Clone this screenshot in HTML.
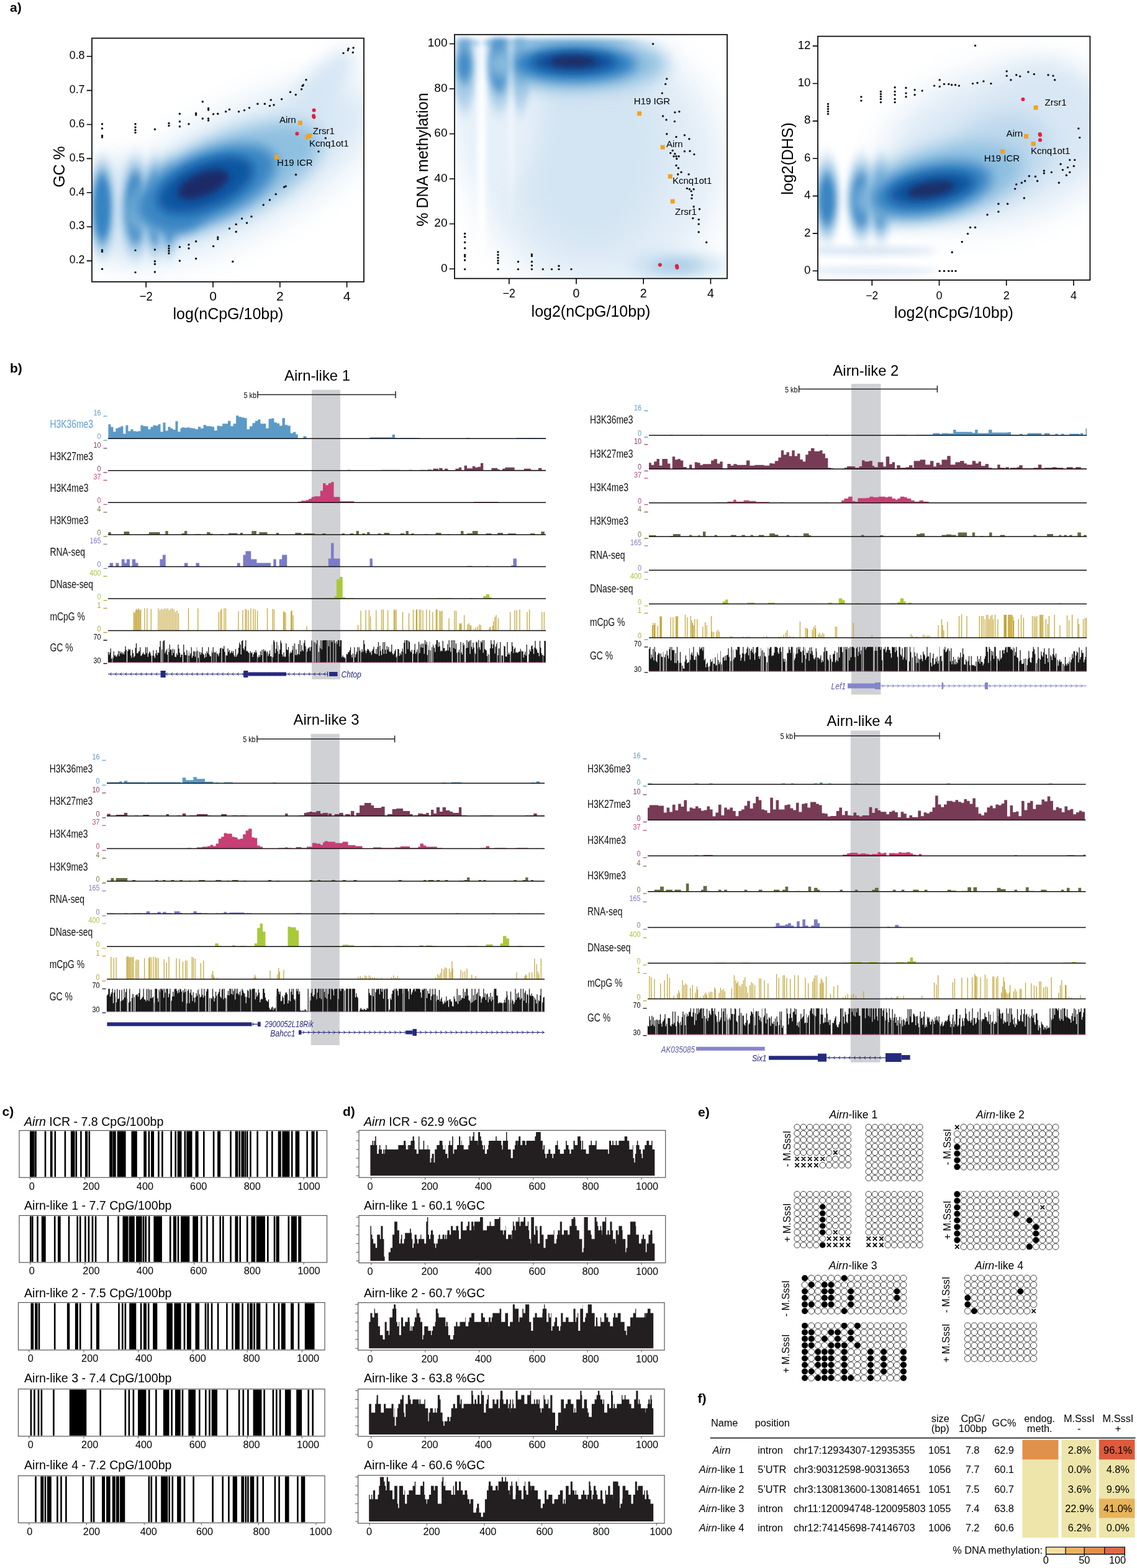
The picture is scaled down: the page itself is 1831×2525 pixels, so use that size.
<!DOCTYPE html>
<html><head><meta charset="utf-8"><title>Figure</title>
<style>html,body{margin:0;padding:0;background:#fff;} svg{display:block;} text{font-family:'Liberation Sans', Arial, Helvetica, sans-serif;}</style>
</head><body>
<svg width="1831" height="2525" viewBox="0 0 1831 2525" font-family="Liberation Sans, Arial, sans-serif">
<defs><filter id="b4" filterUnits="userSpaceOnUse" x="0" y="0" width="1831" height="560"><feGaussianBlur stdDeviation="4"/></filter><filter id="b6" filterUnits="userSpaceOnUse" x="0" y="0" width="1831" height="560"><feGaussianBlur stdDeviation="6"/></filter><filter id="b8" filterUnits="userSpaceOnUse" x="0" y="0" width="1831" height="560"><feGaussianBlur stdDeviation="8"/></filter><filter id="b10" filterUnits="userSpaceOnUse" x="0" y="0" width="1831" height="560"><feGaussianBlur stdDeviation="10"/></filter><filter id="b14" filterUnits="userSpaceOnUse" x="0" y="0" width="1831" height="560"><feGaussianBlur stdDeviation="14"/></filter><filter id="b20" filterUnits="userSpaceOnUse" x="0" y="0" width="1831" height="560"><feGaussianBlur stdDeviation="20"/></filter><filter id="b28" filterUnits="userSpaceOnUse" x="0" y="0" width="1831" height="560"><feGaussianBlur stdDeviation="28"/></filter><filter id="bv" filterUnits="userSpaceOnUse" x="0" y="0" width="1831" height="560"><feGaussianBlur stdDeviation="5 14"/></filter><filter id="bv2" filterUnits="userSpaceOnUse" x="0" y="0" width="1831" height="560"><feGaussianBlur stdDeviation="4 10"/></filter><filter id="bh" filterUnits="userSpaceOnUse" x="0" y="0" width="1831" height="560"><feGaussianBlur stdDeviation="14 5"/></filter><clipPath id="cp0"><rect x="148" y="61.5" width="438" height="392.3"/></clipPath><clipPath id="cp1"><rect x="732" y="55.7" width="439" height="392.8"/></clipPath><clipPath id="cp2"><rect x="1317" y="58.5" width="438.4000000000001" height="392.5"/></clipPath></defs>
<rect width="1831" height="2525" fill="#fff"/>
<text x="16.0" y="18.8" font-size="21" font-weight="bold">a)</text><g clip-path="url(#cp0)"><ellipse cx="385" cy="278" rx="250" ry="92" fill="#d9e8f5" transform="rotate(-28 385 278)" filter="url(#b28)"/><ellipse cx="505" cy="160" rx="100" ry="30" fill="#d6e6f4" transform="rotate(-52 505 160)" filter="url(#b14)"/><ellipse cx="200" cy="333" rx="60" ry="80" fill="#d9e8f5" filter="url(#b20)"/><ellipse cx="164.5" cy="334" rx="22" ry="75" fill="#a3c9e5" filter="url(#bv)"/><ellipse cx="164.5" cy="334" rx="14" ry="55" fill="#3984c3" filter="url(#bv2)"/><ellipse cx="218" cy="334" rx="24" ry="76" fill="#a3c9e5" filter="url(#bv)"/><ellipse cx="218" cy="334" rx="16" ry="56" fill="#3480c0" filter="url(#bv2)"/><ellipse cx="250" cy="334" rx="20" ry="76" fill="#a3c9e5" filter="url(#bv)"/><ellipse cx="250" cy="334" rx="12" ry="56" fill="#2a76ba" filter="url(#bv2)"/><ellipse cx="272" cy="334" rx="20" ry="74" fill="#a3c9e5" filter="url(#bv)"/><ellipse cx="272" cy="334" rx="12" ry="54" fill="#2671b6" filter="url(#bv2)"/><ellipse cx="360" cy="288" rx="170" ry="66" fill="#8fc0e0" transform="rotate(-24 360 288)" filter="url(#b14)"/><ellipse cx="285" cy="335" rx="45" ry="40" fill="#3a85c3" filter="url(#b10)"/><ellipse cx="332" cy="300" rx="120" ry="54" fill="#3a86c4" transform="rotate(-22 332 300)" filter="url(#b10)"/><ellipse cx="331" cy="298" rx="82" ry="38" fill="#0e56a2" transform="rotate(-22 331 298)" filter="url(#b8)"/><ellipse cx="327" cy="297" rx="44" ry="19" fill="#1c2c68" transform="rotate(-22 327 297)" filter="url(#b6)"/></g><g fill="#111"><circle cx="164.5" cy="199.8" r="1.7"/><circle cx="164.5" cy="207.0" r="1.7"/><circle cx="164.5" cy="218.5" r="1.7"/><circle cx="164.5" cy="221.0" r="1.7"/><circle cx="218.0" cy="199.8" r="1.7"/><circle cx="218.0" cy="205.0" r="1.7"/><circle cx="218.0" cy="209.5" r="1.7"/><circle cx="218.0" cy="213.6" r="1.7"/><circle cx="249.4" cy="208.3" r="1.7"/><circle cx="272.0" cy="198.4" r="1.7"/><circle cx="272.0" cy="202.4" r="1.7"/><circle cx="289.4" cy="183.2" r="1.7"/><circle cx="289.4" cy="195.8" r="1.7"/><circle cx="289.4" cy="203.8" r="1.7"/><circle cx="304.0" cy="199.8" r="1.7"/><circle cx="315.6" cy="182.4" r="1.7"/><circle cx="315.6" cy="185.0" r="1.7"/><circle cx="326.3" cy="163.7" r="1.7"/><circle cx="326.3" cy="191.0" r="1.7"/><circle cx="335.6" cy="174.4" r="1.7"/><circle cx="335.6" cy="177.0" r="1.7"/><circle cx="335.6" cy="191.0" r="1.7"/><circle cx="335.6" cy="194.0" r="1.7"/><circle cx="343.6" cy="183.8" r="1.7"/><circle cx="350.8" cy="183.2" r="1.7"/><circle cx="363.6" cy="179.8" r="1.7"/><circle cx="369.5" cy="176.3" r="1.7"/><circle cx="384.5" cy="179.8" r="1.7"/><circle cx="393.5" cy="177.6" r="1.7"/><circle cx="401.5" cy="173.6" r="1.7"/><circle cx="414.9" cy="167.2" r="1.7"/><circle cx="426.4" cy="167.2" r="1.7"/><circle cx="434.4" cy="170.4" r="1.7"/><circle cx="436.2" cy="161.0" r="1.7"/><circle cx="441.0" cy="169.0" r="1.7"/><circle cx="453.6" cy="159.7" r="1.7"/><circle cx="467.5" cy="148.3" r="1.7"/><circle cx="476.3" cy="152.5" r="1.7"/><circle cx="485.6" cy="143.7" r="1.7"/><circle cx="487.0" cy="138.4" r="1.7"/><circle cx="488.3" cy="137.0" r="1.7"/><circle cx="493.0" cy="128.5" r="1.7"/><circle cx="553.0" cy="85.6" r="1.7"/><circle cx="560.3" cy="81.0" r="1.7"/><circle cx="561.1" cy="78.3" r="1.7"/><circle cx="568.3" cy="84.5" r="1.7"/><circle cx="569.1" cy="77.0" r="1.7"/><circle cx="164.5" cy="402.6" r="1.7"/><circle cx="164.5" cy="405.3" r="1.7"/><circle cx="164.5" cy="433.3" r="1.7"/><circle cx="218.0" cy="403.1" r="1.7"/><circle cx="218.0" cy="438.6" r="1.7"/><circle cx="249.4" cy="402.0" r="1.7"/><circle cx="249.4" cy="420.8" r="1.7"/><circle cx="249.4" cy="425.3" r="1.7"/><circle cx="249.4" cy="438.0" r="1.7"/><circle cx="272.0" cy="396.0" r="1.7"/><circle cx="272.0" cy="400.0" r="1.7"/><circle cx="272.0" cy="404.0" r="1.7"/><circle cx="272.0" cy="408.0" r="1.7"/><circle cx="289.4" cy="397.8" r="1.7"/><circle cx="289.4" cy="420.0" r="1.7"/><circle cx="304.0" cy="394.0" r="1.7"/><circle cx="304.0" cy="400.0" r="1.7"/><circle cx="315.6" cy="388.7" r="1.7"/><circle cx="315.6" cy="416.5" r="1.7"/><circle cx="343.6" cy="396.5" r="1.7"/><circle cx="350.8" cy="382.0" r="1.7"/><circle cx="350.8" cy="385.0" r="1.7"/><circle cx="369.5" cy="368.0" r="1.7"/><circle cx="380.2" cy="361.2" r="1.7"/><circle cx="380.2" cy="373.2" r="1.7"/><circle cx="374.8" cy="421.3" r="1.7"/><circle cx="389.5" cy="352.0" r="1.7"/><circle cx="397.5" cy="359.0" r="1.7"/><circle cx="405.0" cy="348.7" r="1.7"/><circle cx="424.2" cy="330.0" r="1.7"/><circle cx="434.4" cy="322.0" r="1.7"/><circle cx="444.2" cy="312.7" r="1.7"/><circle cx="457.6" cy="301.2" r="1.7"/><circle cx="460.2" cy="299.9" r="1.7"/><circle cx="476.5" cy="281.2" r="1.7"/><circle cx="513.0" cy="244.0" r="1.7"/><circle cx="524.3" cy="222.5" r="1.7"/></g><circle cx="505.6" cy="177.4" r="3" fill="#e3213c"/><circle cx="505.0" cy="186.4" r="3" fill="#e3213c"/><circle cx="505.6" cy="188.6" r="3" fill="#e3213c"/><circle cx="478.4" cy="215.3" r="3" fill="#e3213c"/><rect x="480.0" y="194.4" width="7" height="7" fill="#f4a11e"/><rect x="491.5" y="217.1" width="7" height="7" fill="#f4a11e"/><rect x="495.5" y="215.0" width="7" height="7" fill="#f4a11e"/><rect x="442.1" y="249.1" width="7" height="7" fill="#f4a11e"/><text x="450.0" y="197.6" font-size="15">Airn</text><text x="503.8" y="215.8" font-size="15">Zrsr1</text><text x="498.1" y="235.8" font-size="15">Kcnq1ot1</text><text x="446.1" y="267.0" font-size="15">H19 ICR</text><rect x="148" y="61.5" width="438" height="392.3" fill="none" stroke="#000" stroke-width="1.7"/><path d="M235.2,453.8v9M343.0,453.8v9M450.8,453.8v9M558.6,453.8v9M148,420.1h-8.3M148,365.2h-8.3M148,310.3h-8.3M148,255.4h-8.3M148,200.5h-8.3M148,145.6h-8.3M148,90.7h-8.3" stroke="#000" stroke-width="1.6" fill="none"/><text x="224.7" y="484.3" font-size="21" textLength="21.0" lengthAdjust="spacingAndGlyphs">−2</text><text x="343.0" y="484.3" font-size="21" text-anchor="middle">0</text><text x="450.8" y="484.3" font-size="21" text-anchor="middle">2</text><text x="558.6" y="484.3" font-size="21" text-anchor="middle">4</text><text x="136.5" y="424.3" font-size="17.8" text-anchor="end">0.2</text><text x="136.5" y="369.4" font-size="17.8" text-anchor="end">0.3</text><text x="136.5" y="314.5" font-size="17.8" text-anchor="end">0.4</text><text x="136.5" y="259.6" font-size="17.8" text-anchor="end">0.5</text><text x="136.5" y="204.7" font-size="17.8" text-anchor="end">0.6</text><text x="136.5" y="149.8" font-size="17.8" text-anchor="end">0.7</text><text x="136.5" y="94.9" font-size="17.8" text-anchor="end">0.8</text><text x="367.5" y="514.0" font-size="25" text-anchor="middle">log(nCpG/10bp)</text><text x="104.0" y="268.5" font-size="25" text-anchor="middle" transform="rotate(-90 104.0 268.5)">GC %</text><g clip-path="url(#cp1)"><ellipse cx="965" cy="265" rx="200" ry="205" fill="#e2edf7" filter="url(#b28)"/><ellipse cx="950" cy="235" rx="120" ry="170" fill="#d3e4f2" filter="url(#b28)"/><ellipse cx="800" cy="175" rx="70" ry="130" fill="#e6f0f9" filter="url(#b20)"/><ellipse cx="880" cy="69" rx="140" ry="7" fill="#8ebfe0" filter="url(#bh)"/><ellipse cx="748" cy="115" rx="18" ry="62" fill="#a9cce6" filter="url(#bv)"/><ellipse cx="748" cy="69" rx="12" ry="7" fill="#448dc6" opacity="0.9" filter="url(#bv2)"/><ellipse cx="748" cy="105" rx="12" ry="28" fill="#448dc6" filter="url(#bv2)"/><ellipse cx="804" cy="115" rx="21" ry="62" fill="#a9cce6" filter="url(#bv)"/><ellipse cx="804" cy="69" rx="15" ry="7" fill="#2a7abe" opacity="0.9" filter="url(#bv2)"/><ellipse cx="804" cy="105" rx="15" ry="40" fill="#2a7abe" filter="url(#bv2)"/><ellipse cx="838" cy="115" rx="16" ry="62" fill="#a9cce6" filter="url(#bv)"/><ellipse cx="838" cy="69" rx="10" ry="7" fill="#3a86c4" opacity="0.9" filter="url(#bv2)"/><ellipse cx="838" cy="105" rx="10" ry="24" fill="#3a86c4" filter="url(#bv2)"/><ellipse cx="925" cy="103" rx="150" ry="42" fill="#8fc0e0" filter="url(#b14)"/><ellipse cx="925" cy="103" rx="100" ry="29" fill="#2b7bbf" filter="url(#b10)"/><ellipse cx="924" cy="100" rx="68" ry="17" fill="#0b4d97" filter="url(#b8)"/><ellipse cx="923" cy="99" rx="38" ry="10" fill="#1e2d68" filter="url(#b6)"/><ellipse cx="1093" cy="428" rx="80" ry="15" fill="#bcd8ec" filter="url(#b14)"/><ellipse cx="1090" cy="428" rx="40" ry="9" fill="#a3c9e5" filter="url(#b10)"/><ellipse cx="775.5" cy="230" rx="6.5" ry="200" fill="#ffffff" filter="url(#bv2)"/><ellipse cx="823" cy="200" rx="3" ry="150" fill="#ffffff" opacity="0.6" filter="url(#bv2)"/><rect x="732" y="50" width="440" height="10" fill="#fff" filter="url(#b4)"/></g><g fill="#111"><circle cx="1051.6" cy="70.7" r="1.7"/><circle cx="1073.8" cy="126.9" r="1.7"/><circle cx="1071.7" cy="135.4" r="1.7"/><circle cx="1066.3" cy="150.1" r="1.7"/><circle cx="1086.9" cy="180.9" r="1.7"/><circle cx="1093.9" cy="179.8" r="1.7"/><circle cx="1067.6" cy="187.0" r="1.7"/><circle cx="1073.0" cy="192.9" r="1.7"/><circle cx="1086.4" cy="195.6" r="1.7"/><circle cx="1073.8" cy="215.7" r="1.7"/><circle cx="1089.0" cy="220.5" r="1.7"/><circle cx="1102.4" cy="217.8" r="1.7"/><circle cx="1109.9" cy="223.7" r="1.7"/><circle cx="1083.2" cy="242.4" r="1.7"/><circle cx="1079.7" cy="246.4" r="1.7"/><circle cx="1086.9" cy="247.8" r="1.7"/><circle cx="1085.0" cy="251.8" r="1.7"/><circle cx="1089.0" cy="251.8" r="1.7"/><circle cx="1093.1" cy="251.8" r="1.7"/><circle cx="1089.8" cy="255.8" r="1.7"/><circle cx="1102.4" cy="243.8" r="1.7"/><circle cx="1111.0" cy="243.2" r="1.7"/><circle cx="1117.9" cy="248.6" r="1.7"/><circle cx="1089.0" cy="266.5" r="1.7"/><circle cx="1092.5" cy="270.8" r="1.7"/><circle cx="1097.1" cy="277.2" r="1.7"/><circle cx="1091.7" cy="280.7" r="1.7"/><circle cx="1109.1" cy="280.7" r="1.7"/><circle cx="1106.4" cy="303.4" r="1.7"/><circle cx="1110.4" cy="304.7" r="1.7"/><circle cx="1113.1" cy="307.9" r="1.7"/><circle cx="1117.1" cy="304.7" r="1.7"/><circle cx="1114.5" cy="314.1" r="1.7"/><circle cx="1113.9" cy="319.4" r="1.7"/><circle cx="1117.1" cy="332.8" r="1.7"/><circle cx="1126.5" cy="336.8" r="1.7"/><circle cx="1115.8" cy="351.5" r="1.7"/><circle cx="1125.2" cy="353.4" r="1.7"/><circle cx="1125.2" cy="360.9" r="1.7"/><circle cx="1125.2" cy="373.7" r="1.7"/><circle cx="1137.7" cy="390.3" r="1.7"/><circle cx="748.6" cy="376.2" r="1.7"/><circle cx="748.6" cy="381.5" r="1.7"/><circle cx="748.6" cy="390.3" r="1.7"/><circle cx="748.6" cy="399.7" r="1.7"/><circle cx="748.6" cy="410.4" r="1.7"/><circle cx="748.6" cy="413.0" r="1.7"/><circle cx="748.6" cy="419.0" r="1.7"/><circle cx="748.6" cy="433.6" r="1.7"/><circle cx="802.0" cy="405.8" r="1.7"/><circle cx="802.0" cy="410.4" r="1.7"/><circle cx="802.0" cy="415.2" r="1.7"/><circle cx="802.0" cy="419.7" r="1.7"/><circle cx="802.0" cy="423.8" r="1.7"/><circle cx="802.0" cy="433.6" r="1.7"/><circle cx="834.4" cy="421.5" r="1.7"/><circle cx="834.4" cy="433.6" r="1.7"/><circle cx="856.4" cy="409.6" r="1.7"/><circle cx="856.4" cy="412.3" r="1.7"/><circle cx="856.4" cy="421.5" r="1.7"/><circle cx="856.4" cy="427.6" r="1.7"/><circle cx="856.4" cy="433.6" r="1.7"/><circle cx="874.3" cy="433.6" r="1.7"/><circle cx="888.5" cy="433.6" r="1.7"/><circle cx="900.0" cy="428.3" r="1.7"/><circle cx="900.0" cy="433.6" r="1.7"/><circle cx="920.0" cy="433.6" r="1.7"/></g><circle cx="1062.8" cy="426.4" r="3" fill="#e3213c"/><circle cx="1089.9" cy="428.3" r="3" fill="#e3213c"/><circle cx="1090.4" cy="431.0" r="3" fill="#e3213c"/><rect x="1026.2" y="179.3" width="7" height="7" fill="#f4a11e"/><rect x="1063.6" y="233.6" width="7" height="7" fill="#f4a11e"/><rect x="1075.7" y="280.6" width="7" height="7" fill="#f4a11e"/><rect x="1079.7" y="320.7" width="7" height="7" fill="#f4a11e"/><text x="1020.8" y="168.3" font-size="15">H19 IGR</text><text x="1073.0" y="237.3" font-size="15">Airn</text><text x="1082.9" y="296.2" font-size="15">Kcnq1ot1</text><text x="1087.0" y="346.2" font-size="15">Zrsr1</text><rect x="732" y="55.7" width="439" height="392.8" fill="none" stroke="#000" stroke-width="1.7"/><path d="M819.8,448.5v9M928.0,448.5v9M1036.2,448.5v9M1144.4,448.5v9M732,433.0h-8.3M732,360.5h-8.3M732,288.0h-8.3M732,215.5h-8.3M732,143.0h-8.3M732,70.5h-8.3" stroke="#000" stroke-width="1.6" fill="none"/><text x="809.8" y="478.7" font-size="19.5" textLength="20.0" lengthAdjust="spacingAndGlyphs">−2</text><text x="928.0" y="478.7" font-size="19.5" text-anchor="middle">0</text><text x="1036.2" y="478.7" font-size="19.5" text-anchor="middle">2</text><text x="1144.4" y="478.7" font-size="19.5" text-anchor="middle">4</text><text x="720.5" y="437.6" font-size="19" text-anchor="end">0</text><text x="720.5" y="365.1" font-size="19" text-anchor="end">20</text><text x="720.5" y="292.6" font-size="19" text-anchor="end">40</text><text x="720.5" y="220.1" font-size="19" text-anchor="end">60</text><text x="720.5" y="147.6" font-size="19" text-anchor="end">80</text><text x="720.5" y="75.1" font-size="19" text-anchor="end">100</text><text x="951.5" y="510.0" font-size="25" text-anchor="middle">log2(nCpG/10bp)</text><text x="689.0" y="257.0" font-size="25" text-anchor="middle" transform="rotate(-90 689.0 257.0)">% DNA methylation</text><g clip-path="url(#cp2)"><ellipse cx="1610" cy="235" rx="190" ry="120" fill="#dce9f5" transform="rotate(-14 1610 235)" filter="url(#b28)"/><ellipse cx="1680" cy="190" rx="90" ry="90" fill="#d9e7f4" filter="url(#b20)"/><ellipse cx="1585" cy="265" rx="110" ry="60" fill="#c4dbef" transform="rotate(-20 1585 265)" filter="url(#b20)"/><ellipse cx="1400" cy="404" rx="110" ry="7" fill="#d8e5f3" filter="url(#b6)"/><ellipse cx="1400" cy="436" rx="110" ry="6" fill="#dde8f5" filter="url(#b6)"/><ellipse cx="1610" cy="245" rx="75" ry="55" fill="#bcd7ec" transform="rotate(-25 1610 245)" filter="url(#b20)"/><ellipse cx="1331.7" cy="320" rx="21" ry="64" fill="#a3c9e5" filter="url(#bv)"/><ellipse cx="1331.7" cy="322" rx="13" ry="42" fill="#3a85c3" filter="url(#bv2)"/><ellipse cx="1387" cy="320" rx="23" ry="64" fill="#a3c9e5" filter="url(#bv)"/><ellipse cx="1387" cy="322" rx="15" ry="42" fill="#2c79bd" filter="url(#bv2)"/><ellipse cx="1418" cy="320" rx="19" ry="64" fill="#a3c9e5" filter="url(#bv)"/><ellipse cx="1418" cy="322" rx="11" ry="42" fill="#2a76ba" filter="url(#bv2)"/><ellipse cx="1510" cy="296" rx="140" ry="56" fill="#8dbfe0" transform="rotate(-14 1510 296)" filter="url(#b14)"/><ellipse cx="1500" cy="304" rx="98" ry="40" fill="#3783c2" transform="rotate(-12 1500 304)" filter="url(#b10)"/><ellipse cx="1500" cy="304" rx="70" ry="25" fill="#0d56a0" transform="rotate(-10 1500 304)" filter="url(#b8)"/><ellipse cx="1499" cy="305" rx="40" ry="12" fill="#1e2d68" transform="rotate(-10 1499 305)" filter="url(#b6)"/></g><g fill="#111"><circle cx="1570.5" cy="73.5" r="1.7"/><circle cx="1333.5" cy="167.4" r="1.7"/><circle cx="1333.5" cy="171.4" r="1.7"/><circle cx="1333.5" cy="175.4" r="1.7"/><circle cx="1333.5" cy="179.4" r="1.7"/><circle cx="1333.5" cy="183.4" r="1.7"/><circle cx="1386.9" cy="155.9" r="1.7"/><circle cx="1386.9" cy="162.1" r="1.7"/><circle cx="1418.4" cy="147.4" r="1.7"/><circle cx="1418.4" cy="151.4" r="1.7"/><circle cx="1418.4" cy="155.4" r="1.7"/><circle cx="1418.4" cy="159.4" r="1.7"/><circle cx="1418.4" cy="164.8" r="1.7"/><circle cx="1441.1" cy="140.7" r="1.7"/><circle cx="1441.1" cy="147.4" r="1.7"/><circle cx="1441.1" cy="152.7" r="1.7"/><circle cx="1441.1" cy="159.4" r="1.7"/><circle cx="1441.1" cy="164.8" r="1.7"/><circle cx="1459.0" cy="141.5" r="1.7"/><circle cx="1459.0" cy="150.1" r="1.7"/><circle cx="1459.0" cy="155.9" r="1.7"/><circle cx="1473.1" cy="144.7" r="1.7"/><circle cx="1473.1" cy="152.7" r="1.7"/><circle cx="1485.1" cy="146.1" r="1.7"/><circle cx="1504.6" cy="138.1" r="1.7"/><circle cx="1513.2" cy="128.7" r="1.7"/><circle cx="1513.2" cy="139.4" r="1.7"/><circle cx="1520.4" cy="135.4" r="1.7"/><circle cx="1527.8" cy="135.4" r="1.7"/><circle cx="1532.6" cy="136.7" r="1.7"/><circle cx="1538.5" cy="136.7" r="1.7"/><circle cx="1544.4" cy="138.1" r="1.7"/><circle cx="1566.5" cy="134.6" r="1.7"/><circle cx="1574.0" cy="133.5" r="1.7"/><circle cx="1583.9" cy="130.9" r="1.7"/><circle cx="1595.9" cy="134.6" r="1.7"/><circle cx="1621.2" cy="114.8" r="1.7"/><circle cx="1621.2" cy="122.1" r="1.7"/><circle cx="1627.9" cy="128.7" r="1.7"/><circle cx="1636.7" cy="120.7" r="1.7"/><circle cx="1642.6" cy="122.9" r="1.7"/><circle cx="1655.9" cy="115.9" r="1.7"/><circle cx="1665.3" cy="119.4" r="1.7"/><circle cx="1688.0" cy="120.7" r="1.7"/><circle cx="1696.0" cy="122.1" r="1.7"/><circle cx="1698.6" cy="128.7" r="1.7"/><circle cx="1736.8" cy="206.9" r="1.7"/><circle cx="1738.7" cy="221.6" r="1.7"/><circle cx="1722.7" cy="257.6" r="1.7"/><circle cx="1730.7" cy="257.6" r="1.7"/><circle cx="1708.0" cy="264.3" r="1.7"/><circle cx="1719.5" cy="269.6" r="1.7"/><circle cx="1729.3" cy="267.5" r="1.7"/><circle cx="1711.4" cy="273.6" r="1.7"/><circle cx="1722.7" cy="277.4" r="1.7"/><circle cx="1717.3" cy="282.2" r="1.7"/><circle cx="1681.3" cy="275.0" r="1.7"/><circle cx="1693.3" cy="277.4" r="1.7"/><circle cx="1681.3" cy="279.0" r="1.7"/><circle cx="1705.3" cy="294.2" r="1.7"/><circle cx="1657.3" cy="283.5" r="1.7"/><circle cx="1667.4" cy="284.3" r="1.7"/><circle cx="1670.6" cy="291.5" r="1.7"/><circle cx="1650.6" cy="291.5" r="1.7"/><circle cx="1645.3" cy="294.2" r="1.7"/><circle cx="1636.7" cy="296.9" r="1.7"/><circle cx="1634.6" cy="304.1" r="1.7"/><circle cx="1649.3" cy="319.0" r="1.7"/><circle cx="1607.9" cy="328.3" r="1.7"/><circle cx="1622.6" cy="328.3" r="1.7"/><circle cx="1607.9" cy="340.9" r="1.7"/><circle cx="1590.0" cy="345.7" r="1.7"/><circle cx="1562.5" cy="366.2" r="1.7"/><circle cx="1570.5" cy="366.2" r="1.7"/><circle cx="1558.5" cy="376.4" r="1.7"/><circle cx="1549.2" cy="389.5" r="1.7"/><circle cx="1533.2" cy="406.3" r="1.7"/><circle cx="1513.2" cy="436.4" r="1.7"/><circle cx="1520.4" cy="436.4" r="1.7"/><circle cx="1527.8" cy="436.4" r="1.7"/><circle cx="1533.2" cy="436.4" r="1.7"/><circle cx="1539.0" cy="436.4" r="1.7"/></g><circle cx="1647.4" cy="160.0" r="3" fill="#e3213c"/><circle cx="1674.6" cy="216.0" r="3" fill="#e3213c"/><circle cx="1675.0" cy="217.6" r="3" fill="#e3213c"/><circle cx="1675.0" cy="225.6" r="3" fill="#e3213c"/><rect x="1664.5" y="169.8" width="7" height="7" fill="#f4a11e"/><rect x="1649.0" y="216.0" width="7" height="7" fill="#f4a11e"/><rect x="1660.5" y="228.0" width="7" height="7" fill="#f4a11e"/><rect x="1611.1" y="240.5" width="7" height="7" fill="#f4a11e"/><text x="1682.6" y="170.0" font-size="15">Zrsr1</text><text x="1620.4" y="219.7" font-size="15">Airn</text><text x="1660.0" y="248.0" font-size="15">Kcnq1ot1</text><text x="1584.7" y="259.8" font-size="15">H19 ICR</text><rect x="1317" y="58.5" width="438.4000000000001" height="392.5" fill="none" stroke="#000" stroke-width="1.7"/><path d="M1404.3,451v9M1512.5,451v9M1620.7,451v9M1728.9,451v9M1317,436.3h-8.3M1317,375.9h-8.3M1317,315.6h-8.3M1317,255.2h-8.3M1317,194.9h-8.3M1317,134.5h-8.3M1317,74.1h-8.3" stroke="#000" stroke-width="1.6" fill="none"/><text x="1394.5" y="481.5" font-size="18" textLength="19.5" lengthAdjust="spacingAndGlyphs">−2</text><text x="1512.5" y="481.5" font-size="18" text-anchor="middle">0</text><text x="1620.7" y="481.5" font-size="18" text-anchor="middle">2</text><text x="1728.9" y="481.5" font-size="18" text-anchor="middle">4</text><text x="1305.5" y="440.8" font-size="18.7" text-anchor="end">0</text><text x="1305.5" y="380.5" font-size="18.7" text-anchor="end">2</text><text x="1305.5" y="320.1" font-size="18.7" text-anchor="end">4</text><text x="1305.5" y="259.8" font-size="18.7" text-anchor="end">6</text><text x="1305.5" y="199.4" font-size="18.7" text-anchor="end">8</text><text x="1305.5" y="139.0" font-size="18.7" text-anchor="end">10</text><text x="1305.5" y="78.7" font-size="18.7" text-anchor="end">12</text><text x="1536.0" y="512.0" font-size="25" text-anchor="middle">log2(nCpG/10bp)</text><text x="1277.0" y="255.5" font-size="25" text-anchor="middle" transform="rotate(-90 1277.0 255.5)">log2(DHS)</text><text x="16.0" y="600.0" font-size="21" font-weight="bold">b)</text><rect x="502" y="627.7" width="46.0" height="466.3" fill="#d0d1d4"/><text x="511.0" y="612.5" font-size="23.8" text-anchor="middle">Airn-like 1</text><text x="392.6" y="640.5" font-size="13.5" textLength="20.4" lengthAdjust="spacingAndGlyphs">5 kb</text><path d="M415 635.5H637M415 630.0v11M637 630.0v11" stroke="#222" stroke-width="1.5" fill="none"/><path d="M174.4 706.2V683.2H178.4V706.2ZM178.4 706.2V687.6H182.4V706.2ZM182.4 706.2V695.2H186.4V706.2ZM186.4 706.2V689.8H190.4V706.2ZM190.4 706.2V688.2H194.4V706.2ZM194.4 706.2V686.2H198.4V706.2ZM198.4 706.2V698.5H202.4V706.2ZM202.4 706.2V684.8H206.4V706.2ZM206.4 706.2V694.2H210.4V706.2ZM210.4 706.2V691.2H214.4V706.2ZM214.4 706.2V694.2H218.4V706.2ZM218.4 706.2V694.8H222.4V706.2ZM222.4 706.2V694.2H226.4V706.2ZM226.4 706.2V684.8H230.5V706.2ZM230.5 706.2V686.2H234.5V706.2ZM234.5 706.2V686.5H238.5V706.2ZM238.5 706.2V691.2H242.5V706.2ZM242.5 706.2V687.6H246.5V706.2ZM246.5 706.2V684.8H250.5V706.2ZM250.5 706.2V685.4H254.5V706.2ZM254.5 706.2V683.2H258.5V706.2ZM258.5 706.2V695.2H262.5V706.2ZM262.5 706.2V680.6H266.5V706.2ZM266.5 706.2V693.5H270.5V706.2ZM270.5 706.2V687.2H274.5V706.2ZM274.5 706.2V689.8H278.5V706.2ZM278.5 706.2V692.0H282.5V706.2ZM282.5 706.2V678.2H286.5V706.2ZM286.5 706.2V695.2H290.5V706.2ZM290.5 706.2V689.8H294.5V706.2ZM292.6 706.2V688.2H296.9V706.2ZM296.9 706.2V688.7H301.3V706.2ZM301.3 706.2V688.2H305.7V706.2ZM305.7 706.2V689.2H310.1V706.2ZM310.1 706.2V689.8H314.5V706.2ZM314.5 706.2V691.2H318.8V706.2ZM318.8 706.2V687.2H323.2V706.2ZM323.2 706.2V689.8H327.6V706.2ZM327.6 706.2V684.3H332.0V706.2ZM332.0 706.2V686.2H336.3V706.2ZM336.3 706.2V686.2H340.7V706.2ZM340.7 706.2V687.2H345.1V706.2ZM345.1 706.2V693.2H349.5V706.2ZM349.5 706.2V685.4H353.8V706.2ZM353.8 706.2V686.2H358.2V706.2ZM358.2 706.2V682.2H362.6V706.2ZM362.6 706.2V682.2H367.0V706.2ZM367.0 706.2V677.7H371.4V706.2ZM371.4 706.2V686.2H375.7V706.2ZM375.7 706.2V682.2H380.1V706.2ZM380.1 706.2V669.2H384.5V706.2ZM384.5 706.2V671.2H388.9V706.2ZM388.9 706.2V672.2H393.2V706.2ZM393.2 706.2V673.2H397.6V706.2ZM397.6 706.2V691.2H402.0V706.2ZM402.0 706.2V686.5H406.4V706.2ZM406.4 706.2V681.2H410.8V706.2ZM410.8 706.2V677.7H415.1V706.2ZM415.1 706.2V675.6H419.5V706.2ZM419.5 706.2V682.2H423.9V706.2ZM423.9 706.2V682.2H428.3V706.2ZM428.3 706.2V689.8H432.6V706.2ZM432.6 706.2V674.5H437.0V706.2ZM437.0 706.2V673.8H441.4V706.2ZM441.4 706.2V680.2H445.8V706.2ZM445.8 706.2V681.7H450.1V706.2ZM450.1 706.2V685.4H454.5V706.2ZM454.5 706.2V673.2H458.9V706.2ZM458.9 706.2V684.2H463.3V706.2ZM463.3 706.2V685.4H467.7V706.2ZM467.7 706.2V697.4H472.0V706.2ZM472.0 706.2V695.7H476.4V706.2ZM476.4 706.2V699.6H479.7V706.2ZM488.5 706.2V702.5H493.5V706.2ZM595.5 706.2V704.2H631.6V706.2ZM631.6 706.2V699.7H636.0V706.2ZM636.0 706.2V705.2H676.5V706.2ZM752.0 706.2V705.2H756.4V706.2ZM831.9 706.2V705.2H878.9V706.2Z" fill="#5b9ac7"/><path d="M174 706.2H879" stroke="#111" stroke-width="1.5"/><text x="80.5" y="689.2" font-size="17.5" fill="#5d9fd3" textLength="69.6" lengthAdjust="spacingAndGlyphs">H3K36me3</text><text x="150.5" y="669.2" font-size="13.5" fill="#5d9fd3" textLength="12.0" lengthAdjust="spacingAndGlyphs">16</text><text x="156.5" y="707.2" font-size="13.5" fill="#5d9fd3" textLength="6.0" lengthAdjust="spacingAndGlyphs">0</text><path d="M202.8 757.8V757.0H209.4V757.8ZM225.8 757.8V757.0H237.8V757.8ZM397.6 757.8V757.0H404.2V757.8ZM500.5 757.8V757.0H515.8V757.8ZM559.4 757.8V756.8H564.9V757.8ZM614.1 757.8V756.8H644.8V757.8ZM657.9 757.8V756.8H664.5V757.8ZM675.4 757.8V756.8H686.3V757.8ZM688.5 757.8V756.2H695.1V757.8ZM697.3 757.8V754.8H706.0V757.8ZM707.1 757.8V753.8H712.6V757.8ZM715.9 757.8V754.8H721.4V757.8ZM733.4 757.8V754.8H738.9V757.8ZM738.9 757.8V752.8H743.2V757.8ZM747.6 757.8V749.8H752.0V757.8ZM752.0 757.8V754.2H760.8V757.8ZM760.8 757.8V750.8H765.1V757.8ZM765.1 757.8V752.8H769.5V757.8ZM769.5 757.8V751.8H773.9V757.8ZM773.9 757.8V745.8H778.3V757.8ZM791.4 757.8V753.8H801.2V757.8ZM801.2 757.8V755.8H804.5V757.8ZM808.9 757.8V754.8H813.3V757.8ZM813.3 757.8V752.8H822.0V757.8ZM822.0 757.8V752.8H828.6V757.8ZM828.6 757.8V756.8H843.9V757.8ZM843.9 757.8V754.8H854.9V757.8ZM854.9 757.8V756.8H865.8V757.8ZM866.9 757.8V753.8H872.4V757.8ZM872.4 757.8V756.8H878.9V757.8Z" fill="#783b56"/><path d="M174 757.8H879" stroke="#111" stroke-width="1.5"/><text x="80.5" y="740.8" font-size="17.5" fill="#111" textLength="69.6" lengthAdjust="spacingAndGlyphs">H3K27me3</text><text x="150.5" y="720.8" font-size="13.5" fill="#8a3d5e" textLength="12.0" lengthAdjust="spacingAndGlyphs">10</text><text x="156.5" y="758.8" font-size="13.5" fill="#8a3d5e" textLength="6.0" lengthAdjust="spacingAndGlyphs">0</text><path d="M479.7 809.3V807.8H485.2V809.3ZM485.2 809.3V806.3H492.8V809.3ZM492.8 809.3V805.3H497.2V809.3ZM497.2 809.3V803.3H501.6V809.3ZM501.6 809.3V800.3H506.0V809.3ZM506.0 809.3V799.3H515.8V809.3ZM515.8 809.3V790.3H520.2V809.3ZM520.0 809.3V778.3H524.4V809.3ZM520.2 809.3V785.3H524.6V809.3ZM524.4 809.3V781.3H528.8V809.3ZM524.6 809.3V786.3H530.0V809.3ZM528.8 809.3V778.3H533.1V809.3ZM533.1 809.3V776.3H537.5V809.3ZM537.5 809.3V800.3H543.0V809.3ZM543.0 809.3V800.3H547.4V809.3ZM547.4 809.3V807.3H570.3V809.3ZM762.9 809.3V808.3H802.3V809.3Z" fill="#c73f74"/><path d="M174 809.3H879" stroke="#111" stroke-width="1.5"/><text x="80.5" y="792.3" font-size="17.5" fill="#111" textLength="61.9" lengthAdjust="spacingAndGlyphs">H3K4me3</text><text x="150.5" y="772.3" font-size="13.5" fill="#c4477c" textLength="12.0" lengthAdjust="spacingAndGlyphs">37</text><text x="156.5" y="810.3" font-size="13.5" fill="#c4477c" textLength="6.0" lengthAdjust="spacingAndGlyphs">0</text><path d="M174.4 860.9V856.9H178.8V860.9ZM199.5 860.9V855.9H208.3V860.9ZM235.7 860.9V859.9H240.0V860.9ZM240.0 860.9V856.9H257.5V860.9ZM266.3 860.9V854.9H270.7V860.9ZM292.6 860.9V858.9H296.9V860.9ZM296.9 860.9V854.9H301.3V860.9ZM314.5 860.9V859.9H323.2V860.9ZM333.1 860.9V856.9H338.5V860.9ZM338.5 860.9V859.4H342.9V860.9ZM353.8 860.9V859.9H360.4V860.9ZM368.1 860.9V858.4H382.3V860.9ZM386.7 860.9V857.9H391.1V860.9ZM405.3 860.9V854.9H412.9V860.9ZM417.3 860.9V856.9H430.5V860.9ZM444.7 860.9V857.9H449.1V860.9ZM475.3 860.9V857.9H485.2V860.9ZM489.5 860.9V858.9H507.1V860.9ZM519.1 860.9V858.9H524.6V860.9ZM520.0 860.9V858.9H524.4V860.9ZM550.6 860.9V858.9H555.0V860.9ZM563.8 860.9V858.9H569.2V860.9ZM573.6 860.9V854.9H578.0V860.9ZM583.5 860.9V858.9H587.8V860.9ZM591.1 860.9V856.9H595.5V860.9ZM608.6 860.9V858.9H613.0V860.9ZM618.5 860.9V857.9H627.2V860.9ZM644.8 860.9V858.9H651.3V860.9ZM653.5 860.9V854.9H657.9V860.9ZM662.3 860.9V858.9H666.6V860.9ZM684.1 860.9V859.9H688.5V860.9ZM701.7 860.9V857.9H710.4V860.9ZM720.3 860.9V859.9H724.6V860.9ZM742.1 860.9V854.9H746.5V860.9ZM752.0 860.9V858.9H760.8V860.9ZM760.8 860.9V854.9H769.5V860.9ZM782.6 860.9V858.9H791.4V860.9ZM801.2 860.9V857.9H810.0V860.9ZM817.7 860.9V858.9H830.8V860.9ZM853.8 860.9V858.9H861.4V860.9ZM871.3 860.9V855.9H876.8V860.9Z" fill="#696a3f"/><path d="M174 860.9H879" stroke="#111" stroke-width="1.5"/><text x="80.5" y="843.9" font-size="17.5" fill="#111" textLength="61.9" lengthAdjust="spacingAndGlyphs">H3K9me3</text><text x="156.5" y="823.9" font-size="13.5" fill="#7b7b44" textLength="6.0" lengthAdjust="spacingAndGlyphs">4</text><text x="156.5" y="861.9" font-size="13.5" fill="#7b7b44" textLength="6.0" lengthAdjust="spacingAndGlyphs">0</text><path d="M176.6 912.4V906.4H182.0V912.4ZM186.4 912.4V906.4H191.4V912.4ZM195.8 912.4V900.4H200.6V912.4ZM200.6 912.4V906.4H203.9V912.4ZM203.9 912.4V900.4H209.0V912.4ZM212.7 912.4V900.4H218.2V912.4ZM218.2 912.4V906.4H222.5V912.4ZM257.5 912.4V900.4H261.9V912.4ZM261.9 912.4V893.4H266.7V912.4ZM296.9 912.4V906.4H302.4V912.4ZM315.5 912.4V906.4H321.0V912.4ZM381.9 912.4V906.4H386.7V912.4ZM391.5 912.4V893.4H395.4V912.4ZM395.4 912.4V887.4H404.2V912.4ZM404.2 912.4V900.4H413.4V912.4ZM413.4 912.4V906.4H435.9V912.4ZM440.3 912.4V900.4H444.7V912.4ZM449.7 912.4V900.4H454.1V912.4ZM454.1 912.4V893.4H462.2V912.4ZM528.8 912.4V899.4H533.1V912.4ZM533.1 912.4V874.4H537.5V912.4ZM537.5 912.4V899.4H547.4V912.4ZM595.5 912.4V899.4H599.9V912.4ZM752.0 912.4V911.4H760.8V912.4ZM782.6 912.4V911.4H787.0V912.4ZM823.1 912.4V910.4H826.4V912.4ZM826.4 912.4V899.4H831.9V912.4Z" fill="#7b7bc9"/><path d="M174 912.4H879" stroke="#111" stroke-width="1.5"/><text x="80.5" y="895.4" font-size="17.5" fill="#111" textLength="56.4" lengthAdjust="spacingAndGlyphs">RNA-seq</text><text x="144.5" y="875.4" font-size="13.5" fill="#7e7ec6" textLength="18.0" lengthAdjust="spacingAndGlyphs">165</text><text x="156.5" y="913.4" font-size="13.5" fill="#7e7ec6" textLength="6.0" lengthAdjust="spacingAndGlyphs">0</text><path d="M520.0 964.0V963.0H537.5V964.0ZM538.6 964.0V960.0H541.9V964.0ZM541.9 964.0V933.0H546.7V964.0ZM546.7 964.0V929.0H551.7V964.0ZM551.7 964.0V962.0H556.1V964.0ZM556.1 964.0V963.0H570.3V964.0ZM703.8 964.0V963.0H727.9V964.0ZM756.4 964.0V963.0H760.8V964.0ZM778.3 964.0V960.0H782.6V964.0ZM782.6 964.0V957.0H788.1V964.0ZM788.1 964.0V962.0H791.4V964.0Z" fill="#a9c93a"/><path d="M174 964.0H879" stroke="#111" stroke-width="1.5"/><text x="80.5" y="947.0" font-size="17.5" fill="#111" textLength="69.6" lengthAdjust="spacingAndGlyphs">DNase-seq</text><text x="144.5" y="927.0" font-size="13.5" fill="#a8c83c" textLength="18.0" lengthAdjust="spacingAndGlyphs">400</text><text x="156.5" y="965.0" font-size="13.5" fill="#a8c83c" textLength="6.0" lengthAdjust="spacingAndGlyphs">0</text><path d="M215.5 1015.5V985.5M217.1 1015.5V986.5M218.7 1015.5V982.5M220.3 1015.5V980.5M221.9 1015.5V981.5M223.5 1015.5V979.5M225.1 1015.5V982.5M226.7 1015.5V981.5M233.0 1015.5V979.5M236.8 1015.5V979.5M243.3 1015.5V980.5M255.0 1015.5V979.5M257.5 1015.5V982.5M260.0 1015.5V980.5M262.5 1015.5V981.5M265.0 1015.5V979.5M267.5 1015.5V980.5M270.0 1015.5V979.5M272.5 1015.5V982.5M275.0 1015.5V980.5M277.5 1015.5V979.5M280.0 1015.5V981.5M282.5 1015.5V985.5M285.0 1015.5V983.5M287.5 1015.5V987.5M303.5 1015.5V979.5M318.8 1015.5V979.5M352.0 1015.5V985.5M355.0 1015.5V982.5M357.0 1015.5V980.5M361.0 1015.5V979.5M363.5 1015.5V979.5M384.0 1015.5V984.5M391.0 1015.5V982.5M395.0 1015.5V980.5M397.0 1015.5V981.5M400.0 1015.5V982.5M404.0 1015.5V979.5M408.0 1015.5V980.5M411.0 1015.5V981.5M414.7 1015.5V983.5M430.5 1015.5V979.5M439.0 1015.5V980.5M441.4 1015.5V981.5M456.7 1015.5V984.5M458.0 1015.5V985.5M460.0 1015.5V986.5M468.7 1015.5V984.5M470.0 1015.5V982.5M472.0 1015.5V990.5M494.0 1015.5V1008.5M576.5 1015.5V1006.5M581.0 1015.5V983.5M589.0 1015.5V982.5M594.4 1015.5V982.5M596.6 1015.5V992.5M605.8 1015.5V982.5M614.8 1015.5V981.5M617.4 1015.5V981.5M624.6 1015.5V982.5M634.5 1015.5V981.5M636.0 1015.5V982.5M638.0 1015.5V981.5M648.5 1015.5V985.5M658.5 1015.5V987.5M665.5 1015.5V981.5M670.4 1015.5V981.5M671.5 1015.5V981.5M675.4 1015.5V981.5M677.6 1015.5V981.5M681.0 1015.5V982.5M686.8 1015.5V981.5M691.8 1015.5V982.5M696.8 1015.5V985.5M702.3 1015.5V981.5M703.9 1015.5V981.5M708.0 1015.5V983.5M710.0 1015.5V984.5M712.0 1015.5V983.5M723.0 1015.5V995.5M731.9 1015.5V983.5M734.5 1015.5V983.5M740.0 1015.5V1003.5M741.5 1015.5V1004.5M743.0 1015.5V1003.5M747.6 1015.5V990.5M753.0 1015.5V1005.5M755.0 1015.5V1003.5M757.0 1015.5V1006.5M758.6 1015.5V1007.5M763.0 1015.5V1012.5M766.0 1015.5V1010.5M769.0 1015.5V1008.5M772.0 1015.5V1005.5M774.0 1015.5V1006.5M788.0 1015.5V1010.5M790.0 1015.5V1009.5M793.6 1015.5V1007.5M794.7 1015.5V1000.5M797.0 1015.5V993.5M799.0 1015.5V990.5M802.3 1015.5V995.5M821.6 1015.5V985.5M829.0 1015.5V982.5M832.0 1015.5V982.5M837.0 1015.5V981.5M849.0 1015.5V985.5M852.7 1015.5V981.5M872.8 1015.5V985.5M876.3 1015.5V985.5" stroke="#c3a535" stroke-width="1.25" fill="none"/><path d="M174 1015.5H879" stroke="#111" stroke-width="1.5"/><text x="80.5" y="998.5" font-size="17.5" fill="#111" textLength="56.4" lengthAdjust="spacingAndGlyphs">mCpG %</text><text x="156.5" y="978.5" font-size="13.5" fill="#bca43c" textLength="6.0" lengthAdjust="spacingAndGlyphs">1</text><text x="156.5" y="1016.5" font-size="13.5" fill="#bca43c" textLength="6.0" lengthAdjust="spacingAndGlyphs">0</text><path d="M174.5 1067.0V1050.1M175.8 1067.0V1054.5M177.0 1067.0V1050.8M178.2 1067.0V1044.3M179.5 1067.0V1060.5M182.0 1067.0V1060.2M183.2 1067.0V1049.0M184.5 1067.0V1055.4M185.8 1067.0V1055.2M187.0 1067.0V1057.7M188.2 1067.0V1057.0M189.5 1067.0V1053.7M190.8 1067.0V1048.3M192.0 1067.0V1056.5M193.2 1067.0V1049.0M194.5 1067.0V1052.3M195.8 1067.0V1049.7M197.0 1067.0V1053.3M198.2 1067.0V1050.7M199.5 1067.0V1053.8M200.8 1067.0V1048.9M202.0 1067.0V1040.7M203.2 1067.0V1046.5M205.8 1067.0V1048.5M207.0 1067.0V1045.1M208.2 1067.0V1046.8M209.5 1067.0V1045.5M210.8 1067.0V1055.5M212.0 1067.0V1059.3M213.2 1067.0V1046.5M214.5 1067.0V1051.8M215.8 1067.0V1058.6M217.0 1067.0V1056.5M218.2 1067.0V1043.3M219.5 1067.0V1036.1M220.8 1067.0V1052.1M222.0 1067.0V1052.1M223.2 1067.0V1049.2M224.5 1067.0V1048.6M225.8 1067.0V1042.3M227.0 1067.0V1056.6M228.2 1067.0V1055.3M229.5 1067.0V1052.9M230.8 1067.0V1050.4M232.0 1067.0V1053.6M233.2 1067.0V1054.3M234.5 1067.0V1042.3M235.8 1067.0V1051.8M237.0 1067.0V1042.3M238.2 1067.0V1057.8M239.5 1067.0V1052.6M240.8 1067.0V1049.2M242.0 1067.0V1051.2M243.2 1067.0V1055.6M245.8 1067.0V1055.8M247.0 1067.0V1047.3M248.2 1067.0V1056.6M249.5 1067.0V1059.5M250.8 1067.0V1052.3M252.0 1067.0V1046.9M253.2 1067.0V1054.9M254.5 1067.0V1050.9M255.8 1067.0V1051.5M257.0 1067.0V1041.7M258.2 1067.0V1031.9M260.8 1067.0V1045.7M263.2 1067.0V1032.3M264.5 1067.0V1031.0M265.8 1067.0V1052.0M267.0 1067.0V1048.8M268.2 1067.0V1045.6M269.5 1067.0V1054.2M272.0 1067.0V1050.1M273.2 1067.0V1038.1M274.5 1067.0V1045.8M275.8 1067.0V1046.5M277.0 1067.0V1055.3M278.2 1067.0V1044.8M279.5 1067.0V1051.6M280.8 1067.0V1045.8M282.0 1067.0V1057.4M283.2 1067.0V1058.2M284.5 1067.0V1052.2M285.8 1067.0V1055.0M287.0 1067.0V1038.1M288.2 1067.0V1044.5M289.5 1067.0V1051.3M290.8 1067.0V1058.2M292.0 1067.0V1054.2M293.2 1067.0V1053.9M295.8 1067.0V1038.1M297.0 1067.0V1050.3M298.2 1067.0V1054.7M299.5 1067.0V1054.9M300.8 1067.0V1046.7M303.2 1067.0V1055.8M305.8 1067.0V1055.5M307.0 1067.0V1052.0M308.2 1067.0V1042.3M309.5 1067.0V1059.0M310.8 1067.0V1056.1M312.0 1067.0V1048.4M313.2 1067.0V1049.3M314.5 1067.0V1057.6M315.8 1067.0V1048.9M318.2 1067.0V1047.9M319.5 1067.0V1059.5M322.0 1067.0V1049.9M323.2 1067.0V1054.2M324.5 1067.0V1051.0M325.8 1067.0V1042.3M327.0 1067.0V1052.7M328.2 1067.0V1054.6M329.5 1067.0V1059.6M330.8 1067.0V1052.3M332.0 1067.0V1058.1M333.2 1067.0V1048.8M334.5 1067.0V1051.7M335.8 1067.0V1042.3M337.0 1067.0V1054.1M338.2 1067.0V1056.8M339.5 1067.0V1056.9M342.0 1067.0V1051.3M343.2 1067.0V1042.3M345.8 1067.0V1050.7M347.0 1067.0V1050.5M349.5 1067.0V1052.3M350.8 1067.0V1053.7M352.0 1067.0V1056.7M353.2 1067.0V1051.4M354.5 1067.0V1044.5M355.8 1067.0V1043.1M358.2 1067.0V1043.7M359.5 1067.0V1045.0M360.8 1067.0V1040.2M362.0 1067.0V1049.8M364.5 1067.0V1055.5M365.8 1067.0V1055.5M367.0 1067.0V1044.2M368.2 1067.0V1049.7M369.5 1067.0V1046.7M370.8 1067.0V1052.5M372.0 1067.0V1050.8M373.2 1067.0V1047.9M374.5 1067.0V1051.4M375.8 1067.0V1048.2M377.0 1067.0V1055.2M378.2 1067.0V1057.7M379.5 1067.0V1045.3M380.8 1067.0V1057.4M382.0 1067.0V1054.8M383.2 1067.0V1051.7M384.5 1067.0V1043.0M385.8 1067.0V1034.8M387.0 1067.0V1038.1M388.2 1067.0V1054.0M389.5 1067.0V1032.3M390.8 1067.0V1031.0M392.0 1067.0V1044.0M393.2 1067.0V1046.5M394.5 1067.0V1041.0M395.8 1067.0V1031.0M397.0 1067.0V1048.4M398.2 1067.0V1047.9M399.5 1067.0V1049.9M400.8 1067.0V1051.5M403.2 1067.0V1048.6M404.5 1067.0V1051.8M405.8 1067.0V1050.4M407.0 1067.0V1057.9M408.2 1067.0V1053.7M409.5 1067.0V1050.0M410.8 1067.0V1051.1M412.0 1067.0V1047.2M413.2 1067.0V1050.7M415.8 1067.0V1059.0M417.0 1067.0V1055.0M418.2 1067.0V1057.7M419.5 1067.0V1049.0M420.8 1067.0V1055.1M422.0 1067.0V1046.4M424.5 1067.0V1045.5M425.8 1067.0V1049.0M427.0 1067.0V1046.8M428.2 1067.0V1049.0M430.8 1067.0V1049.3M432.0 1067.0V1056.6M433.2 1067.0V1053.1M434.5 1067.0V1047.5M435.8 1067.0V1057.1M437.0 1067.0V1057.2M439.5 1067.0V1058.2M440.8 1067.0V1031.0M442.0 1067.0V1033.4M443.2 1067.0V1051.7M444.5 1067.0V1044.8M445.8 1067.0V1033.8M447.0 1067.0V1048.8M449.5 1067.0V1052.9M450.8 1067.0V1046.2M452.0 1067.0V1031.4M453.2 1067.0V1035.4M454.5 1067.0V1053.7M455.8 1067.0V1057.2M457.0 1067.0V1050.4M458.2 1067.0V1057.6M459.5 1067.0V1057.5M460.8 1067.0V1036.1M462.0 1067.0V1045.7M463.2 1067.0V1047.1M464.5 1067.0V1041.9M467.0 1067.0V1052.3M468.2 1067.0V1049.4M469.5 1067.0V1051.3M470.8 1067.0V1046.8M472.0 1067.0V1040.0M474.5 1067.0V1036.3M475.8 1067.0V1054.7M477.0 1067.0V1045.8M478.2 1067.0V1055.0M479.5 1067.0V1053.1M480.8 1067.0V1037.0M482.0 1067.0V1053.9M483.2 1067.0V1031.0M484.5 1067.0V1049.2M485.8 1067.0V1038.7M487.0 1067.0V1046.8M488.2 1067.0V1048.8M489.5 1067.0V1035.5M490.8 1067.0V1031.0M492.0 1067.0V1040.5M494.5 1067.0V1049.6M495.8 1067.0V1044.7M497.0 1067.0V1043.6M498.2 1067.0V1042.0M499.5 1067.0V1048.3M500.8 1067.0V1041.7M502.0 1067.0V1031.5M507.0 1067.0V1034.3M509.5 1067.0V1036.7M510.8 1067.0V1031.0M513.2 1067.0V1049.9M515.8 1067.0V1043.9M517.0 1067.0V1031.0M518.2 1067.0V1045.8M519.5 1067.0V1031.6M520.8 1067.0V1031.0M522.0 1067.0V1031.0M523.2 1067.0V1031.0M524.5 1067.0V1031.0M525.8 1067.0V1031.0M528.2 1067.0V1031.0M529.5 1067.0V1040.7M530.8 1067.0V1031.0M533.2 1067.0V1031.0M534.5 1067.0V1033.9M535.8 1067.0V1031.6M538.2 1067.0V1031.0M539.5 1067.0V1035.6M542.0 1067.0V1033.3M543.2 1067.0V1037.0M544.5 1067.0V1031.0M545.8 1067.0V1031.0M547.0 1067.0V1041.0M548.2 1067.0V1031.0M549.5 1067.0V1031.0M550.8 1067.0V1058.2M552.0 1067.0V1055.6M553.2 1067.0V1058.2M554.5 1067.0V1058.6M555.8 1067.0V1060.0M558.2 1067.0V1053.1M559.5 1067.0V1054.1M560.8 1067.0V1050.3M562.0 1067.0V1050.3M563.2 1067.0V1047.0M564.5 1067.0V1042.3M565.8 1067.0V1054.6M567.0 1067.0V1058.8M568.2 1067.0V1052.6M570.8 1067.0V1042.3M572.0 1067.0V1058.4M573.2 1067.0V1053.5M574.5 1067.0V1049.4M575.8 1067.0V1042.3M578.2 1067.0V1042.3M579.5 1067.0V1047.8M582.0 1067.0V1050.6M583.2 1067.0V1045.4M584.5 1067.0V1049.6M585.8 1067.0V1031.0M587.0 1067.0V1036.9M588.2 1067.0V1047.5M589.5 1067.0V1051.8M590.8 1067.0V1048.1M592.0 1067.0V1045.1M593.2 1067.0V1045.7M594.5 1067.0V1048.1M595.8 1067.0V1051.0M597.0 1067.0V1049.2M598.2 1067.0V1054.4M599.5 1067.0V1048.0M600.8 1067.0V1045.2M602.0 1067.0V1041.6M603.2 1067.0V1051.7M604.5 1067.0V1053.0M605.8 1067.0V1045.0M607.0 1067.0V1053.6M608.2 1067.0V1041.7M609.5 1067.0V1034.0M610.8 1067.0V1056.1M612.0 1067.0V1039.9M613.2 1067.0V1048.3M614.5 1067.0V1055.1M615.8 1067.0V1045.4M617.0 1067.0V1034.0M618.2 1067.0V1052.8M619.5 1067.0V1034.0M620.8 1067.0V1046.2M622.0 1067.0V1052.7M623.2 1067.0V1040.6M624.5 1067.0V1046.1M625.8 1067.0V1042.0M627.0 1067.0V1049.0M628.2 1067.0V1050.4M629.5 1067.0V1048.9M630.8 1067.0V1038.1M632.0 1067.0V1052.0M633.2 1067.0V1054.5M634.5 1067.0V1052.5M635.8 1067.0V1048.5M637.0 1067.0V1045.5M638.2 1067.0V1058.3M640.8 1067.0V1045.0M642.0 1067.0V1045.5M643.2 1067.0V1056.3M644.5 1067.0V1051.9M645.8 1067.0V1054.6M647.0 1067.0V1049.3M648.2 1067.0V1044.4M650.8 1067.0V1034.9M652.0 1067.0V1031.0M653.2 1067.0V1052.8M654.5 1067.0V1031.0M655.8 1067.0V1031.0M657.0 1067.0V1045.3M658.2 1067.0V1031.7M659.5 1067.0V1033.9M660.8 1067.0V1048.2M662.0 1067.0V1050.2M663.2 1067.0V1046.3M665.8 1067.0V1052.7M667.0 1067.0V1046.8M668.2 1067.0V1036.8M669.5 1067.0V1052.7M670.8 1067.0V1049.8M672.0 1067.0V1045.7M674.5 1067.0V1033.5M675.8 1067.0V1051.6M677.0 1067.0V1037.9M678.2 1067.0V1042.5M679.5 1067.0V1036.2M680.8 1067.0V1043.1M682.0 1067.0V1036.4M683.2 1067.0V1052.8M684.5 1067.0V1031.0M685.8 1067.0V1037.4M687.0 1067.0V1033.5M688.2 1067.0V1054.8M690.8 1067.0V1046.5M693.2 1067.0V1047.6M695.8 1067.0V1042.1M698.2 1067.0V1039.5M699.5 1067.0V1043.2M700.8 1067.0V1049.7M702.0 1067.0V1037.8M703.2 1067.0V1031.0M704.5 1067.0V1031.0M705.8 1067.0V1041.7M707.0 1067.0V1033.9M708.2 1067.0V1040.8M709.5 1067.0V1048.4M710.8 1067.0V1047.5M712.0 1067.0V1048.8M713.2 1067.0V1031.9M714.5 1067.0V1043.8M715.8 1067.0V1043.5M717.0 1067.0V1048.9M718.2 1067.0V1047.6M719.5 1067.0V1047.6M720.8 1067.0V1037.3M722.0 1067.0V1047.6M723.2 1067.0V1031.0M724.5 1067.0V1042.6M725.8 1067.0V1049.4M727.0 1067.0V1031.0M729.5 1067.0V1031.0M730.8 1067.0V1043.5M732.0 1067.0V1031.0M733.2 1067.0V1045.1M734.5 1067.0V1036.3M735.8 1067.0V1051.3M738.2 1067.0V1050.1M739.5 1067.0V1046.3M742.0 1067.0V1033.9M743.2 1067.0V1050.8M744.5 1067.0V1054.0M745.8 1067.0V1035.2M747.0 1067.0V1038.9M750.8 1067.0V1043.7M752.0 1067.0V1031.0M753.2 1067.0V1042.9M754.5 1067.0V1033.8M755.8 1067.0V1031.7M757.0 1067.0V1053.0M758.2 1067.0V1031.0M759.5 1067.0V1041.5M760.8 1067.0V1045.2M762.0 1067.0V1034.9M763.2 1067.0V1042.8M765.8 1067.0V1053.0M767.0 1067.0V1033.5M768.2 1067.0V1034.4M770.8 1067.0V1031.0M772.0 1067.0V1042.3M773.2 1067.0V1046.2M774.5 1067.0V1033.1M775.8 1067.0V1034.7M777.0 1067.0V1031.0M778.2 1067.0V1051.3M779.5 1067.0V1031.0M780.8 1067.0V1045.3M782.0 1067.0V1046.6M783.2 1067.0V1047.4M784.5 1067.0V1056.4M787.0 1067.0V1054.3M789.5 1067.0V1044.1M790.8 1067.0V1031.0M792.0 1067.0V1036.9M793.2 1067.0V1043.9M794.5 1067.0V1037.5M795.8 1067.0V1031.0M797.0 1067.0V1052.2M798.2 1067.0V1041.5M799.5 1067.0V1036.7M802.0 1067.0V1055.2M803.2 1067.0V1044.2M805.8 1067.0V1034.0M808.2 1067.0V1055.6M809.5 1067.0V1055.4M812.0 1067.0V1040.3M813.2 1067.0V1040.9M814.5 1067.0V1057.0M815.8 1067.0V1057.4M817.0 1067.0V1034.0M818.2 1067.0V1053.9M819.5 1067.0V1050.9M820.8 1067.0V1054.1M823.2 1067.0V1049.1M824.5 1067.0V1034.0M825.8 1067.0V1040.5M827.0 1067.0V1051.4M828.2 1067.0V1045.0M829.5 1067.0V1042.7M830.8 1067.0V1050.9M832.0 1067.0V1049.8M833.2 1067.0V1051.4M834.5 1067.0V1050.6M835.8 1067.0V1049.3M837.0 1067.0V1049.3M838.2 1067.0V1044.8M840.8 1067.0V1049.0M842.0 1067.0V1048.7M843.2 1067.0V1058.7M844.5 1067.0V1054.0M845.8 1067.0V1049.5M847.0 1067.0V1055.5M848.2 1067.0V1038.1M852.0 1067.0V1053.5M853.2 1067.0V1046.1M854.5 1067.0V1049.0M855.8 1067.0V1040.5M857.0 1067.0V1039.2M858.2 1067.0V1045.0M859.5 1067.0V1053.0M860.8 1067.0V1042.8M862.0 1067.0V1031.9M863.2 1067.0V1044.2M864.5 1067.0V1046.5M865.8 1067.0V1051.0M867.0 1067.0V1051.4M868.2 1067.0V1056.8M869.5 1067.0V1031.9M870.8 1067.0V1042.8M872.0 1067.0V1052.0M873.2 1067.0V1055.1M875.8 1067.0V1055.7M877.0 1067.0V1031.9M878.2 1067.0V1031.9" stroke="#151515" stroke-width="1.25" fill="none"/><path d="M180.8 1067.0V1057.7M262.0 1067.0V1033.4M270.8 1067.0V1043.8M302.0 1067.0V1051.3M304.5 1067.0V1048.6M317.0 1067.0V1042.3M320.8 1067.0V1049.2M340.8 1067.0V1047.8M344.5 1067.0V1049.7M348.2 1067.0V1048.5M363.2 1067.0V1055.3M402.0 1067.0V1051.4M414.5 1067.0V1057.2M429.5 1067.0V1051.8M438.2 1067.0V1038.1M448.2 1067.0V1039.4M465.8 1067.0V1057.2M493.2 1067.0V1044.4M504.5 1067.0V1031.6M505.8 1067.0V1034.0M514.5 1067.0V1040.2M527.0 1067.0V1031.0M532.0 1067.0V1035.8M537.0 1067.0V1042.9M577.0 1067.0V1053.1M580.8 1067.0V1048.0M639.5 1067.0V1056.3M649.5 1067.0V1050.0M673.2 1067.0V1053.5M689.5 1067.0V1038.7M692.0 1067.0V1033.2M697.0 1067.0V1037.4M740.8 1067.0V1051.1M748.2 1067.0V1037.5M764.5 1067.0V1050.4M769.5 1067.0V1044.3M785.8 1067.0V1052.1M800.8 1067.0V1034.0M804.5 1067.0V1044.2M822.0 1067.0V1052.3M839.5 1067.0V1047.8M874.5 1067.0V1054.5" stroke="#7a7a7a" stroke-width="1" fill="none"/><path d="M174 1066.8H879" stroke="#c0508a" stroke-width="0.9"/><text x="80.5" y="1049.0" font-size="17.5" fill="#111" textLength="37.1" lengthAdjust="spacingAndGlyphs">GC %</text><text x="150.5" y="1030.0" font-size="13.5" textLength="12.0" lengthAdjust="spacingAndGlyphs">70</text><text x="150.5" y="1067.5" font-size="13.5" textLength="12.0" lengthAdjust="spacingAndGlyphs">30</text><path d="M166.5 670.2H172.5M166.5 709.2H172.5" stroke="#5d9fd3" stroke-width="1.3"/><path d="M166.5 721.8H172.5M166.5 760.8H172.5" stroke="#8a3d5e" stroke-width="1.3"/><path d="M166.5 773.3H172.5M166.5 812.3H172.5" stroke="#c4477c" stroke-width="1.3"/><path d="M166.5 824.9H172.5M166.5 863.9H172.5" stroke="#7b7b44" stroke-width="1.3"/><path d="M166.5 876.4H172.5M166.5 915.4H172.5" stroke="#7e7ec6" stroke-width="1.3"/><path d="M166.5 928.0H172.5M166.5 967.0H172.5" stroke="#a8c83c" stroke-width="1.3"/><path d="M166.5 979.5H172.5M166.5 1018.5H172.5" stroke="#bca43c" stroke-width="1.3"/><path d="M166.5 1031.0H172.5M166.5 1068.5H172.5" stroke="#111" stroke-width="1.3"/><path d="M174 1085.5H528" stroke="#262a7c" stroke-width="1.2"/><path d="M179.7 1083.1L176.7 1085.5L179.7 1087.9M187.9 1083.1L184.9 1085.5L187.9 1087.9M196.1 1083.1L193.1 1085.5L196.1 1087.9M204.3 1083.1L201.3 1085.5L204.3 1087.9M212.5 1083.1L209.5 1085.5L212.5 1087.9M220.7 1083.1L217.7 1085.5L220.7 1087.9M228.9 1083.1L225.9 1085.5L228.9 1087.9M237.1 1083.1L234.1 1085.5L237.1 1087.9M245.3 1083.1L242.3 1085.5L245.3 1087.9M253.5 1083.1L250.5 1085.5L253.5 1087.9M261.7 1083.1L258.7 1085.5L261.7 1087.9M269.9 1083.1L266.9 1085.5L269.9 1087.9M278.1 1083.1L275.1 1085.5L278.1 1087.9M286.3 1083.1L283.3 1085.5L286.3 1087.9M294.5 1083.1L291.5 1085.5L294.5 1087.9M302.7 1083.1L299.7 1085.5L302.7 1087.9M310.9 1083.1L307.9 1085.5L310.9 1087.9M319.1 1083.1L316.1 1085.5L319.1 1087.9M327.3 1083.1L324.3 1085.5L327.3 1087.9M335.5 1083.1L332.5 1085.5L335.5 1087.9M343.7 1083.1L340.7 1085.5L343.7 1087.9M351.9 1083.1L348.9 1085.5L351.9 1087.9M360.1 1083.1L357.1 1085.5L360.1 1087.9M368.3 1083.1L365.3 1085.5L368.3 1087.9M376.5 1083.1L373.5 1085.5L376.5 1087.9M384.7 1083.1L381.7 1085.5L384.7 1087.9M392.9 1083.1L389.9 1085.5L392.9 1087.9M401.1 1083.1L398.1 1085.5L401.1 1087.9M409.3 1083.1L406.3 1085.5L409.3 1087.9M417.5 1083.1L414.5 1085.5L417.5 1087.9M425.7 1083.1L422.7 1085.5L425.7 1087.9M433.9 1083.1L430.9 1085.5L433.9 1087.9M442.1 1083.1L439.1 1085.5L442.1 1087.9M450.3 1083.1L447.3 1085.5L450.3 1087.9M458.5 1083.1L455.5 1085.5L458.5 1087.9M466.7 1083.1L463.7 1085.5L466.7 1087.9M474.9 1083.1L471.9 1085.5L474.9 1087.9M483.1 1083.1L480.1 1085.5L483.1 1087.9M491.3 1083.1L488.3 1085.5L491.3 1087.9M499.5 1083.1L496.5 1085.5L499.5 1087.9M507.7 1083.1L504.7 1085.5L507.7 1087.9M515.9 1083.1L512.9 1085.5L515.9 1087.9M524.1 1083.1L521.1 1085.5L524.1 1087.9" stroke="#262a7c" stroke-width="1" fill="none"/><rect x="258.6" y="1080" width="8.1" height="11" fill="#262a7c"/><rect x="392.2" y="1080" width="7.2" height="11" fill="#262a7c"/><rect x="399.4" y="1082.5" width="61.6" height="6" fill="#262a7c"/><rect x="530" y="1082" width="13.5" height="7" fill="#262a7c"/><path d="M527.5 1081.5v8" stroke="#262a7c" stroke-width="1.2"/><text x="549.5" y="1090.5" font-size="15.5" fill="#262a7c" font-style="italic" textLength="32.3" lengthAdjust="spacingAndGlyphs">Chtop</text><rect x="1371" y="618" width="47.4" height="500.5" fill="#d0d1d4"/><text x="1394.4" y="605.0" font-size="23.8" text-anchor="middle">Airn-like 2</text><text x="1264.1" y="631.6" font-size="13.5" textLength="20.4" lengthAdjust="spacingAndGlyphs">5 kb</text><path d="M1286.6 626.6H1509.4M1286.6 621.1v11M1509.4 621.1v11" stroke="#222" stroke-width="1.5" fill="none"/><path d="M1078.3 701.0V700.0H1083.8V701.0ZM1127.5 701.0V700.0H1131.9V701.0ZM1328.9 701.0V700.0H1333.3V701.0ZM1443.2 701.0V700.0H1460.7V701.0ZM1476.0 701.0V700.0H1502.2V701.0ZM1502.2 701.0V697.5H1513.2V701.0ZM1513.2 701.0V699.0H1516.5V701.0ZM1516.5 701.0V697.5H1526.3V701.0ZM1526.3 701.0V698.0H1535.1V701.0ZM1535.1 701.0V692.0H1539.5V701.0ZM1539.5 701.0V695.5H1565.7V701.0ZM1565.7 701.0V697.0H1570.1V701.0ZM1570.1 701.0V692.0H1574.5V701.0ZM1574.5 701.0V697.5H1592.0V701.0ZM1592.0 701.0V692.0H1597.5V701.0ZM1597.5 701.0V696.5H1622.6V701.0ZM1622.6 701.0V696.0H1628.1V701.0ZM1628.1 701.0V700.0H1642.3V701.0ZM1642.3 701.0V698.5H1646.7V701.0ZM1654.4 701.0V697.5H1677.3V701.0ZM1681.7 701.0V697.5H1690.5V701.0ZM1699.2 701.0V698.5H1703.6V701.0ZM1709.1 701.0V698.5H1713.5V701.0ZM1722.2 701.0V698.5H1738.6V701.0ZM1739.7 701.0V697.5H1744.1V701.0ZM1748.5 701.0V690.0H1750.0V701.0Z" fill="#5b9ac7"/><path d="M1045 701.0H1750" stroke="#111" stroke-width="1.5"/><text x="950.0" y="682.2" font-size="17.5" fill="#111" textLength="69.6" lengthAdjust="spacingAndGlyphs">H3K36me3</text><text x="1021.0" y="660.5" font-size="13.5" fill="#5d9fd3" textLength="12.0" lengthAdjust="spacingAndGlyphs">16</text><text x="1027.0" y="702.0" font-size="13.5" fill="#5d9fd3" textLength="6.0" lengthAdjust="spacingAndGlyphs">0</text><path d="M1045.0 755.3V745.3H1048.8V755.3ZM1048.8 755.3V748.7H1053.1V755.3ZM1053.1 755.3V743.3H1057.5V755.3ZM1057.5 755.3V738.9H1061.9V755.3ZM1061.9 755.3V749.8H1066.3V755.3ZM1066.3 755.3V738.9H1070.6V755.3ZM1070.6 755.3V738.9H1075.0V755.3ZM1075.0 755.3V746.5H1079.4V755.3ZM1082.7 755.3V735.3H1087.1V755.3ZM1087.1 755.3V740.3H1091.4V755.3ZM1091.4 755.3V738.9H1095.8V755.3ZM1095.8 755.3V741.5H1100.2V755.3ZM1100.2 755.3V752.0H1105.7V755.3ZM1105.7 755.3V754.5H1110.0V755.3ZM1110.0 755.3V748.3H1114.4V755.3ZM1114.4 755.3V754.3H1118.8V755.3ZM1118.8 755.3V744.3H1123.2V755.3ZM1123.2 755.3V745.3H1127.5V755.3ZM1127.5 755.3V748.7H1131.9V755.3ZM1131.9 755.3V747.3H1145.1V755.3ZM1145.1 755.3V741.5H1149.4V755.3ZM1149.4 755.3V739.3H1154.9V755.3ZM1154.9 755.3V746.5H1159.3V755.3ZM1159.3 755.3V743.3H1163.7V755.3ZM1163.7 755.3V754.3H1171.3V755.3ZM1171.3 755.3V747.0H1176.8V755.3ZM1176.8 755.3V749.8H1181.2V755.3ZM1181.2 755.3V747.3H1186.6V755.3ZM1186.6 755.3V748.7H1202.0V755.3ZM1202.0 755.3V741.5H1207.4V755.3ZM1207.4 755.3V749.8H1215.1V755.3ZM1215.1 755.3V748.7H1230.4V755.3ZM1230.4 755.3V749.8H1239.2V755.3ZM1239.2 755.3V745.9H1243.5V755.3ZM1243.5 755.3V746.5H1247.9V755.3ZM1247.9 755.3V742.3H1253.4V755.3ZM1253.4 755.3V736.7H1257.8V755.3ZM1257.8 755.3V725.3H1262.1V755.3ZM1262.1 755.3V732.3H1266.5V755.3ZM1266.5 755.3V728.3H1270.9V755.3ZM1270.9 755.3V734.5H1275.3V755.3ZM1275.3 755.3V725.3H1279.7V755.3ZM1279.7 755.3V734.5H1284.0V755.3ZM1284.0 755.3V730.6H1288.4V755.3ZM1288.4 755.3V740.0H1292.8V755.3ZM1292.8 755.3V743.3H1297.2V755.3ZM1297.2 755.3V732.3H1301.5V755.3ZM1301.5 755.3V726.3H1305.9V755.3ZM1305.9 755.3V721.8H1311.4V755.3ZM1311.4 755.3V726.8H1315.8V755.3ZM1315.8 755.3V726.8H1320.1V755.3ZM1320.1 755.3V725.3H1324.5V755.3ZM1324.5 755.3V730.6H1328.9V755.3ZM1328.9 755.3V737.8H1333.3V755.3ZM1333.3 755.3V753.3H1337.7V755.3ZM1337.7 755.3V754.3H1342.0V755.3ZM1359.5 755.3V753.3H1363.9V755.3ZM1363.9 755.3V750.9H1377.1V755.3ZM1377.1 755.3V753.3H1383.6V755.3ZM1383.6 755.3V750.9H1388.0V755.3ZM1388.0 755.3V741.3H1392.4V755.3ZM1392.4 755.3V743.3H1400.0V755.3ZM1395.0 755.3V747.3H1399.4V755.3ZM1399.4 755.3V742.3H1404.8V755.3ZM1404.8 755.3V750.3H1408.1V755.3ZM1408.1 755.3V752.3H1413.6V755.3ZM1413.6 755.3V744.3H1422.4V755.3ZM1422.4 755.3V751.3H1426.7V755.3ZM1426.7 755.3V735.3H1432.2V755.3ZM1432.2 755.3V747.3H1436.6V755.3ZM1436.6 755.3V744.3H1441.0V755.3ZM1444.2 755.3V749.3H1449.7V755.3ZM1449.7 755.3V753.3H1458.5V755.3ZM1458.5 755.3V752.3H1463.9V755.3ZM1463.9 755.3V749.3H1469.4V755.3ZM1469.4 755.3V753.3H1471.6V755.3ZM1471.6 755.3V742.3H1481.5V755.3ZM1481.5 755.3V740.3H1490.2V755.3ZM1490.2 755.3V748.3H1497.9V755.3ZM1497.9 755.3V742.3H1503.3V755.3ZM1503.3 755.3V751.3H1507.7V755.3ZM1507.7 755.3V745.3H1513.2V755.3ZM1513.2 755.3V748.3H1516.5V755.3ZM1516.5 755.3V740.3H1525.2V755.3ZM1525.2 755.3V734.3H1530.7V755.3ZM1530.7 755.3V748.3H1538.4V755.3ZM1538.4 755.3V744.3H1546.0V755.3ZM1546.0 755.3V742.3H1552.6V755.3ZM1552.6 755.3V746.3H1557.0V755.3ZM1557.0 755.3V748.3H1565.7V755.3ZM1565.7 755.3V742.3H1571.2V755.3ZM1571.2 755.3V746.3H1575.6V755.3ZM1575.6 755.3V743.3H1579.9V755.3ZM1579.9 755.3V750.3H1586.5V755.3ZM1586.5 755.3V747.3H1592.0V755.3ZM1592.0 755.3V753.3H1597.5V755.3ZM1597.5 755.3V754.5H1605.1V755.3ZM1606.2 755.3V748.3H1610.6V755.3ZM1610.6 755.3V753.3H1618.2V755.3ZM1619.3 755.3V752.3H1624.8V755.3ZM1627.0 755.3V753.3H1637.9V755.3ZM1637.9 755.3V752.3H1641.2V755.3ZM1641.2 755.3V749.3H1646.7V755.3ZM1646.7 755.3V754.3H1664.2V755.3ZM1664.2 755.3V753.3H1671.9V755.3ZM1671.9 755.3V748.3H1677.3V755.3ZM1677.3 755.3V754.3H1681.7V755.3ZM1681.7 755.3V753.3H1694.8V755.3ZM1694.8 755.3V752.3H1701.4V755.3ZM1701.4 755.3V753.3H1712.4V755.3ZM1717.8 755.3V752.3H1727.7V755.3ZM1727.7 755.3V754.3H1732.1V755.3ZM1732.1 755.3V752.3H1740.8V755.3ZM1740.8 755.3V754.5H1749.6V755.3Z" fill="#783b56"/><path d="M1045 755.3H1750" stroke="#111" stroke-width="1.5"/><text x="950.0" y="736.6" font-size="17.5" fill="#111" textLength="69.6" lengthAdjust="spacingAndGlyphs">H3K27me3</text><text x="1021.0" y="714.8" font-size="13.5" fill="#8a3d5e" textLength="12.0" lengthAdjust="spacingAndGlyphs">10</text><text x="1027.0" y="756.3" font-size="13.5" fill="#8a3d5e" textLength="6.0" lengthAdjust="spacingAndGlyphs">0</text><path d="M1149.4 809.7V808.7H1171.3V809.7ZM1171.3 809.7V807.7H1181.2V809.7ZM1181.2 809.7V804.7H1185.5V809.7ZM1185.5 809.7V807.7H1197.6V809.7ZM1197.6 809.7V805.7H1206.3V809.7ZM1206.3 809.7V806.7H1217.3V809.7ZM1217.3 809.7V808.2H1239.2V809.7ZM1256.7 809.7V808.7H1262.1V809.7ZM1328.9 809.7V808.7H1333.3V809.7ZM1355.2 809.7V805.7H1359.5V809.7ZM1359.5 809.7V802.7H1366.1V809.7ZM1366.1 809.7V799.7H1372.7V809.7ZM1372.7 809.7V806.7H1377.1V809.7ZM1377.1 809.7V807.7H1381.4V809.7ZM1381.4 809.7V802.2H1400.0V809.7ZM1395.0 809.7V801.7H1400.5V809.7ZM1400.5 809.7V799.7H1405.9V809.7ZM1405.9 809.7V800.7H1414.7V809.7ZM1414.7 809.7V799.7H1425.6V809.7ZM1425.6 809.7V800.7H1430.0V809.7ZM1430.0 809.7V799.7H1436.6V809.7ZM1436.6 809.7V802.7H1442.1V809.7ZM1442.1 809.7V804.7H1445.3V809.7ZM1445.3 809.7V802.7H1449.7V809.7ZM1449.7 809.7V799.7H1456.3V809.7ZM1456.3 809.7V800.7H1460.7V809.7ZM1460.7 809.7V802.7H1467.2V809.7ZM1467.2 809.7V805.7H1472.7V809.7ZM1472.7 809.7V807.7H1480.4V809.7ZM1480.4 809.7V805.7H1486.9V809.7ZM1486.9 809.7V807.7H1495.7V809.7ZM1495.7 809.7V808.9H1503.3V809.7Z" fill="#c73f74"/><path d="M1045 809.7H1750" stroke="#111" stroke-width="1.5"/><text x="950.0" y="790.9" font-size="17.5" fill="#111" textLength="61.9" lengthAdjust="spacingAndGlyphs">H3K4me3</text><text x="1021.0" y="769.2" font-size="13.5" fill="#c4477c" textLength="12.0" lengthAdjust="spacingAndGlyphs">37</text><text x="1027.0" y="810.7" font-size="13.5" fill="#c4477c" textLength="6.0" lengthAdjust="spacingAndGlyphs">0</text><path d="M1045.0 864.0V862.0H1056.4V864.0ZM1079.4 864.0V863.0H1083.8V864.0ZM1083.8 864.0V860.0H1095.8V864.0ZM1110.0 864.0V861.5H1114.4V864.0ZM1124.3 864.0V862.0H1127.5V864.0ZM1131.9 864.0V856.0H1136.3V864.0ZM1150.5 864.0V861.5H1154.9V864.0ZM1176.8 864.0V861.5H1185.5V864.0ZM1194.3 864.0V861.5H1199.8V864.0ZM1208.5 864.0V861.5H1212.9V864.0ZM1221.7 864.0V861.5H1230.4V864.0ZM1239.2 864.0V859.0H1247.9V864.0ZM1247.9 864.0V861.0H1253.4V864.0ZM1266.5 864.0V861.5H1270.9V864.0ZM1280.8 864.0V863.0H1284.0V864.0ZM1293.9 864.0V859.0H1302.6V864.0ZM1302.6 864.0V862.0H1305.9V864.0ZM1386.9 864.0V861.5H1391.3V864.0ZM1416.9 864.0V862.0H1422.4V864.0ZM1476.0 864.0V860.0H1481.5V864.0ZM1481.5 864.0V859.0H1489.1V864.0ZM1516.5 864.0V861.5H1524.1V864.0ZM1524.1 864.0V860.5H1531.8V864.0ZM1531.8 864.0V861.5H1539.5V864.0ZM1542.7 864.0V857.5H1557.0V864.0ZM1565.7 864.0V857.5H1570.1V864.0ZM1578.8 864.0V863.0H1583.2V864.0ZM1593.1 864.0V857.5H1597.5V864.0ZM1610.6 864.0V861.5H1618.2V864.0ZM1664.2 864.0V861.5H1668.6V864.0ZM1686.1 864.0V860.0H1695.9V864.0ZM1705.4 864.0V861.5H1709.1V864.0ZM1713.5 864.0V861.5H1717.8V864.0ZM1722.2 864.0V861.5H1726.6V864.0ZM1735.3 864.0V857.5H1740.8V864.0ZM1745.2 864.0V861.5H1749.6V864.0Z" fill="#696a3f"/><path d="M1045 864.0H1750" stroke="#111" stroke-width="1.5"/><text x="950.0" y="845.2" font-size="17.5" fill="#111" textLength="61.9" lengthAdjust="spacingAndGlyphs">H3K9me3</text><text x="1027.0" y="823.5" font-size="13.5" fill="#7b7b44" textLength="6.0" lengthAdjust="spacingAndGlyphs">4</text><text x="1027.0" y="865.0" font-size="13.5" fill="#7b7b44" textLength="6.0" lengthAdjust="spacingAndGlyphs">0</text><path d="M1379.2 918.3V917.3H1383.6V918.3Z" fill="#7b7bc9"/><path d="M1045 918.3H1750" stroke="#111" stroke-width="1.5"/><text x="950.0" y="899.6" font-size="17.5" fill="#111" textLength="56.4" lengthAdjust="spacingAndGlyphs">RNA-seq</text><text x="1015.0" y="877.8" font-size="13.5" fill="#7e7ec6" textLength="18.0" lengthAdjust="spacingAndGlyphs">165</text><text x="1027.0" y="919.3" font-size="13.5" fill="#7e7ec6" textLength="6.0" lengthAdjust="spacingAndGlyphs">0</text><path d="M1127.5 972.6V971.9H1134.1V972.6ZM1163.7 972.6V968.6H1168.0V972.6ZM1168.0 972.6V965.6H1172.4V972.6ZM1203.1 972.6V970.6H1215.1V972.6ZM1237.0 972.6V970.6H1247.9V972.6ZM1333.3 972.6V970.6H1339.8V972.6ZM1350.8 972.6V963.6H1356.3V972.6ZM1356.3 972.6V966.6H1360.6V972.6ZM1377.1 972.6V971.6H1385.8V972.6ZM1395.0 972.6V971.9H1408.1V972.6ZM1432.2 972.6V971.6H1445.3V972.6ZM1445.3 972.6V969.6H1449.7V972.6ZM1449.7 972.6V963.6H1455.2V972.6ZM1455.2 972.6V968.6H1458.5V972.6ZM1462.8 972.6V970.6H1468.3V972.6ZM1704.7 972.6V971.6H1710.2V972.6Z" fill="#a9c93a"/><path d="M1045 972.6H1750" stroke="#111" stroke-width="1.5"/><text x="950.0" y="953.9" font-size="17.5" fill="#111" textLength="69.6" lengthAdjust="spacingAndGlyphs">DNase-seq</text><text x="1015.0" y="932.1" font-size="13.5" fill="#a8c83c" textLength="18.0" lengthAdjust="spacingAndGlyphs">400</text><text x="1027.0" y="973.6" font-size="13.5" fill="#a8c83c" textLength="6.0" lengthAdjust="spacingAndGlyphs">0</text><path d="M1050.5 1027.0V1007.0M1052.0 1027.0V1003.0M1053.6 1027.0V1006.0M1054.9 1027.0V1003.0M1059.3 1027.0V1008.0M1063.0 1027.0V992.0M1064.1 1027.0V994.0M1065.2 1027.0V992.0M1080.1 1027.0V994.0M1083.8 1027.0V994.0M1088.6 1027.0V992.0M1089.9 1027.0V993.0M1091.4 1027.0V992.0M1103.5 1027.0V990.0M1106.8 1027.0V994.0M1112.2 1027.0V992.0M1114.0 1027.0V999.0M1115.5 1027.0V1003.0M1117.0 1027.0V1007.0M1118.8 1027.0V997.0M1122.7 1027.0V997.0M1131.9 1027.0V1009.0M1135.6 1027.0V1002.0M1138.1 1027.0V1007.0M1145.5 1027.0V992.0M1146.8 1027.0V1017.0M1149.4 1027.0V1018.0M1153.8 1027.0V1017.0M1156.0 1027.0V1014.0M1158.2 1027.0V1017.0M1176.8 1027.0V1024.0M1179.0 1027.0V1025.0M1196.5 1027.0V1025.0M1203.1 1027.0V1025.0M1207.4 1027.0V1025.0M1230.0 1027.0V1025.0M1234.8 1027.0V1024.0M1254.5 1027.0V1025.0M1257.8 1027.0V1025.0M1262.1 1027.0V1022.0M1265.4 1027.0V1019.0M1267.6 1027.0V1015.0M1272.0 1027.0V1024.0M1277.5 1027.0V1025.0M1288.4 1027.0V1001.0M1297.2 1027.0V1011.0M1299.4 1027.0V1011.0M1300.5 1027.0V1013.0M1308.1 1027.0V1014.0M1310.3 1027.0V1010.0M1312.5 1027.0V1007.0M1313.6 1027.0V1012.0M1318.0 1027.0V1021.0M1320.1 1027.0V1019.0M1322.3 1027.0V1023.0M1324.5 1027.0V1019.0M1326.7 1027.0V1021.0M1345.3 1027.0V1009.0M1347.5 1027.0V1009.0M1374.2 1027.0V1003.0M1404.2 1027.0V1023.0M1467.2 1027.0V1021.0M1469.4 1027.0V1024.0M1476.0 1027.0V1025.0M1486.5 1027.0V1022.0M1489.1 1027.0V1023.0M1492.4 1027.0V1024.0M1494.6 1027.0V1023.0M1497.4 1027.0V1024.0M1511.0 1027.0V1007.0M1516.5 1027.0V997.0M1518.0 1027.0V1007.0M1519.8 1027.0V1015.0M1525.9 1027.0V1001.0M1544.5 1027.0V992.0M1548.6 1027.0V989.0M1557.0 1027.0V992.0M1577.3 1027.0V992.0M1580.6 1027.0V992.0M1583.2 1027.0V992.0M1586.1 1027.0V997.0M1588.7 1027.0V990.0M1590.9 1027.0V990.0M1593.1 1027.0V997.0M1595.3 1027.0V992.0M1597.5 1027.0V990.0M1599.6 1027.0V997.0M1602.5 1027.0V990.0M1606.9 1027.0V997.0M1617.1 1027.0V990.0M1618.2 1027.0V990.0M1619.3 1027.0V990.0M1620.4 1027.0V990.0M1623.7 1027.0V990.0M1625.2 1027.0V990.0M1626.6 1027.0V990.0M1628.1 1027.0V990.0M1629.6 1027.0V990.0M1631.4 1027.0V993.0M1632.5 1027.0V999.0M1640.1 1027.0V997.0M1644.5 1027.0V990.0M1648.4 1027.0V995.0M1662.5 1027.0V992.0M1665.3 1027.0V992.0M1667.5 1027.0V994.0M1669.7 1027.0V992.0M1674.7 1027.0V990.0M1676.2 1027.0V990.0M1677.8 1027.0V990.0M1679.5 1027.0V990.0M1684.3 1027.0V997.0M1687.2 1027.0V1005.0M1689.4 1027.0V992.0M1698.1 1027.0V990.0M1706.9 1027.0V1007.0M1718.5 1027.0V991.0M1721.5 1027.0V999.0M1726.6 1027.0V990.0M1735.8 1027.0V996.0M1737.5 1027.0V1005.0M1744.5 1027.0V997.0M1747.4 1027.0V995.0M1749.6 1027.0V995.0" stroke="#c3a535" stroke-width="1.25" fill="none"/><path d="M1045 1027.0H1750" stroke="#111" stroke-width="1.5"/><text x="950.0" y="1008.2" font-size="17.5" fill="#111" textLength="56.4" lengthAdjust="spacingAndGlyphs">mCpG %</text><text x="1027.0" y="986.5" font-size="13.5" fill="#bca43c" textLength="6.0" lengthAdjust="spacingAndGlyphs">1</text><text x="1027.0" y="1028.0" font-size="13.5" fill="#bca43c" textLength="6.0" lengthAdjust="spacingAndGlyphs">0</text><path d="M1045.5 1081.3V1045.0M1046.8 1081.3V1041.8M1048.0 1081.3V1060.7M1049.2 1081.3V1054.0M1050.5 1081.3V1058.6M1051.8 1081.3V1044.9M1053.0 1081.3V1063.5M1054.2 1081.3V1041.8M1055.5 1081.3V1049.5M1056.8 1081.3V1064.2M1058.0 1081.3V1066.4M1059.2 1081.3V1054.4M1060.5 1081.3V1051.6M1061.8 1081.3V1052.4M1064.2 1081.3V1052.6M1065.5 1081.3V1057.6M1066.8 1081.3V1058.3M1070.5 1081.3V1058.6M1071.8 1081.3V1053.8M1074.2 1081.3V1048.0M1075.5 1081.3V1055.6M1076.8 1081.3V1060.6M1078.0 1081.3V1045.3M1079.2 1081.3V1041.8M1080.5 1081.3V1063.6M1081.8 1081.3V1041.8M1083.0 1081.3V1046.7M1084.2 1081.3V1047.3M1085.5 1081.3V1046.6M1086.8 1081.3V1067.5M1088.0 1081.3V1051.7M1089.2 1081.3V1067.7M1090.5 1081.3V1041.8M1091.8 1081.3V1063.8M1094.2 1081.3V1067.4M1095.5 1081.3V1050.0M1096.8 1081.3V1067.6M1099.2 1081.3V1072.0M1100.5 1081.3V1076.3M1101.8 1081.3V1077.1M1103.0 1081.3V1065.2M1104.2 1081.3V1055.6M1105.5 1081.3V1061.9M1106.8 1081.3V1067.9M1108.0 1081.3V1066.9M1109.2 1081.3V1066.0M1111.8 1081.3V1062.6M1113.0 1081.3V1053.7M1114.2 1081.3V1050.8M1115.5 1081.3V1055.4M1116.8 1081.3V1041.8M1118.0 1081.3V1062.4M1119.2 1081.3V1062.6M1120.5 1081.3V1056.9M1123.0 1081.3V1050.4M1124.2 1081.3V1054.0M1125.5 1081.3V1055.4M1126.8 1081.3V1041.8M1128.0 1081.3V1045.6M1129.2 1081.3V1044.1M1130.5 1081.3V1041.8M1131.8 1081.3V1047.6M1133.0 1081.3V1041.8M1134.2 1081.3V1063.2M1135.5 1081.3V1060.7M1136.8 1081.3V1074.6M1138.0 1081.3V1069.0M1139.2 1081.3V1067.0M1140.5 1081.3V1074.0M1143.0 1081.3V1072.7M1144.2 1081.3V1061.7M1145.5 1081.3V1065.9M1146.8 1081.3V1064.8M1149.2 1081.3V1068.4M1150.5 1081.3V1069.0M1151.8 1081.3V1058.6M1153.0 1081.3V1071.5M1154.2 1081.3V1070.8M1156.8 1081.3V1062.9M1158.0 1081.3V1069.4M1159.2 1081.3V1066.2M1161.8 1081.3V1070.1M1164.2 1081.3V1059.3M1165.5 1081.3V1057.8M1166.8 1081.3V1064.0M1168.0 1081.3V1056.1M1169.2 1081.3V1063.2M1170.5 1081.3V1055.1M1171.8 1081.3V1054.6M1173.0 1081.3V1044.1M1174.2 1081.3V1057.7M1176.8 1081.3V1064.4M1178.0 1081.3V1041.8M1181.8 1081.3V1061.6M1183.0 1081.3V1058.5M1184.2 1081.3V1058.8M1185.5 1081.3V1045.6M1186.8 1081.3V1047.0M1188.0 1081.3V1041.8M1189.2 1081.3V1041.8M1190.5 1081.3V1041.8M1191.8 1081.3V1054.3M1193.0 1081.3V1063.9M1194.2 1081.3V1059.3M1195.5 1081.3V1052.1M1196.8 1081.3V1041.8M1198.0 1081.3V1052.8M1199.2 1081.3V1064.5M1200.5 1081.3V1053.3M1201.8 1081.3V1050.9M1203.0 1081.3V1044.4M1204.2 1081.3V1041.8M1205.5 1081.3V1055.2M1206.8 1081.3V1044.3M1208.0 1081.3V1061.9M1209.2 1081.3V1048.1M1210.5 1081.3V1045.1M1211.8 1081.3V1050.4M1213.0 1081.3V1041.8M1214.2 1081.3V1052.9M1215.5 1081.3V1062.4M1216.8 1081.3V1050.9M1218.0 1081.3V1042.4M1219.2 1081.3V1042.1M1220.5 1081.3V1041.8M1221.8 1081.3V1057.1M1223.0 1081.3V1060.9M1224.2 1081.3V1056.4M1228.0 1081.3V1046.9M1230.5 1081.3V1050.4M1231.8 1081.3V1056.5M1233.0 1081.3V1057.6M1235.5 1081.3V1066.4M1238.0 1081.3V1055.4M1239.2 1081.3V1044.7M1240.5 1081.3V1042.2M1241.8 1081.3V1041.8M1243.0 1081.3V1056.7M1244.2 1081.3V1055.2M1245.5 1081.3V1055.5M1246.8 1081.3V1051.1M1248.0 1081.3V1041.8M1249.2 1081.3V1041.8M1250.5 1081.3V1041.8M1251.8 1081.3V1043.1M1253.0 1081.3V1050.4M1254.2 1081.3V1053.0M1255.5 1081.3V1043.8M1256.8 1081.3V1041.8M1258.0 1081.3V1049.8M1260.5 1081.3V1041.8M1261.8 1081.3V1061.0M1263.0 1081.3V1065.7M1264.2 1081.3V1060.9M1268.0 1081.3V1051.9M1269.2 1081.3V1051.3M1270.5 1081.3V1041.8M1271.8 1081.3V1046.1M1273.0 1081.3V1051.6M1274.2 1081.3V1041.8M1275.5 1081.3V1041.8M1279.2 1081.3V1062.9M1280.5 1081.3V1059.8M1281.8 1081.3V1053.4M1283.0 1081.3V1042.7M1284.2 1081.3V1052.2M1285.5 1081.3V1041.8M1286.8 1081.3V1045.6M1288.0 1081.3V1041.8M1289.2 1081.3V1049.1M1290.5 1081.3V1050.0M1291.8 1081.3V1067.2M1293.0 1081.3V1047.7M1294.2 1081.3V1041.8M1295.5 1081.3V1054.9M1298.0 1081.3V1061.1M1299.2 1081.3V1051.0M1300.5 1081.3V1051.8M1301.8 1081.3V1047.8M1303.0 1081.3V1063.9M1304.2 1081.3V1042.7M1305.5 1081.3V1052.7M1306.8 1081.3V1042.3M1308.0 1081.3V1048.5M1309.2 1081.3V1054.9M1310.5 1081.3V1060.3M1311.8 1081.3V1062.0M1313.0 1081.3V1058.8M1314.2 1081.3V1044.0M1316.8 1081.3V1058.9M1318.0 1081.3V1059.1M1319.2 1081.3V1061.8M1320.5 1081.3V1060.3M1321.8 1081.3V1055.3M1323.0 1081.3V1066.7M1324.2 1081.3V1063.1M1325.5 1081.3V1065.4M1326.8 1081.3V1049.8M1328.0 1081.3V1042.5M1330.5 1081.3V1048.2M1331.8 1081.3V1048.3M1333.0 1081.3V1061.4M1334.2 1081.3V1063.4M1336.8 1081.3V1054.4M1338.0 1081.3V1061.1M1340.5 1081.3V1065.7M1341.8 1081.3V1053.3M1343.0 1081.3V1053.2M1344.2 1081.3V1048.2M1345.5 1081.3V1066.5M1346.8 1081.3V1063.3M1348.0 1081.3V1050.6M1349.2 1081.3V1064.4M1350.5 1081.3V1041.8M1351.8 1081.3V1058.8M1353.0 1081.3V1041.8M1354.2 1081.3V1042.3M1355.5 1081.3V1041.8M1356.8 1081.3V1050.0M1359.2 1081.3V1041.8M1361.8 1081.3V1041.8M1363.0 1081.3V1045.7M1364.2 1081.3V1041.8M1366.8 1081.3V1043.7M1368.0 1081.3V1063.5M1369.2 1081.3V1041.8M1370.5 1081.3V1058.5M1371.8 1081.3V1041.8M1373.0 1081.3V1041.8M1374.2 1081.3V1041.8M1375.5 1081.3V1043.5M1376.8 1081.3V1057.9M1379.2 1081.3V1043.9M1380.5 1081.3V1041.8M1381.8 1081.3V1056.6M1383.0 1081.3V1049.8M1384.2 1081.3V1041.8M1385.5 1081.3V1053.4M1386.8 1081.3V1047.3M1389.2 1081.3V1041.8M1391.8 1081.3V1042.0M1393.0 1081.3V1041.8M1394.2 1081.3V1045.9M1395.5 1081.3V1043.2M1396.8 1081.3V1041.8M1398.0 1081.3V1041.8M1399.2 1081.3V1041.8M1400.5 1081.3V1041.8M1401.8 1081.3V1041.8M1403.0 1081.3V1041.8M1404.2 1081.3V1041.8M1405.5 1081.3V1041.8M1409.2 1081.3V1047.9M1410.5 1081.3V1041.8M1411.8 1081.3V1048.1M1414.2 1081.3V1041.8M1415.5 1081.3V1041.8M1416.8 1081.3V1041.8M1418.0 1081.3V1046.5M1419.2 1081.3V1041.8M1420.5 1081.3V1063.2M1423.0 1081.3V1044.7M1424.2 1081.3V1045.6M1425.5 1081.3V1041.8M1426.8 1081.3V1050.2M1428.0 1081.3V1046.8M1429.2 1081.3V1041.8M1430.5 1081.3V1041.8M1431.8 1081.3V1046.4M1433.0 1081.3V1046.4M1434.2 1081.3V1052.1M1435.5 1081.3V1059.1M1436.8 1081.3V1041.8M1438.0 1081.3V1041.8M1439.2 1081.3V1042.7M1440.5 1081.3V1041.8M1441.8 1081.3V1050.3M1443.0 1081.3V1041.8M1444.2 1081.3V1047.7M1445.5 1081.3V1057.7M1448.0 1081.3V1041.8M1449.2 1081.3V1041.8M1450.5 1081.3V1054.0M1451.8 1081.3V1056.6M1453.0 1081.3V1043.9M1454.2 1081.3V1062.3M1455.5 1081.3V1058.4M1456.8 1081.3V1042.3M1458.0 1081.3V1041.8M1459.2 1081.3V1062.6M1460.5 1081.3V1041.8M1464.2 1081.3V1065.1M1465.5 1081.3V1041.8M1466.8 1081.3V1050.2M1469.2 1081.3V1058.7M1473.0 1081.3V1050.5M1474.2 1081.3V1056.8M1476.8 1081.3V1052.0M1478.0 1081.3V1067.5M1479.2 1081.3V1060.3M1481.8 1081.3V1061.8M1483.0 1081.3V1054.8M1484.2 1081.3V1061.0M1485.5 1081.3V1064.5M1486.8 1081.3V1049.2M1488.0 1081.3V1053.4M1489.2 1081.3V1055.6M1490.5 1081.3V1062.5M1491.8 1081.3V1059.3M1493.0 1081.3V1041.8M1494.2 1081.3V1056.9M1495.5 1081.3V1057.1M1498.0 1081.3V1050.9M1499.2 1081.3V1067.2M1500.5 1081.3V1072.9M1501.8 1081.3V1060.0M1503.0 1081.3V1052.4M1504.2 1081.3V1070.6M1505.5 1081.3V1069.0M1506.8 1081.3V1060.3M1508.0 1081.3V1065.5M1509.2 1081.3V1057.6M1510.5 1081.3V1068.4M1511.8 1081.3V1064.0M1514.2 1081.3V1057.0M1515.5 1081.3V1056.0M1516.8 1081.3V1064.4M1520.5 1081.3V1046.3M1521.8 1081.3V1041.8M1523.0 1081.3V1050.2M1524.2 1081.3V1048.9M1525.5 1081.3V1046.2M1526.8 1081.3V1043.7M1529.2 1081.3V1048.0M1530.5 1081.3V1065.1M1531.8 1081.3V1044.1M1533.0 1081.3V1069.7M1534.2 1081.3V1064.2M1535.5 1081.3V1057.7M1536.8 1081.3V1069.7M1538.0 1081.3V1061.7M1539.2 1081.3V1069.7M1540.5 1081.3V1066.1M1541.8 1081.3V1068.0M1543.0 1081.3V1057.4M1544.2 1081.3V1062.2M1545.5 1081.3V1059.0M1546.8 1081.3V1051.0M1549.2 1081.3V1058.3M1550.5 1081.3V1044.1M1551.8 1081.3V1053.6M1553.0 1081.3V1070.1M1554.2 1081.3V1070.3M1555.5 1081.3V1062.1M1556.8 1081.3V1065.2M1559.2 1081.3V1064.6M1560.5 1081.3V1056.5M1561.8 1081.3V1071.3M1564.2 1081.3V1056.5M1565.5 1081.3V1070.4M1566.8 1081.3V1071.5M1568.0 1081.3V1070.9M1569.2 1081.3V1071.7M1570.5 1081.3V1073.1M1571.8 1081.3V1065.4M1574.2 1081.3V1056.5M1575.5 1081.3V1065.4M1576.8 1081.3V1061.3M1578.0 1081.3V1068.5M1579.2 1081.3V1056.5M1580.5 1081.3V1065.8M1581.8 1081.3V1066.1M1583.0 1081.3V1071.7M1584.2 1081.3V1068.4M1585.5 1081.3V1060.7M1586.8 1081.3V1056.7M1588.0 1081.3V1041.8M1589.2 1081.3V1041.8M1590.5 1081.3V1049.6M1591.8 1081.3V1067.5M1593.0 1081.3V1041.8M1594.2 1081.3V1044.9M1596.8 1081.3V1047.9M1598.0 1081.3V1055.5M1599.2 1081.3V1049.3M1600.5 1081.3V1060.9M1601.8 1081.3V1041.8M1603.0 1081.3V1041.8M1604.2 1081.3V1056.8M1606.8 1081.3V1060.2M1608.0 1081.3V1061.4M1609.2 1081.3V1064.2M1610.5 1081.3V1047.5M1611.8 1081.3V1061.6M1613.0 1081.3V1059.0M1614.2 1081.3V1047.2M1615.5 1081.3V1046.9M1616.8 1081.3V1052.6M1618.0 1081.3V1046.5M1619.2 1081.3V1042.4M1620.5 1081.3V1041.8M1621.8 1081.3V1050.6M1623.0 1081.3V1041.8M1624.2 1081.3V1041.8M1625.5 1081.3V1041.9M1626.8 1081.3V1041.8M1628.0 1081.3V1045.6M1629.2 1081.3V1044.7M1630.5 1081.3V1047.3M1633.0 1081.3V1043.7M1634.2 1081.3V1055.8M1635.5 1081.3V1049.9M1636.8 1081.3V1041.8M1638.0 1081.3V1058.2M1639.2 1081.3V1059.7M1641.8 1081.3V1064.8M1643.0 1081.3V1047.0M1644.2 1081.3V1063.1M1645.5 1081.3V1068.8M1646.8 1081.3V1069.3M1648.0 1081.3V1068.5M1649.2 1081.3V1060.9M1651.8 1081.3V1060.6M1654.2 1081.3V1070.9M1655.5 1081.3V1061.2M1656.8 1081.3V1048.3M1658.0 1081.3V1059.2M1659.2 1081.3V1066.1M1660.5 1081.3V1067.2M1661.8 1081.3V1058.9M1663.0 1081.3V1049.0M1664.2 1081.3V1041.8M1665.5 1081.3V1045.6M1666.8 1081.3V1053.2M1669.2 1081.3V1067.9M1671.8 1081.3V1041.8M1673.0 1081.3V1060.0M1675.5 1081.3V1062.0M1676.8 1081.3V1049.3M1678.0 1081.3V1055.5M1679.2 1081.3V1057.7M1680.5 1081.3V1050.6M1681.8 1081.3V1044.1M1683.0 1081.3V1069.1M1684.2 1081.3V1053.6M1685.5 1081.3V1054.3M1686.8 1081.3V1059.9M1688.0 1081.3V1066.6M1689.2 1081.3V1044.1M1691.8 1081.3V1055.0M1693.0 1081.3V1057.3M1694.2 1081.3V1063.1M1695.5 1081.3V1053.2M1696.8 1081.3V1044.1M1698.0 1081.3V1055.4M1699.2 1081.3V1058.9M1700.5 1081.3V1052.4M1703.0 1081.3V1062.5M1704.2 1081.3V1071.9M1705.5 1081.3V1064.7M1706.8 1081.3V1062.0M1708.0 1081.3V1066.3M1709.2 1081.3V1065.2M1711.8 1081.3V1068.9M1714.2 1081.3V1072.3M1715.5 1081.3V1057.9M1716.8 1081.3V1069.5M1718.0 1081.3V1071.9M1719.2 1081.3V1067.8M1720.5 1081.3V1069.5M1721.8 1081.3V1065.5M1724.2 1081.3V1066.4M1725.5 1081.3V1062.2M1726.8 1081.3V1053.2M1728.0 1081.3V1059.7M1729.2 1081.3V1048.8M1730.5 1081.3V1048.5M1733.0 1081.3V1055.5M1734.2 1081.3V1048.9M1735.5 1081.3V1051.0M1736.8 1081.3V1066.7M1738.0 1081.3V1042.6M1739.2 1081.3V1061.8M1740.5 1081.3V1057.9M1741.8 1081.3V1046.8M1743.0 1081.3V1051.5M1744.2 1081.3V1051.4M1745.5 1081.3V1066.6M1746.8 1081.3V1062.2M1748.0 1081.3V1057.9M1749.2 1081.3V1041.8" stroke="#151515" stroke-width="1.25" fill="none"/><path d="M1068.0 1081.3V1049.7M1069.2 1081.3V1056.8M1073.0 1081.3V1063.5M1098.0 1081.3V1072.8M1110.5 1081.3V1044.1M1121.8 1081.3V1063.1M1148.0 1081.3V1060.4M1155.5 1081.3V1052.4M1160.5 1081.3V1048.3M1163.0 1081.3V1067.3M1179.2 1081.3V1064.3M1180.5 1081.3V1045.8M1225.5 1081.3V1043.5M1226.8 1081.3V1048.6M1236.8 1081.3V1042.5M1266.8 1081.3V1064.5M1276.8 1081.3V1041.8M1278.0 1081.3V1051.2M1296.8 1081.3V1044.2M1315.5 1081.3V1049.4M1329.2 1081.3V1041.8M1339.2 1081.3V1064.7M1408.0 1081.3V1047.8M1413.0 1081.3V1058.3M1471.8 1081.3V1041.8M1475.5 1081.3V1067.5M1480.5 1081.3V1062.0M1513.0 1081.3V1041.8M1519.2 1081.3V1044.4M1528.0 1081.3V1046.2M1548.0 1081.3V1061.1M1558.0 1081.3V1071.0M1563.0 1081.3V1071.9M1595.5 1081.3V1064.1M1631.8 1081.3V1041.9M1670.5 1081.3V1063.0M1674.2 1081.3V1061.0M1713.0 1081.3V1069.6M1723.0 1081.3V1058.0" stroke="#7a7a7a" stroke-width="1" fill="none"/><path d="M1045 1081.0H1750" stroke="#c0508a" stroke-width="0.9"/><text x="950.0" y="1061.6" font-size="17.5" fill="#111" textLength="37.1" lengthAdjust="spacingAndGlyphs">GC %</text><text x="1021.0" y="1040.8" font-size="13.5" textLength="12.0" lengthAdjust="spacingAndGlyphs">70</text><text x="1021.0" y="1081.8" font-size="13.5" textLength="12.0" lengthAdjust="spacingAndGlyphs">30</text><path d="M1037.5 661.5H1043.5M1037.5 704.0H1043.5" stroke="#5d9fd3" stroke-width="1.3"/><path d="M1037.5 715.8H1043.5M1037.5 758.3H1043.5" stroke="#8a3d5e" stroke-width="1.3"/><path d="M1037.5 770.2H1043.5M1037.5 812.7H1043.5" stroke="#c4477c" stroke-width="1.3"/><path d="M1037.5 824.5H1043.5M1037.5 867.0H1043.5" stroke="#7b7b44" stroke-width="1.3"/><path d="M1037.5 878.8H1043.5M1037.5 921.3H1043.5" stroke="#7e7ec6" stroke-width="1.3"/><path d="M1037.5 933.1H1043.5M1037.5 975.6H1043.5" stroke="#a8c83c" stroke-width="1.3"/><path d="M1037.5 987.5H1043.5M1037.5 1030.0H1043.5" stroke="#bca43c" stroke-width="1.3"/><path d="M1037.5 1041.8H1043.5M1037.5 1082.8H1043.5" stroke="#111" stroke-width="1.3"/><text x="1338.5" y="1110.0" font-size="15.5" fill="#5a5aa8" font-style="italic" textLength="23.5" lengthAdjust="spacingAndGlyphs">Lef1</text><rect x="1365" y="1100.5" width="46" height="8" fill="#8585cc"/><rect x="1409" y="1099" width="9" height="11" fill="#8585cc"/><path d="M1418 1104.5H1749.6" stroke="#8585cc" stroke-width="1.2"/><path d="M1420.5 1102.1L1423.5 1104.5L1420.5 1106.9M1428.7 1102.1L1431.7 1104.5L1428.7 1106.9M1436.9 1102.1L1439.9 1104.5L1436.9 1106.9M1445.1 1102.1L1448.1 1104.5L1445.1 1106.9M1453.3 1102.1L1456.3 1104.5L1453.3 1106.9M1461.5 1102.1L1464.5 1104.5L1461.5 1106.9M1469.7 1102.1L1472.7 1104.5L1469.7 1106.9M1477.9 1102.1L1480.9 1104.5L1477.9 1106.9M1486.1 1102.1L1489.1 1104.5L1486.1 1106.9M1494.3 1102.1L1497.3 1104.5L1494.3 1106.9M1502.5 1102.1L1505.5 1104.5L1502.5 1106.9M1510.7 1102.1L1513.7 1104.5L1510.7 1106.9M1518.9 1102.1L1521.9 1104.5L1518.9 1106.9M1527.1 1102.1L1530.1 1104.5L1527.1 1106.9M1535.3 1102.1L1538.3 1104.5L1535.3 1106.9M1543.5 1102.1L1546.5 1104.5L1543.5 1106.9M1551.7 1102.1L1554.7 1104.5L1551.7 1106.9M1559.9 1102.1L1562.9 1104.5L1559.9 1106.9M1568.1 1102.1L1571.1 1104.5L1568.1 1106.9M1576.3 1102.1L1579.3 1104.5L1576.3 1106.9M1584.5 1102.1L1587.5 1104.5L1584.5 1106.9M1592.7 1102.1L1595.7 1104.5L1592.7 1106.9M1600.9 1102.1L1603.9 1104.5L1600.9 1106.9M1609.1 1102.1L1612.1 1104.5L1609.1 1106.9M1617.3 1102.1L1620.3 1104.5L1617.3 1106.9M1625.5 1102.1L1628.5 1104.5L1625.5 1106.9M1633.7 1102.1L1636.7 1104.5L1633.7 1106.9M1641.9 1102.1L1644.9 1104.5L1641.9 1106.9M1650.1 1102.1L1653.1 1104.5L1650.1 1106.9M1658.3 1102.1L1661.3 1104.5L1658.3 1106.9M1666.5 1102.1L1669.5 1104.5L1666.5 1106.9M1674.7 1102.1L1677.7 1104.5L1674.7 1106.9M1682.9 1102.1L1685.9 1104.5L1682.9 1106.9M1691.1 1102.1L1694.1 1104.5L1691.1 1106.9M1699.3 1102.1L1702.3 1104.5L1699.3 1106.9M1707.5 1102.1L1710.5 1104.5L1707.5 1106.9M1715.7 1102.1L1718.7 1104.5L1715.7 1106.9M1723.9 1102.1L1726.9 1104.5L1723.9 1106.9M1732.1 1102.1L1735.1 1104.5L1732.1 1106.9M1740.3 1102.1L1743.3 1104.5L1740.3 1106.9" stroke="#8585cc" stroke-width="1" fill="none"/><rect x="1516.5" y="1099" width="2.5" height="11" fill="#8585cc"/><rect x="1586" y="1099" width="5" height="11" fill="#8585cc"/><rect x="500.6" y="1181.7" width="46.2" height="501.3" fill="#d0d1d4"/><text x="525.5" y="1167.0" font-size="23.8" text-anchor="middle">Airn-like 3</text><text x="391.2" y="1195.0" font-size="13.5" textLength="20.4" lengthAdjust="spacingAndGlyphs">5 kb</text><path d="M414 1190H635.6M414 1184.5v11M635.6 1184.5v11" stroke="#222" stroke-width="1.5" fill="none"/><path d="M172.4 1261.3V1259.8H192.1V1261.3ZM192.1 1261.3V1258.3H196.5V1261.3ZM199.7 1261.3V1257.3H205.2V1261.3ZM205.2 1261.3V1259.8H233.7V1261.3ZM235.8 1261.3V1259.8H290.6V1261.3ZM293.8 1261.3V1252.3H299.3V1261.3ZM299.3 1261.3V1256.3H311.4V1261.3ZM311.4 1261.3V1251.3H316.8V1261.3ZM316.8 1261.3V1254.3H330.0V1261.3ZM330.0 1261.3V1258.8H343.1V1261.3ZM347.5 1261.3V1260.3H351.8V1261.3ZM360.6 1261.3V1259.8H374.8V1261.3ZM439.4 1261.3V1260.3H444.9V1261.3ZM502.9 1261.3V1260.3H509.4V1261.3ZM712.6 1261.3V1260.3H718.1V1261.3ZM726.8 1261.3V1259.8H743.2V1261.3ZM854.9 1261.3V1260.3H861.4V1261.3ZM863.6 1261.3V1258.3H869.1V1261.3Z" fill="#5b9ac7"/><path d="M172 1261.3H877" stroke="#111" stroke-width="1.5"/><text x="79.7" y="1243.8" font-size="17.5" fill="#111" textLength="69.6" lengthAdjust="spacingAndGlyphs">H3K36me3</text><text x="148.5" y="1223.3" font-size="13.5" fill="#5d9fd3" textLength="12.0" lengthAdjust="spacingAndGlyphs">16</text><text x="154.5" y="1262.3" font-size="13.5" fill="#5d9fd3" textLength="6.0" lengthAdjust="spacingAndGlyphs">0</text><path d="M172.4 1313.9V1310.4H177.8V1313.9ZM186.6 1313.9V1312.1H199.7V1313.9ZM199.7 1313.9V1308.9H205.2V1313.9ZM217.2 1313.9V1312.9H222.7V1313.9ZM230.4 1313.9V1311.9H240.2V1313.9ZM267.6 1313.9V1310.9H272.0V1313.9ZM285.1 1313.9V1312.9H290.6V1313.9ZM293.8 1313.9V1309.9H299.3V1313.9ZM305.9 1313.9V1312.9H316.8V1313.9ZM316.8 1313.9V1310.9H334.3V1313.9ZM334.3 1313.9V1312.9H338.7V1313.9ZM356.2 1313.9V1310.9H365.0V1313.9ZM373.7 1313.9V1312.9H383.6V1313.9ZM386.9 1313.9V1312.9H396.7V1313.9ZM459.1 1313.9V1309.9H463.5V1313.9ZM481.0 1313.9V1312.9H489.7V1313.9ZM489.7 1313.9V1308.9H494.1V1313.9ZM494.1 1313.9V1307.9H498.5V1313.9ZM498.5 1313.9V1306.9H502.9V1313.9ZM502.9 1313.9V1307.9H509.4V1313.9ZM509.4 1313.9V1305.9H516.0V1313.9ZM516.0 1313.9V1309.9H520.4V1313.9ZM520.0 1313.9V1308.9H526.6V1313.9ZM520.4 1313.9V1308.9H528.0V1313.9ZM528.8 1313.9V1309.9H534.2V1313.9ZM538.6 1313.9V1310.9H546.3V1313.9ZM546.3 1313.9V1308.9H552.8V1313.9ZM556.1 1313.9V1310.9H563.8V1313.9ZM564.9 1313.9V1305.9H570.3V1313.9ZM573.6 1313.9V1308.9H579.1V1313.9ZM579.1 1313.9V1296.9H586.8V1313.9ZM586.8 1313.9V1292.9H597.7V1313.9ZM597.7 1313.9V1296.9H602.1V1313.9ZM602.1 1313.9V1300.9H614.1V1313.9ZM614.1 1313.9V1298.9H619.6V1313.9ZM619.6 1313.9V1312.9H624.0V1313.9ZM624.0 1313.9V1310.9H631.6V1313.9ZM631.6 1313.9V1302.9H638.2V1313.9ZM638.2 1313.9V1301.9H649.1V1313.9ZM649.1 1313.9V1305.9H660.1V1313.9ZM660.1 1313.9V1310.9H664.5V1313.9ZM667.7 1313.9V1312.9H673.2V1313.9ZM673.2 1313.9V1309.9H680.9V1313.9ZM680.9 1313.9V1310.9H686.3V1313.9ZM686.3 1313.9V1308.9H690.7V1313.9ZM690.7 1313.9V1312.9H694.0V1313.9ZM694.0 1313.9V1303.9H698.4V1313.9ZM698.4 1313.9V1309.9H702.8V1313.9ZM702.8 1313.9V1299.9H708.2V1313.9ZM708.2 1313.9V1306.9H712.6V1313.9ZM712.6 1313.9V1299.9H718.1V1313.9ZM718.1 1313.9V1304.9H724.6V1313.9ZM724.6 1313.9V1306.9H729.0V1313.9ZM729.0 1313.9V1308.9H738.9V1313.9ZM738.9 1313.9V1299.9H743.2V1313.9ZM743.2 1313.9V1312.9H752.0V1313.9ZM773.9 1313.9V1312.9H793.6V1313.9ZM846.1 1313.9V1312.9H859.2V1313.9ZM859.2 1313.9V1309.9H864.7V1313.9ZM864.7 1313.9V1312.9H877.0V1313.9Z" fill="#783b56"/><path d="M172 1313.9H877" stroke="#111" stroke-width="1.5"/><text x="79.7" y="1296.4" font-size="17.5" fill="#111" textLength="69.6" lengthAdjust="spacingAndGlyphs">H3K27me3</text><text x="148.5" y="1275.9" font-size="13.5" fill="#8a3d5e" textLength="12.0" lengthAdjust="spacingAndGlyphs">10</text><text x="154.5" y="1314.9" font-size="13.5" fill="#8a3d5e" textLength="6.0" lengthAdjust="spacingAndGlyphs">0</text><path d="M301.5 1366.4V1365.4H308.1V1366.4ZM316.8 1366.4V1364.4H325.6V1366.4ZM325.6 1366.4V1363.4H334.3V1366.4ZM334.3 1366.4V1362.4H338.7V1366.4ZM338.7 1366.4V1360.4H343.1V1366.4ZM343.1 1366.4V1362.4H347.5V1366.4ZM347.5 1366.4V1358.4H351.8V1366.4ZM351.8 1366.4V1350.4H356.2V1366.4ZM356.2 1366.4V1347.4H360.6V1366.4ZM360.6 1366.4V1341.4H365.0V1366.4ZM365.0 1366.4V1342.4H373.7V1366.4ZM373.7 1366.4V1347.4H378.1V1366.4ZM378.1 1366.4V1348.4H382.5V1366.4ZM382.5 1366.4V1351.4H386.9V1366.4ZM386.9 1366.4V1350.4H391.2V1366.4ZM391.2 1366.4V1343.4H395.6V1366.4ZM395.6 1366.4V1337.4H400.0V1366.4ZM400.0 1366.4V1334.4H405.5V1366.4ZM405.5 1366.4V1348.4H409.8V1366.4ZM409.8 1366.4V1349.4H414.2V1366.4ZM414.2 1366.4V1361.4H418.6V1366.4ZM418.6 1366.4V1363.4H423.0V1366.4ZM448.1 1366.4V1365.4H459.1V1366.4ZM459.1 1366.4V1364.4H463.5V1366.4ZM463.5 1366.4V1365.4H470.0V1366.4ZM476.6 1366.4V1363.9H485.4V1366.4ZM485.4 1366.4V1365.4H494.1V1366.4ZM494.1 1366.4V1363.4H502.9V1366.4ZM502.9 1366.4V1357.4H509.4V1366.4ZM509.4 1366.4V1358.4H516.0V1366.4ZM516.0 1366.4V1360.4H522.6V1366.4ZM520.0 1366.4V1356.4H524.4V1366.4ZM522.6 1366.4V1354.4H528.0V1366.4ZM524.4 1366.4V1355.4H529.8V1366.4ZM529.8 1366.4V1355.4H535.3V1366.4ZM535.3 1366.4V1355.4H539.7V1366.4ZM539.7 1366.4V1357.4H551.7V1366.4ZM551.7 1366.4V1355.4H560.5V1366.4ZM560.5 1366.4V1360.9H572.5V1366.4ZM572.5 1366.4V1362.4H583.5V1366.4ZM601.0 1366.4V1364.4H614.1V1366.4ZM614.1 1366.4V1365.4H636.0V1366.4ZM636.0 1366.4V1364.4H644.8V1366.4ZM644.8 1366.4V1362.9H660.1V1366.4ZM660.1 1366.4V1365.4H673.2V1366.4ZM673.2 1366.4V1363.4H676.5V1366.4ZM676.5 1366.4V1358.4H682.0V1366.4ZM682.0 1366.4V1361.4H686.3V1366.4ZM686.3 1366.4V1363.4H703.8V1366.4ZM703.8 1366.4V1365.4H712.6V1366.4ZM773.9 1366.4V1365.4H782.6V1366.4ZM782.6 1366.4V1362.4H788.1V1366.4ZM796.9 1366.4V1365.4H815.5V1366.4ZM831.9 1366.4V1365.4H850.5V1366.4Z" fill="#c73f74"/><path d="M172 1366.4H877" stroke="#111" stroke-width="1.5"/><text x="79.7" y="1348.9" font-size="17.5" fill="#111" textLength="61.9" lengthAdjust="spacingAndGlyphs">H3K4me3</text><text x="148.5" y="1328.4" font-size="13.5" fill="#c4477c" textLength="12.0" lengthAdjust="spacingAndGlyphs">37</text><text x="154.5" y="1367.4" font-size="13.5" fill="#c4477c" textLength="6.0" lengthAdjust="spacingAndGlyphs">0</text><path d="M178.5 1419.0V1414.0H183.3V1419.0ZM186.6 1419.0V1414.0H205.2V1419.0ZM212.9 1419.0V1417.0H218.3V1419.0ZM250.1 1419.0V1417.0H254.5V1419.0ZM262.1 1419.0V1417.0H266.5V1419.0ZM275.2 1419.0V1417.0H280.7V1419.0ZM289.5 1419.0V1417.0H293.8V1419.0ZM303.7 1419.0V1418.0H308.1V1419.0ZM320.1 1419.0V1417.0H330.0V1419.0ZM347.5 1419.0V1417.0H356.2V1419.0ZM365.0 1419.0V1418.0H369.4V1419.0ZM373.7 1419.0V1417.0H383.6V1419.0ZM391.2 1419.0V1418.0H396.7V1419.0ZM431.7 1419.0V1417.0H437.2V1419.0ZM444.9 1419.0V1418.0H450.3V1419.0ZM498.5 1419.0V1417.0H502.9V1419.0ZM511.6 1419.0V1417.0H516.0V1419.0ZM534.2 1419.0V1417.0H539.7V1419.0ZM551.7 1419.0V1417.0H557.2V1419.0ZM569.2 1419.0V1417.0H574.7V1419.0ZM641.5 1419.0V1417.0H646.9V1419.0ZM682.0 1419.0V1417.0H686.3V1419.0ZM689.6 1419.0V1417.0H698.4V1419.0ZM703.4 1419.0V1417.0H708.2V1419.0ZM716.5 1419.0V1417.0H721.4V1419.0ZM738.9 1419.0V1418.0H747.6V1419.0ZM747.6 1419.0V1417.0H752.0V1419.0ZM752.0 1419.0V1413.0H756.4V1419.0ZM770.6 1419.0V1417.0H775.0V1419.0ZM778.3 1419.0V1417.0H782.6V1419.0ZM827.5 1419.0V1417.0H831.9V1419.0ZM841.7 1419.0V1417.0H846.1V1419.0ZM846.1 1419.0V1413.0H850.5V1419.0ZM854.9 1419.0V1417.0H859.2V1419.0Z" fill="#696a3f"/><path d="M172 1419.0H877" stroke="#111" stroke-width="1.5"/><text x="79.7" y="1401.5" font-size="17.5" fill="#111" textLength="61.9" lengthAdjust="spacingAndGlyphs">H3K9me3</text><text x="154.5" y="1381.0" font-size="13.5" fill="#7b7b44" textLength="6.0" lengthAdjust="spacingAndGlyphs">4</text><text x="154.5" y="1420.0" font-size="13.5" fill="#7b7b44" textLength="6.0" lengthAdjust="spacingAndGlyphs">0</text><path d="M176.8 1471.6V1470.6H183.3V1471.6ZM199.7 1471.6V1470.6H205.2V1471.6ZM212.9 1471.6V1470.6H229.3V1471.6ZM231.5 1471.6V1470.6H235.8V1471.6ZM235.8 1471.6V1467.6H241.3V1471.6ZM245.7 1471.6V1470.6H251.2V1471.6ZM253.4 1471.6V1468.6H258.8V1471.6ZM262.1 1471.6V1468.6H267.6V1471.6ZM267.6 1471.6V1470.6H277.4V1471.6ZM280.7 1471.6V1467.6H289.5V1471.6ZM289.5 1471.6V1470.1H293.8V1471.6ZM307.0 1471.6V1470.6H311.4V1471.6ZM311.4 1471.6V1467.6H316.8V1471.6ZM316.8 1471.6V1470.1H325.6V1471.6ZM328.9 1471.6V1470.6H334.3V1471.6ZM347.5 1471.6V1470.6H351.8V1471.6ZM356.2 1471.6V1470.6H360.6V1471.6ZM360.6 1471.6V1468.6H365.0V1471.6ZM365.0 1471.6V1470.6H369.4V1471.6ZM369.4 1471.6V1469.6H393.4V1471.6ZM396.7 1471.6V1470.6H405.5V1471.6ZM475.5 1471.6V1470.6H485.4V1471.6ZM551.7 1471.6V1470.6H557.2V1471.6ZM596.6 1471.6V1470.6H602.1V1471.6ZM734.5 1471.6V1470.6H738.9V1471.6ZM792.5 1471.6V1470.6H796.9V1471.6ZM833.0 1471.6V1470.6H837.4V1471.6Z" fill="#7b7bc9"/><path d="M172 1471.6H877" stroke="#111" stroke-width="1.5"/><text x="79.7" y="1454.1" font-size="17.5" fill="#111" textLength="56.4" lengthAdjust="spacingAndGlyphs">RNA-seq</text><text x="142.5" y="1433.6" font-size="13.5" fill="#7e7ec6" textLength="18.0" lengthAdjust="spacingAndGlyphs">165</text><text x="154.5" y="1472.6" font-size="13.5" fill="#7e7ec6" textLength="6.0" lengthAdjust="spacingAndGlyphs">0</text><path d="M316.8 1524.2V1523.4H321.2V1524.2ZM346.4 1524.2V1519.2H351.8V1524.2ZM351.8 1524.2V1523.2H356.2V1524.2ZM373.7 1524.2V1522.2H379.2V1524.2ZM385.8 1524.2V1523.2H396.7V1524.2ZM409.8 1524.2V1519.2H414.2V1524.2ZM414.2 1524.2V1494.2H418.6V1524.2ZM418.6 1524.2V1487.2H423.0V1524.2ZM423.0 1524.2V1500.2H427.4V1524.2ZM463.5 1524.2V1492.2H467.8V1524.2ZM467.8 1524.2V1493.2H476.6V1524.2ZM476.6 1524.2V1498.2H481.0V1524.2ZM518.2 1524.2V1523.2H528.0V1524.2ZM520.0 1524.2V1523.2H547.4V1524.2ZM551.7 1524.2V1521.2H561.6V1524.2ZM561.6 1524.2V1522.2H570.3V1524.2ZM596.6 1524.2V1523.4H614.1V1524.2ZM636.0 1524.2V1523.4H646.9V1524.2ZM675.4 1524.2V1522.2H682.0V1524.2ZM686.3 1524.2V1522.2H695.1V1524.2ZM695.1 1524.2V1523.2H702.8V1524.2ZM752.0 1524.2V1523.2H769.5V1524.2ZM782.6 1524.2V1520.7H793.6V1524.2ZM805.6 1524.2V1519.2H810.0V1524.2ZM810.0 1524.2V1507.2H815.5V1524.2ZM815.5 1524.2V1511.2H819.8V1524.2ZM833.0 1524.2V1523.2H841.7V1524.2Z" fill="#a9c93a"/><path d="M172 1524.2H877" stroke="#111" stroke-width="1.5"/><text x="79.7" y="1506.7" font-size="17.5" fill="#111" textLength="69.6" lengthAdjust="spacingAndGlyphs">DNase-seq</text><text x="142.5" y="1486.2" font-size="13.5" fill="#a8c83c" textLength="18.0" lengthAdjust="spacingAndGlyphs">400</text><text x="154.5" y="1525.2" font-size="13.5" fill="#a8c83c" textLength="6.0" lengthAdjust="spacingAndGlyphs">0</text><path d="M178.9 1576.7V1540.7M183.3 1576.7V1542.7M187.0 1576.7V1541.7M204.1 1576.7V1540.7M205.6 1576.7V1539.7M207.4 1576.7V1540.7M209.1 1576.7V1541.7M210.9 1576.7V1540.7M212.9 1576.7V1541.7M214.8 1576.7V1540.7M218.8 1576.7V1546.7M221.0 1576.7V1544.7M223.2 1576.7V1545.7M232.6 1576.7V1542.7M239.8 1576.7V1542.7M241.3 1576.7V1540.7M243.5 1576.7V1541.7M246.8 1576.7V1540.7M250.1 1576.7V1540.7M252.3 1576.7V1542.7M254.9 1576.7V1542.7M264.3 1576.7V1544.7M268.2 1576.7V1549.7M272.0 1576.7V1540.7M284.0 1576.7V1542.7M289.0 1576.7V1543.7M294.5 1576.7V1548.7M298.7 1576.7V1546.7M301.1 1576.7V1546.7M309.2 1576.7V1540.7M311.4 1576.7V1541.7M314.2 1576.7V1543.7M323.4 1576.7V1550.7M327.8 1576.7V1546.7M340.9 1576.7V1568.7M342.7 1576.7V1563.7M343.7 1576.7V1570.7M345.3 1576.7V1573.7M349.7 1576.7V1574.7M362.8 1576.7V1575.7M386.9 1576.7V1575.7M408.8 1576.7V1573.7M410.5 1576.7V1569.7M412.0 1576.7V1572.7M435.0 1576.7V1562.7M447.1 1576.7V1568.7M448.8 1576.7V1558.7M450.3 1576.7V1564.7M456.9 1576.7V1561.7M576.9 1576.7V1572.7M580.2 1576.7V1571.7M583.5 1576.7V1573.7M587.8 1576.7V1570.7M590.0 1576.7V1571.7M594.4 1576.7V1570.7M596.6 1576.7V1572.7M599.9 1576.7V1573.7M603.2 1576.7V1573.7M607.5 1576.7V1574.7M614.1 1576.7V1574.7M630.5 1576.7V1573.7M633.8 1576.7V1570.7M637.1 1576.7V1573.7M640.4 1576.7V1571.7M643.7 1576.7V1574.7M701.7 1576.7V1573.7M704.9 1576.7V1568.7M707.1 1576.7V1570.7M709.3 1576.7V1566.7M711.5 1576.7V1559.7M714.8 1576.7V1560.7M717.0 1576.7V1557.7M719.2 1576.7V1558.7M723.5 1576.7V1559.7M725.7 1576.7V1564.7M727.9 1576.7V1547.7M729.0 1576.7V1559.7M742.1 1576.7V1561.7M745.4 1576.7V1564.7M748.7 1576.7V1563.7M752.0 1576.7V1559.7M759.7 1576.7V1569.7M766.2 1576.7V1571.7M831.9 1576.7V1565.7M845.0 1576.7V1571.7M846.5 1576.7V1568.7M848.3 1576.7V1570.7M852.2 1576.7V1565.7M856.6 1576.7V1565.7M860.8 1576.7V1543.7M864.1 1576.7V1552.7M866.2 1576.7V1564.7M868.0 1576.7V1568.7M871.3 1576.7V1543.7" stroke="#c3a535" stroke-width="1.25" fill="none"/><path d="M172 1576.7H877" stroke="#111" stroke-width="1.5"/><text x="79.7" y="1559.2" font-size="17.5" fill="#111" textLength="56.4" lengthAdjust="spacingAndGlyphs">mCpG %</text><text x="154.5" y="1538.7" font-size="13.5" fill="#bca43c" textLength="6.0" lengthAdjust="spacingAndGlyphs">1</text><text x="154.5" y="1577.7" font-size="13.5" fill="#bca43c" textLength="6.0" lengthAdjust="spacingAndGlyphs">0</text><path d="M172.5 1629.3V1602.9M173.8 1629.3V1600.9M175.0 1629.3V1592.3M176.2 1629.3V1592.3M177.5 1629.3V1604.6M178.8 1629.3V1600.7M180.0 1629.3V1598.0M181.2 1629.3V1592.3M182.5 1629.3V1615.5M183.8 1629.3V1598.6M185.0 1629.3V1593.6M187.5 1629.3V1613.9M188.8 1629.3V1592.5M190.0 1629.3V1608.9M191.2 1629.3V1607.7M192.5 1629.3V1594.0M195.0 1629.3V1612.3M196.2 1629.3V1594.0M197.5 1629.3V1611.1M198.8 1629.3V1609.3M200.0 1629.3V1592.3M201.2 1629.3V1606.2M202.5 1629.3V1597.4M203.8 1629.3V1592.3M207.5 1629.3V1614.4M208.8 1629.3V1592.3M210.0 1629.3V1612.5M212.5 1629.3V1607.0M213.8 1629.3V1600.4M216.2 1629.3V1605.7M218.8 1629.3V1602.8M220.0 1629.3V1602.0M221.2 1629.3V1600.7M222.5 1629.3V1604.8M223.8 1629.3V1598.9M225.0 1629.3V1592.3M226.2 1629.3V1610.1M227.5 1629.3V1608.4M228.8 1629.3V1607.2M230.0 1629.3V1605.0M231.2 1629.3V1592.3M232.5 1629.3V1609.1M233.8 1629.3V1610.1M235.0 1629.3V1612.4M236.2 1629.3V1592.7M237.5 1629.3V1610.6M238.8 1629.3V1592.3M240.0 1629.3V1611.9M241.2 1629.3V1593.4M242.5 1629.3V1607.6M243.8 1629.3V1593.4M245.0 1629.3V1607.3M246.2 1629.3V1605.8M250.0 1629.3V1592.3M251.2 1629.3V1592.3M252.5 1629.3V1592.6M253.8 1629.3V1607.4M255.0 1629.3V1613.3M256.2 1629.3V1593.3M258.8 1629.3V1592.3M260.0 1629.3V1592.3M261.2 1629.3V1594.6M262.5 1629.3V1592.3M263.8 1629.3V1606.6M265.0 1629.3V1592.3M266.2 1629.3V1598.4M268.8 1629.3V1592.3M270.0 1629.3V1592.3M271.2 1629.3V1606.1M272.5 1629.3V1600.2M273.8 1629.3V1592.3M276.2 1629.3V1611.4M277.5 1629.3V1604.8M278.8 1629.3V1596.9M280.0 1629.3V1604.4M281.2 1629.3V1593.1M282.5 1629.3V1592.3M283.8 1629.3V1592.3M285.0 1629.3V1595.8M286.2 1629.3V1599.5M287.5 1629.3V1593.7M288.8 1629.3V1598.3M290.0 1629.3V1592.3M291.2 1629.3V1593.2M292.5 1629.3V1596.8M293.8 1629.3V1613.3M295.0 1629.3V1594.4M296.2 1629.3V1598.2M297.5 1629.3V1592.3M298.8 1629.3V1597.2M301.2 1629.3V1615.7M302.5 1629.3V1595.5M303.8 1629.3V1592.8M305.0 1629.3V1615.4M306.2 1629.3V1598.7M307.5 1629.3V1593.3M308.8 1629.3V1602.4M310.0 1629.3V1611.9M311.2 1629.3V1597.7M312.5 1629.3V1606.5M313.8 1629.3V1614.3M315.0 1629.3V1606.1M316.2 1629.3V1599.3M317.5 1629.3V1603.6M318.8 1629.3V1594.2M321.2 1629.3V1601.0M322.5 1629.3V1606.2M323.8 1629.3V1604.8M325.0 1629.3V1592.3M326.2 1629.3V1601.9M327.5 1629.3V1606.2M328.8 1629.3V1592.3M330.0 1629.3V1603.4M332.5 1629.3V1596.5M333.8 1629.3V1592.3M335.0 1629.3V1592.9M337.5 1629.3V1607.3M340.0 1629.3V1606.9M341.2 1629.3V1608.5M342.5 1629.3V1592.3M343.8 1629.3V1604.8M345.0 1629.3V1612.8M346.2 1629.3V1607.3M347.5 1629.3V1597.0M348.8 1629.3V1603.4M351.2 1629.3V1600.5M352.5 1629.3V1597.2M353.8 1629.3V1592.3M355.0 1629.3V1605.1M356.2 1629.3V1607.2M357.5 1629.3V1593.4M358.8 1629.3V1592.3M360.0 1629.3V1609.2M361.2 1629.3V1592.3M362.5 1629.3V1607.1M366.2 1629.3V1602.4M367.5 1629.3V1595.4M368.8 1629.3V1603.0M370.0 1629.3V1592.3M371.2 1629.3V1592.3M372.5 1629.3V1600.7M373.8 1629.3V1592.3M375.0 1629.3V1601.7M376.2 1629.3V1595.8M377.5 1629.3V1592.3M378.8 1629.3V1609.6M380.0 1629.3V1592.3M381.2 1629.3V1599.7M382.5 1629.3V1592.3M383.8 1629.3V1600.3M385.0 1629.3V1602.3M386.2 1629.3V1597.0M388.8 1629.3V1602.7M390.0 1629.3V1592.3M391.2 1629.3V1595.1M392.5 1629.3V1598.4M393.8 1629.3V1600.0M395.0 1629.3V1605.0M396.2 1629.3V1615.4M397.5 1629.3V1605.4M398.8 1629.3V1594.3M400.0 1629.3V1595.8M401.2 1629.3V1607.1M402.5 1629.3V1592.3M403.8 1629.3V1593.7M406.2 1629.3V1592.4M407.5 1629.3V1592.3M408.8 1629.3V1592.3M410.0 1629.3V1592.3M411.2 1629.3V1609.3M412.5 1629.3V1598.3M413.8 1629.3V1605.1M415.0 1629.3V1602.2M416.2 1629.3V1593.0M417.5 1629.3V1598.5M418.8 1629.3V1613.9M420.0 1629.3V1609.8M421.2 1629.3V1607.9M422.5 1629.3V1609.0M423.8 1629.3V1592.3M425.0 1629.3V1592.3M426.2 1629.3V1599.0M427.5 1629.3V1606.5M428.8 1629.3V1610.9M430.0 1629.3V1612.2M431.2 1629.3V1613.3M432.5 1629.3V1609.5M433.8 1629.3V1622.7M435.0 1629.3V1625.7M436.2 1629.3V1625.4M437.5 1629.3V1622.6M438.8 1629.3V1621.0M440.0 1629.3V1626.8M441.2 1629.3V1622.9M442.5 1629.3V1624.8M443.8 1629.3V1622.7M446.2 1629.3V1592.3M447.5 1629.3V1592.3M448.8 1629.3V1596.7M450.0 1629.3V1601.0M451.2 1629.3V1596.8M452.5 1629.3V1612.3M453.8 1629.3V1611.4M455.0 1629.3V1603.9M456.2 1629.3V1606.6M457.5 1629.3V1617.0M458.8 1629.3V1602.3M460.0 1629.3V1598.6M461.2 1629.3V1597.9M462.5 1629.3V1601.1M463.8 1629.3V1615.9M465.0 1629.3V1610.9M466.2 1629.3V1592.3M467.5 1629.3V1612.5M468.8 1629.3V1596.9M470.0 1629.3V1592.3M471.2 1629.3V1601.7M472.5 1629.3V1592.3M473.8 1629.3V1608.8M475.0 1629.3V1610.7M477.5 1629.3V1592.3M478.8 1629.3V1596.0M480.0 1629.3V1592.3M481.2 1629.3V1601.0M482.5 1629.3V1596.6M483.8 1629.3V1626.9M485.0 1629.3V1627.8M486.2 1629.3V1627.8M487.5 1629.3V1627.2M488.8 1629.3V1627.6M490.0 1629.3V1627.4M491.2 1629.3V1625.2M492.5 1629.3V1626.5M496.2 1629.3V1592.3M500.0 1629.3V1611.2M501.2 1629.3V1598.8M502.5 1629.3V1592.3M503.8 1629.3V1603.9M505.0 1629.3V1605.6M506.2 1629.3V1602.0M507.5 1629.3V1592.3M508.8 1629.3V1592.3M510.0 1629.3V1609.2M511.2 1629.3V1598.6M512.5 1629.3V1592.3M513.8 1629.3V1592.3M515.0 1629.3V1606.9M516.2 1629.3V1592.3M517.5 1629.3V1609.1M518.8 1629.3V1592.3M521.2 1629.3V1592.3M522.5 1629.3V1597.3M523.8 1629.3V1606.3M525.0 1629.3V1592.3M526.2 1629.3V1608.2M528.8 1629.3V1600.7M530.0 1629.3V1592.3M531.2 1629.3V1592.3M532.5 1629.3V1609.2M533.8 1629.3V1592.3M535.0 1629.3V1592.3M536.2 1629.3V1594.5M537.5 1629.3V1603.1M538.8 1629.3V1592.3M540.0 1629.3V1593.0M541.2 1629.3V1592.3M542.5 1629.3V1592.3M545.0 1629.3V1608.7M546.2 1629.3V1592.3M547.5 1629.3V1592.3M548.8 1629.3V1596.1M550.0 1629.3V1592.3M551.2 1629.3V1592.3M552.5 1629.3V1592.3M555.0 1629.3V1595.3M557.5 1629.3V1592.3M558.8 1629.3V1592.3M560.0 1629.3V1592.3M562.5 1629.3V1592.3M563.8 1629.3V1592.3M565.0 1629.3V1592.3M567.5 1629.3V1592.3M568.8 1629.3V1592.3M570.0 1629.3V1592.3M571.2 1629.3V1592.3M572.5 1629.3V1605.9M573.8 1629.3V1599.4M575.0 1629.3V1605.1M576.2 1629.3V1607.0M580.0 1629.3V1625.2M581.2 1629.3V1623.1M582.5 1629.3V1625.6M583.8 1629.3V1626.0M585.0 1629.3V1626.8M586.2 1629.3V1624.7M587.5 1629.3V1624.7M588.8 1629.3V1626.8M590.0 1629.3V1626.1M591.2 1629.3V1623.1M592.5 1629.3V1624.2M593.8 1629.3V1592.3M595.0 1629.3V1598.9M596.2 1629.3V1602.6M597.5 1629.3V1602.8M600.0 1629.3V1592.3M601.2 1629.3V1604.3M602.5 1629.3V1592.3M605.0 1629.3V1597.8M606.2 1629.3V1592.3M607.5 1629.3V1593.4M608.8 1629.3V1592.3M610.0 1629.3V1592.3M611.2 1629.3V1601.3M612.5 1629.3V1592.3M613.8 1629.3V1592.3M615.0 1629.3V1596.9M616.2 1629.3V1592.3M617.5 1629.3V1608.2M618.8 1629.3V1593.5M620.0 1629.3V1592.3M622.5 1629.3V1592.3M623.8 1629.3V1592.3M625.0 1629.3V1609.0M627.5 1629.3V1626.1M628.8 1629.3V1607.4M630.0 1629.3V1610.1M631.2 1629.3V1600.6M632.5 1629.3V1594.9M633.8 1629.3V1594.8M635.0 1629.3V1592.3M637.5 1629.3V1592.3M638.8 1629.3V1592.3M640.0 1629.3V1595.4M641.2 1629.3V1603.2M642.5 1629.3V1592.3M643.8 1629.3V1592.3M645.0 1629.3V1592.3M646.2 1629.3V1592.3M647.5 1629.3V1592.3M650.0 1629.3V1592.3M652.5 1629.3V1592.3M653.8 1629.3V1592.3M655.0 1629.3V1592.3M656.2 1629.3V1592.3M657.5 1629.3V1596.2M658.8 1629.3V1609.1M660.0 1629.3V1592.3M661.2 1629.3V1592.3M662.5 1629.3V1601.4M663.8 1629.3V1598.2M665.0 1629.3V1594.5M666.2 1629.3V1592.3M667.5 1629.3V1592.3M668.8 1629.3V1596.3M670.0 1629.3V1592.3M671.2 1629.3V1592.3M672.5 1629.3V1592.3M673.8 1629.3V1592.3M675.0 1629.3V1592.3M676.2 1629.3V1593.1M677.5 1629.3V1598.3M678.8 1629.3V1606.5M680.0 1629.3V1593.3M681.2 1629.3V1594.4M682.5 1629.3V1592.3M683.8 1629.3V1592.3M686.2 1629.3V1592.3M687.5 1629.3V1607.3M688.8 1629.3V1595.4M690.0 1629.3V1599.9M691.2 1629.3V1600.0M692.5 1629.3V1592.3M693.8 1629.3V1610.5M695.0 1629.3V1604.1M696.2 1629.3V1592.3M697.5 1629.3V1601.5M700.0 1629.3V1601.3M701.2 1629.3V1592.3M703.8 1629.3V1603.5M705.0 1629.3V1610.1M706.2 1629.3V1609.8M707.5 1629.3V1593.9M708.8 1629.3V1612.5M710.0 1629.3V1609.1M711.2 1629.3V1606.3M712.5 1629.3V1613.2M713.8 1629.3V1617.2M715.0 1629.3V1615.4M716.2 1629.3V1611.4M717.5 1629.3V1614.3M718.8 1629.3V1604.5M720.0 1629.3V1612.0M721.2 1629.3V1610.8M722.5 1629.3V1621.6M723.8 1629.3V1609.8M725.0 1629.3V1609.0M726.2 1629.3V1612.3M727.5 1629.3V1613.2M728.8 1629.3V1620.4M730.0 1629.3V1620.4M731.2 1629.3V1604.5M732.5 1629.3V1608.8M733.8 1629.3V1612.8M735.0 1629.3V1612.8M736.2 1629.3V1592.3M737.5 1629.3V1616.6M738.8 1629.3V1602.4M740.0 1629.3V1612.1M741.2 1629.3V1602.5M742.5 1629.3V1610.3M743.8 1629.3V1607.1M745.0 1629.3V1607.3M746.2 1629.3V1592.3M747.5 1629.3V1608.0M748.8 1629.3V1597.3M750.0 1629.3V1603.7M751.2 1629.3V1592.3M752.5 1629.3V1592.3M753.8 1629.3V1603.3M755.0 1629.3V1610.6M756.2 1629.3V1611.8M758.8 1629.3V1614.8M760.0 1629.3V1592.3M761.2 1629.3V1613.8M762.5 1629.3V1602.4M763.8 1629.3V1611.6M765.0 1629.3V1592.3M766.2 1629.3V1610.0M767.5 1629.3V1600.8M768.8 1629.3V1598.2M771.2 1629.3V1592.3M772.5 1629.3V1603.8M773.8 1629.3V1604.6M775.0 1629.3V1614.4M776.2 1629.3V1608.2M777.5 1629.3V1605.5M778.8 1629.3V1592.3M780.0 1629.3V1606.1M781.2 1629.3V1599.4M782.5 1629.3V1610.2M783.8 1629.3V1601.6M785.0 1629.3V1599.9M786.2 1629.3V1614.1M787.5 1629.3V1605.3M788.8 1629.3V1609.2M790.0 1629.3V1598.8M791.2 1629.3V1612.3M792.5 1629.3V1604.9M793.8 1629.3V1609.7M796.2 1629.3V1592.3M797.5 1629.3V1592.3M798.8 1629.3V1592.3M800.0 1629.3V1602.9M801.2 1629.3V1603.6M802.5 1629.3V1616.0M803.8 1629.3V1614.2M805.0 1629.3V1615.3M806.2 1629.3V1614.2M807.5 1629.3V1614.8M808.8 1629.3V1615.5M811.2 1629.3V1614.4M812.5 1629.3V1609.8M813.8 1629.3V1614.5M815.0 1629.3V1606.3M816.2 1629.3V1596.2M818.8 1629.3V1609.8M822.5 1629.3V1596.8M825.0 1629.3V1609.8M826.2 1629.3V1611.9M827.5 1629.3V1616.9M828.8 1629.3V1613.7M830.0 1629.3V1592.3M831.2 1629.3V1610.0M832.5 1629.3V1600.0M833.8 1629.3V1606.7M835.0 1629.3V1598.5M836.2 1629.3V1605.9M837.5 1629.3V1609.4M838.8 1629.3V1592.3M840.0 1629.3V1607.4M842.5 1629.3V1592.3M843.8 1629.3V1611.6M845.0 1629.3V1598.7M846.2 1629.3V1595.5M847.5 1629.3V1615.1M848.8 1629.3V1600.8M850.0 1629.3V1602.3M852.5 1629.3V1592.3M853.8 1629.3V1602.6M855.0 1629.3V1604.2M856.2 1629.3V1599.8M857.5 1629.3V1603.7M858.8 1629.3V1604.6M861.2 1629.3V1606.8M862.5 1629.3V1609.7M863.8 1629.3V1615.9M865.0 1629.3V1601.3M867.5 1629.3V1610.8M868.8 1629.3V1612.3M870.0 1629.3V1603.0M871.2 1629.3V1592.3M873.8 1629.3V1614.3M875.0 1629.3V1606.5M876.2 1629.3V1605.6" stroke="#151515" stroke-width="1.25" fill="none"/><path d="M186.2 1629.3V1605.3M205.0 1629.3V1608.1M215.0 1629.3V1601.0M247.5 1629.3V1604.1M248.8 1629.3V1615.0M257.5 1629.3V1596.5M267.5 1629.3V1592.3M300.0 1629.3V1592.3M320.0 1629.3V1592.3M363.8 1629.3V1607.1M365.0 1629.3V1608.9M387.5 1629.3V1594.3M405.0 1629.3V1596.4M445.0 1629.3V1603.9M476.2 1629.3V1608.1M493.8 1629.3V1626.7M495.0 1629.3V1627.2M498.8 1629.3V1605.4M527.5 1629.3V1592.3M543.8 1629.3V1592.3M553.8 1629.3V1592.3M598.8 1629.3V1592.3M621.2 1629.3V1592.3M626.2 1629.3V1624.8M648.8 1629.3V1599.7M651.2 1629.3V1592.3M685.0 1629.3V1592.3M698.8 1629.3V1592.3M702.5 1629.3V1612.0M757.5 1629.3V1608.5M795.0 1629.3V1595.9M810.0 1629.3V1615.7M817.5 1629.3V1602.5M820.0 1629.3V1616.2M821.2 1629.3V1611.0M823.8 1629.3V1615.1M851.2 1629.3V1615.7M866.2 1629.3V1615.3" stroke="#7a7a7a" stroke-width="1" fill="none"/><path d="M172 1629.0H877" stroke="#c0508a" stroke-width="0.9"/><text x="79.7" y="1610.8" font-size="17.5" fill="#111" textLength="37.1" lengthAdjust="spacingAndGlyphs">GC %</text><text x="148.5" y="1591.3" font-size="13.5" textLength="12.0" lengthAdjust="spacingAndGlyphs">70</text><text x="148.5" y="1629.8" font-size="13.5" textLength="12.0" lengthAdjust="spacingAndGlyphs">30</text><path d="M164.5 1224.3H170.5M164.5 1264.3H170.5" stroke="#5d9fd3" stroke-width="1.3"/><path d="M164.5 1276.9H170.5M164.5 1316.9H170.5" stroke="#8a3d5e" stroke-width="1.3"/><path d="M164.5 1329.4H170.5M164.5 1369.4H170.5" stroke="#c4477c" stroke-width="1.3"/><path d="M164.5 1382.0H170.5M164.5 1422.0H170.5" stroke="#7b7b44" stroke-width="1.3"/><path d="M164.5 1434.6H170.5M164.5 1474.6H170.5" stroke="#7e7ec6" stroke-width="1.3"/><path d="M164.5 1487.2H170.5M164.5 1527.2H170.5" stroke="#a8c83c" stroke-width="1.3"/><path d="M164.5 1539.7H170.5M164.5 1579.7H170.5" stroke="#bca43c" stroke-width="1.3"/><path d="M164.5 1592.3H170.5M164.5 1630.8H170.5" stroke="#111" stroke-width="1.3"/><rect x="172.4" y="1646.3" width="233" height="6.1" fill="#262a7c"/><path d="M405 1649.3H415" stroke="#262a7c" stroke-width="1.2"/><path d="M406.4 1646.9L409.4 1649.3L406.4 1651.7" stroke="#262a7c" stroke-width="1" fill="none"/><rect x="414.9" y="1645.5" width="4.8" height="7.5" fill="#262a7c"/><text x="426.3" y="1654.0" font-size="15.5" fill="#262a7c" font-style="italic" textLength="78.2" lengthAdjust="spacingAndGlyphs">2900052L18Rik</text><text x="435.2" y="1669.0" font-size="15.5" fill="#262a7c" font-style="italic" textLength="40.3" lengthAdjust="spacingAndGlyphs">Bahcc1</text><rect x="481" y="1659" width="4.4" height="7" fill="#262a7c"/><path d="M485 1662.5H877" stroke="#262a7c" stroke-width="1.2"/><path d="M487.5 1660.1L490.5 1662.5L487.5 1664.9M495.7 1660.1L498.7 1662.5L495.7 1664.9M503.9 1660.1L506.9 1662.5L503.9 1664.9M512.1 1660.1L515.1 1662.5L512.1 1664.9M520.3 1660.1L523.3 1662.5L520.3 1664.9M528.5 1660.1L531.5 1662.5L528.5 1664.9M536.7 1660.1L539.7 1662.5L536.7 1664.9M544.9 1660.1L547.9 1662.5L544.9 1664.9M553.1 1660.1L556.1 1662.5L553.1 1664.9M561.3 1660.1L564.3 1662.5L561.3 1664.9M569.5 1660.1L572.5 1662.5L569.5 1664.9M577.7 1660.1L580.7 1662.5L577.7 1664.9M585.9 1660.1L588.9 1662.5L585.9 1664.9M594.1 1660.1L597.1 1662.5L594.1 1664.9M602.3 1660.1L605.3 1662.5L602.3 1664.9M610.5 1660.1L613.5 1662.5L610.5 1664.9M618.7 1660.1L621.7 1662.5L618.7 1664.9M626.9 1660.1L629.9 1662.5L626.9 1664.9M635.1 1660.1L638.1 1662.5L635.1 1664.9M643.3 1660.1L646.3 1662.5L643.3 1664.9M651.5 1660.1L654.5 1662.5L651.5 1664.9M659.7 1660.1L662.7 1662.5L659.7 1664.9M667.9 1660.1L670.9 1662.5L667.9 1664.9M676.1 1660.1L679.1 1662.5L676.1 1664.9M684.3 1660.1L687.3 1662.5L684.3 1664.9M692.5 1660.1L695.5 1662.5L692.5 1664.9M700.7 1660.1L703.7 1662.5L700.7 1664.9M708.9 1660.1L711.9 1662.5L708.9 1664.9M717.1 1660.1L720.1 1662.5L717.1 1664.9M725.3 1660.1L728.3 1662.5L725.3 1664.9M733.5 1660.1L736.5 1662.5L733.5 1664.9M741.7 1660.1L744.7 1662.5L741.7 1664.9M749.9 1660.1L752.9 1662.5L749.9 1664.9M758.1 1660.1L761.1 1662.5L758.1 1664.9M766.3 1660.1L769.3 1662.5L766.3 1664.9M774.5 1660.1L777.5 1662.5L774.5 1664.9M782.7 1660.1L785.7 1662.5L782.7 1664.9M790.9 1660.1L793.9 1662.5L790.9 1664.9M799.1 1660.1L802.1 1662.5L799.1 1664.9M807.3 1660.1L810.3 1662.5L807.3 1664.9M815.5 1660.1L818.5 1662.5L815.5 1664.9M823.7 1660.1L826.7 1662.5L823.7 1664.9M831.9 1660.1L834.9 1662.5L831.9 1664.9M840.1 1660.1L843.1 1662.5L840.1 1664.9M848.3 1660.1L851.3 1662.5L848.3 1664.9M856.5 1660.1L859.5 1662.5L856.5 1664.9M864.7 1660.1L867.7 1662.5L864.7 1664.9M872.9 1660.1L875.9 1662.5L872.9 1664.9" stroke="#262a7c" stroke-width="1" fill="none"/><rect x="653.5" y="1659.5" width="11" height="6" fill="#262a7c"/><rect x="664.4" y="1657" width="6.6" height="11" fill="#262a7c"/><rect x="1369.8" y="1176.4" width="47.6" height="534.4" fill="#d0d1d4"/><text x="1384.5" y="1168.8" font-size="23.8" text-anchor="middle">Airn-like 4</text><text x="1256.6" y="1190.1" font-size="13.5" textLength="20.4" lengthAdjust="spacingAndGlyphs">5 kb</text><path d="M1279.5 1185.1H1513M1279.5 1179.6v11M1513 1179.6v11" stroke="#222" stroke-width="1.5" fill="none"/><path d="M1043.5 1263.0V1261.5H1050.4V1263.0ZM1118.7 1263.0V1261.5H1124.5V1263.0ZM1141.9 1263.0V1261.5H1147.6V1263.0ZM1258.8 1263.0V1261.5H1264.5V1263.0ZM1273.8 1263.0V1261.5H1278.4V1263.0ZM1310.8 1263.0V1261.5H1316.6V1263.0ZM1320.1 1263.0V1260.0H1324.7V1263.0ZM1334.0 1263.0V1261.5H1338.6V1263.0ZM1376.8 1263.0V1261.5H1381.4V1263.0ZM1524.6 1263.0V1261.5H1530.4V1263.0ZM1689.0 1263.0V1261.5H1694.8V1263.0Z" fill="#5b9ac7"/><path d="M1043 1263.0H1748.5" stroke="#111" stroke-width="1.5"/><text x="946.0" y="1243.5" font-size="17.5" fill="#111" textLength="69.6" lengthAdjust="spacingAndGlyphs">H3K36me3</text><text x="1019.5" y="1221.0" font-size="13.5" fill="#5d9fd3" textLength="12.0" lengthAdjust="spacingAndGlyphs">16</text><text x="1025.5" y="1264.0" font-size="13.5" fill="#5d9fd3" textLength="6.0" lengthAdjust="spacingAndGlyphs">0</text><path d="M1043.0 1320.6V1300.6H1045.8V1320.6ZM1045.8 1320.6V1296.6H1050.4V1320.6ZM1050.4 1320.6V1296.6H1055.0V1320.6ZM1055.0 1320.6V1296.6H1059.7V1320.6ZM1059.7 1320.6V1297.6H1064.3V1320.6ZM1064.3 1320.6V1297.6H1068.9V1320.6ZM1068.9 1320.6V1308.6H1073.6V1320.6ZM1073.6 1320.6V1300.6H1078.2V1320.6ZM1078.2 1320.6V1307.6H1082.8V1320.6ZM1082.8 1320.6V1295.8H1087.5V1320.6ZM1087.5 1320.6V1305.1H1092.1V1320.6ZM1092.1 1320.6V1294.6H1096.7V1320.6ZM1096.7 1320.6V1299.1H1101.3V1320.6ZM1101.3 1320.6V1288.6H1106.0V1320.6ZM1106.0 1320.6V1306.6H1110.6V1320.6ZM1110.6 1320.6V1300.6H1115.2V1320.6ZM1115.2 1320.6V1302.1H1119.9V1320.6ZM1119.9 1320.6V1298.6H1124.5V1320.6ZM1124.5 1320.6V1301.6H1129.1V1320.6ZM1129.1 1320.6V1305.6H1133.8V1320.6ZM1133.8 1320.6V1304.6H1138.4V1320.6ZM1138.4 1320.6V1298.6H1143.0V1320.6ZM1143.0 1320.6V1303.6H1147.6V1320.6ZM1147.6 1320.6V1314.6H1152.3V1320.6ZM1152.3 1320.6V1308.6H1156.9V1320.6ZM1156.9 1320.6V1295.8H1161.5V1320.6ZM1161.5 1320.6V1313.0H1166.2V1320.6ZM1166.2 1320.6V1300.6H1170.8V1320.6ZM1170.8 1320.6V1303.6H1175.4V1320.6ZM1175.4 1320.6V1300.6H1180.0V1320.6ZM1180.0 1320.6V1306.0H1184.7V1320.6ZM1184.7 1320.6V1314.3H1189.3V1320.6ZM1189.3 1320.6V1306.0H1193.9V1320.6ZM1193.9 1320.6V1303.6H1198.6V1320.6ZM1198.6 1320.6V1297.6H1203.2V1320.6ZM1203.2 1320.6V1289.8H1207.8V1320.6ZM1207.8 1320.6V1302.1H1212.5V1320.6ZM1212.5 1320.6V1293.6H1217.1V1320.6ZM1217.1 1320.6V1282.9H1221.7V1320.6ZM1221.7 1320.6V1288.6H1226.3V1320.6ZM1226.3 1320.6V1303.6H1231.0V1320.6ZM1231.0 1320.6V1305.1H1235.6V1320.6ZM1235.6 1320.6V1309.0H1240.2V1320.6ZM1240.2 1320.6V1284.6H1244.9V1320.6ZM1244.9 1320.6V1303.6H1249.5V1320.6ZM1249.5 1320.6V1288.6H1254.1V1320.6ZM1254.1 1320.6V1303.6H1258.8V1320.6ZM1258.8 1320.6V1303.6H1263.4V1320.6ZM1263.4 1320.6V1296.6H1268.0V1320.6ZM1268.0 1320.6V1295.6H1272.6V1320.6ZM1272.6 1320.6V1301.6H1277.3V1320.6ZM1277.3 1320.6V1304.6H1281.9V1320.6ZM1281.9 1320.6V1292.8H1286.5V1320.6ZM1286.5 1320.6V1307.6H1291.2V1320.6ZM1291.2 1320.6V1294.6H1295.8V1320.6ZM1295.8 1320.6V1293.6H1300.4V1320.6ZM1300.4 1320.6V1300.6H1305.0V1320.6ZM1305.0 1320.6V1291.6H1309.7V1320.6ZM1309.7 1320.6V1291.6H1314.3V1320.6ZM1314.3 1320.6V1294.6H1318.9V1320.6ZM1318.9 1320.6V1296.6H1323.6V1320.6ZM1323.6 1320.6V1309.6H1328.2V1320.6ZM1328.2 1320.6V1310.2H1332.8V1320.6ZM1332.8 1320.6V1314.8H1337.5V1320.6ZM1337.5 1320.6V1314.1H1342.1V1320.6ZM1342.1 1320.6V1314.1H1346.7V1320.6ZM1346.7 1320.6V1306.0H1351.3V1320.6ZM1351.3 1320.6V1300.6H1356.0V1320.6ZM1356.0 1320.6V1312.6H1360.6V1320.6ZM1360.6 1320.6V1306.0H1365.2V1320.6ZM1365.2 1320.6V1313.0H1369.9V1320.6ZM1369.9 1320.6V1313.6H1374.5V1320.6ZM1374.5 1320.6V1308.6H1379.1V1320.6ZM1379.1 1320.6V1313.0H1383.8V1320.6ZM1383.8 1320.6V1314.8H1388.4V1320.6ZM1388.4 1320.6V1313.0H1393.0V1320.6ZM1393.0 1320.6V1313.0H1397.6V1320.6ZM1395.0 1320.6V1313.0H1399.6V1320.6ZM1399.6 1320.6V1299.8H1404.3V1320.6ZM1404.3 1320.6V1309.0H1408.9V1320.6ZM1408.9 1320.6V1301.6H1413.5V1320.6ZM1413.5 1320.6V1305.1H1418.1V1320.6ZM1418.1 1320.6V1307.2H1422.8V1320.6ZM1422.8 1320.6V1307.2H1427.4V1320.6ZM1427.4 1320.6V1311.3H1432.0V1320.6ZM1432.0 1320.6V1307.2H1436.7V1320.6ZM1436.7 1320.6V1305.6H1441.3V1320.6ZM1441.3 1320.6V1307.9H1445.9V1320.6ZM1445.9 1320.6V1316.0H1450.6V1320.6ZM1450.6 1320.6V1307.2H1455.2V1320.6ZM1455.2 1320.6V1310.2H1459.8V1320.6ZM1459.8 1320.6V1317.1H1464.4V1320.6ZM1464.4 1320.6V1313.0H1469.1V1320.6ZM1469.1 1320.6V1316.0H1473.7V1320.6ZM1473.7 1320.6V1316.0H1478.3V1320.6ZM1478.3 1320.6V1305.6H1483.0V1320.6ZM1483.0 1320.6V1314.3H1487.6V1320.6ZM1487.6 1320.6V1308.3H1492.2V1320.6ZM1492.2 1320.6V1309.7H1496.9V1320.6ZM1496.9 1320.6V1307.2H1501.5V1320.6ZM1501.5 1320.6V1300.2H1506.1V1320.6ZM1506.1 1320.6V1281.2H1510.7V1320.6ZM1510.7 1320.6V1295.6H1515.4V1320.6ZM1515.4 1320.6V1299.8H1520.0V1320.6ZM1520.0 1320.6V1295.6H1524.6V1320.6ZM1524.6 1320.6V1289.8H1529.3V1320.6ZM1529.3 1320.6V1289.8H1533.9V1320.6ZM1533.9 1320.6V1291.2H1538.5V1320.6ZM1538.5 1320.6V1288.2H1543.1V1320.6ZM1543.1 1320.6V1291.2H1547.8V1320.6ZM1547.8 1320.6V1292.8H1552.4V1320.6ZM1552.4 1320.6V1287.0H1557.0V1320.6ZM1557.0 1320.6V1289.8H1561.7V1320.6ZM1561.7 1320.6V1294.6H1566.3V1320.6ZM1566.3 1320.6V1285.6H1570.9V1320.6ZM1570.9 1320.6V1299.8H1575.6V1320.6ZM1575.6 1320.6V1310.2H1580.2V1320.6ZM1580.2 1320.6V1313.0H1584.8V1320.6ZM1584.8 1320.6V1308.3H1589.4V1320.6ZM1589.4 1320.6V1300.2H1594.1V1320.6ZM1594.1 1320.6V1297.6H1598.7V1320.6ZM1598.7 1320.6V1301.6H1603.3V1320.6ZM1603.3 1320.6V1295.6H1608.0V1320.6ZM1608.0 1320.6V1296.8H1612.6V1320.6ZM1612.6 1320.6V1294.0H1617.2V1320.6ZM1617.2 1320.6V1288.2H1621.9V1320.6ZM1621.9 1320.6V1314.8H1626.5V1320.6ZM1626.5 1320.6V1297.0H1631.1V1320.6ZM1631.1 1320.6V1307.9H1635.7V1320.6ZM1635.7 1320.6V1306.7H1640.4V1320.6ZM1640.4 1320.6V1314.3H1645.0V1320.6ZM1645.0 1320.6V1289.8H1649.6V1320.6ZM1649.6 1320.6V1304.4H1654.3V1320.6ZM1654.3 1320.6V1292.8H1658.9V1320.6ZM1658.9 1320.6V1289.8H1663.5V1320.6ZM1663.5 1320.6V1302.8H1668.1V1320.6ZM1668.1 1320.6V1295.8H1672.8V1320.6ZM1672.8 1320.6V1295.8H1677.4V1320.6ZM1677.4 1320.6V1287.6H1682.0V1320.6ZM1682.0 1320.6V1290.6H1686.7V1320.6ZM1686.7 1320.6V1282.6H1691.3V1320.6ZM1691.3 1320.6V1289.8H1695.9V1320.6ZM1695.9 1320.6V1304.4H1700.6V1320.6ZM1700.6 1320.6V1299.8H1705.2V1320.6ZM1705.2 1320.6V1301.6H1709.8V1320.6ZM1709.8 1320.6V1307.9H1714.4V1320.6ZM1714.4 1320.6V1298.6H1719.1V1320.6ZM1719.1 1320.6V1304.4H1723.7V1320.6ZM1723.7 1320.6V1302.8H1728.3V1320.6ZM1728.3 1320.6V1311.3H1733.0V1320.6ZM1733.0 1320.6V1308.3H1737.6V1320.6ZM1737.6 1320.6V1305.6H1742.2V1320.6ZM1742.2 1320.6V1307.2H1746.9V1320.6Z" fill="#783b56"/><path d="M1043 1320.6H1748.5" stroke="#111" stroke-width="1.5"/><text x="946.0" y="1301.1" font-size="17.5" fill="#111" textLength="69.6" lengthAdjust="spacingAndGlyphs">H3K27me3</text><text x="1019.5" y="1278.6" font-size="13.5" fill="#8a3d5e" textLength="12.0" lengthAdjust="spacingAndGlyphs">10</text><text x="1025.5" y="1321.6" font-size="13.5" fill="#8a3d5e" textLength="6.0" lengthAdjust="spacingAndGlyphs">0</text><path d="M1118.7 1378.2V1377.2H1124.5V1378.2ZM1132.6 1378.2V1376.7H1147.6V1378.2ZM1357.1 1378.2V1376.2H1364.1V1378.2ZM1364.1 1378.2V1374.2H1368.7V1378.2ZM1368.7 1378.2V1373.2H1374.5V1378.2ZM1374.5 1378.2V1373.2H1381.4V1378.2ZM1381.4 1378.2V1375.2H1386.1V1378.2ZM1386.1 1378.2V1374.2H1394.2V1378.2ZM1394.2 1378.2V1375.2H1400.0V1378.2ZM1395.0 1378.2V1376.2H1404.3V1378.2ZM1404.3 1378.2V1375.2H1413.5V1378.2ZM1413.5 1378.2V1372.2H1418.1V1378.2ZM1418.1 1378.2V1374.2H1422.8V1378.2ZM1422.8 1378.2V1373.2H1427.4V1378.2ZM1432.0 1378.2V1373.7H1441.3V1378.2ZM1441.3 1378.2V1374.2H1447.1V1378.2ZM1447.1 1378.2V1372.2H1451.7V1378.2ZM1451.7 1378.2V1373.2H1459.8V1378.2ZM1459.8 1378.2V1372.2H1465.6V1378.2ZM1465.6 1378.2V1374.2H1470.2V1378.2ZM1470.2 1378.2V1376.2H1474.9V1378.2ZM1474.9 1378.2V1377.2H1478.3V1378.2ZM1479.5 1378.2V1375.2H1484.1V1378.2ZM1633.4 1378.2V1377.2H1638.1V1378.2ZM1717.9 1378.2V1377.2H1730.6V1378.2ZM1744.5 1378.2V1376.2H1748.0V1378.2Z" fill="#c73f74"/><path d="M1043 1378.2H1748.5" stroke="#111" stroke-width="1.5"/><text x="946.0" y="1358.7" font-size="17.5" fill="#111" textLength="61.9" lengthAdjust="spacingAndGlyphs">H3K4me3</text><text x="1019.5" y="1336.2" font-size="13.5" fill="#c4477c" textLength="12.0" lengthAdjust="spacingAndGlyphs">37</text><text x="1025.5" y="1379.2" font-size="13.5" fill="#c4477c" textLength="6.0" lengthAdjust="spacingAndGlyphs">0</text><path d="M1053.9 1435.8V1432.8H1063.1V1435.8ZM1063.1 1435.8V1427.8H1068.9V1435.8ZM1072.4 1435.8V1432.8H1082.8V1435.8ZM1086.3 1435.8V1432.8H1096.7V1435.8ZM1104.8 1435.8V1422.8H1109.4V1435.8ZM1129.1 1435.8V1432.8H1132.6V1435.8ZM1132.6 1435.8V1426.8H1138.4V1435.8ZM1138.4 1435.8V1434.8H1143.0V1435.8ZM1156.9 1435.8V1432.8H1161.5V1435.8ZM1166.2 1435.8V1432.8H1170.8V1435.8ZM1198.6 1435.8V1432.8H1203.2V1435.8ZM1221.7 1435.8V1432.8H1227.5V1435.8ZM1246.0 1435.8V1432.8H1255.3V1435.8ZM1259.9 1435.8V1432.8H1264.5V1435.8ZM1264.5 1435.8V1427.8H1269.2V1435.8ZM1283.1 1435.8V1434.8H1287.7V1435.8ZM1301.6 1435.8V1427.8H1306.2V1435.8ZM1310.8 1435.8V1429.8H1316.6V1435.8ZM1316.6 1435.8V1432.8H1320.1V1435.8ZM1352.5 1435.8V1432.8H1357.1V1435.8ZM1376.8 1435.8V1432.8H1381.4V1435.8ZM1404.3 1435.8V1432.8H1408.9V1435.8ZM1408.9 1435.8V1429.8H1414.7V1435.8ZM1437.8 1435.8V1432.8H1442.5V1435.8ZM1451.7 1435.8V1432.8H1456.3V1435.8ZM1470.2 1435.8V1432.8H1479.5V1435.8ZM1488.8 1435.8V1432.8H1493.4V1435.8ZM1525.8 1435.8V1432.8H1531.6V1435.8ZM1531.6 1435.8V1434.3H1539.7V1435.8ZM1548.9 1435.8V1434.8H1558.2V1435.8ZM1558.2 1435.8V1428.8H1564.0V1435.8ZM1567.5 1435.8V1428.8H1573.2V1435.8ZM1605.6 1435.8V1429.8H1611.4V1435.8ZM1611.4 1435.8V1431.8H1619.5V1435.8ZM1633.4 1435.8V1432.8H1638.1V1435.8ZM1651.9 1435.8V1428.8H1656.6V1435.8ZM1656.6 1435.8V1434.8H1665.8V1435.8ZM1676.2 1435.8V1432.8H1685.5V1435.8ZM1708.7 1435.8V1432.8H1713.3V1435.8ZM1717.9 1435.8V1429.8H1722.5V1435.8ZM1736.4 1435.8V1429.8H1741.1V1435.8Z" fill="#696a3f"/><path d="M1043 1435.8H1748.5" stroke="#111" stroke-width="1.5"/><text x="946.0" y="1416.3" font-size="17.5" fill="#111" textLength="61.9" lengthAdjust="spacingAndGlyphs">H3K9me3</text><text x="1025.5" y="1393.8" font-size="13.5" fill="#7b7b44" textLength="6.0" lengthAdjust="spacingAndGlyphs">4</text><text x="1025.5" y="1436.8" font-size="13.5" fill="#7b7b44" textLength="6.0" lengthAdjust="spacingAndGlyphs">0</text><path d="M1246.0 1493.4V1492.4H1249.5V1493.4ZM1249.5 1493.4V1486.4H1255.3V1493.4ZM1255.3 1493.4V1490.4H1264.5V1493.4ZM1264.5 1493.4V1488.4H1269.2V1493.4ZM1269.2 1493.4V1486.4H1273.8V1493.4ZM1273.8 1493.4V1490.4H1278.4V1493.4ZM1283.1 1493.4V1483.4H1287.7V1493.4ZM1287.7 1493.4V1492.4H1292.3V1493.4ZM1292.3 1493.4V1480.4H1296.9V1493.4ZM1296.9 1493.4V1490.4H1301.6V1493.4ZM1306.2 1493.4V1490.4H1310.8V1493.4ZM1310.8 1493.4V1480.4H1316.6V1493.4ZM1316.6 1493.4V1486.4H1320.1V1493.4ZM1428.6 1493.4V1492.4H1433.2V1493.4ZM1441.3 1493.4V1489.4H1447.1V1493.4ZM1447.1 1493.4V1492.4H1451.7V1493.4Z" fill="#7b7bc9"/><path d="M1043 1493.4H1748.5" stroke="#111" stroke-width="1.5"/><text x="946.0" y="1473.9" font-size="17.5" fill="#111" textLength="56.4" lengthAdjust="spacingAndGlyphs">RNA-seq</text><text x="1013.5" y="1451.4" font-size="13.5" fill="#7e7ec6" textLength="18.0" lengthAdjust="spacingAndGlyphs">165</text><text x="1025.5" y="1494.4" font-size="13.5" fill="#7e7ec6" textLength="6.0" lengthAdjust="spacingAndGlyphs">0</text><path d="M1151.1 1551.0V1550.0H1169.6V1551.0ZM1193.9 1551.0V1550.0H1207.8V1551.0ZM1356.0 1551.0V1550.0H1368.7V1551.0ZM1368.7 1551.0V1549.0H1387.2V1551.0ZM1399.6 1551.0V1549.0H1412.4V1551.0ZM1422.8 1551.0V1550.0H1427.4V1551.0ZM1442.5 1551.0V1549.5H1456.3V1551.0ZM1461.0 1551.0V1548.0H1465.6V1551.0ZM1465.6 1551.0V1542.0H1470.2V1551.0ZM1470.2 1551.0V1548.0H1474.9V1551.0ZM1620.7 1551.0V1550.0H1625.3V1551.0ZM1712.1 1551.0V1550.0H1726.0V1551.0ZM1726.0 1551.0V1549.0H1733.0V1551.0ZM1733.0 1551.0V1550.0H1742.2V1551.0Z" fill="#a9c93a"/><path d="M1043 1551.0H1748.5" stroke="#111" stroke-width="1.5"/><text x="946.0" y="1531.5" font-size="17.5" fill="#111" textLength="69.6" lengthAdjust="spacingAndGlyphs">DNase-seq</text><text x="1013.5" y="1509.0" font-size="13.5" fill="#a8c83c" textLength="18.0" lengthAdjust="spacingAndGlyphs">400</text><text x="1025.5" y="1552.0" font-size="13.5" fill="#a8c83c" textLength="6.0" lengthAdjust="spacingAndGlyphs">0</text><path d="M1045.8 1608.6V1571.6M1048.8 1608.6V1573.6M1053.9 1608.6V1576.6M1063.8 1608.6V1583.6M1070.1 1608.6V1578.6M1074.7 1608.6V1568.6M1078.2 1608.6V1574.6M1085.1 1608.6V1603.6M1090.9 1608.6V1600.6M1092.8 1608.6V1594.6M1094.4 1608.6V1598.6M1099.0 1608.6V1578.6M1101.3 1608.6V1586.6M1103.7 1608.6V1583.6M1106.0 1608.6V1585.6M1111.8 1608.6V1590.6M1115.2 1608.6V1586.6M1119.9 1608.6V1598.6M1122.2 1608.6V1588.6M1123.3 1608.6V1593.6M1127.5 1608.6V1605.6M1132.6 1608.6V1603.6M1134.9 1608.6V1600.6M1136.8 1608.6V1598.6M1138.4 1608.6V1602.6M1141.9 1608.6V1598.6M1144.2 1608.6V1596.6M1146.5 1608.6V1597.6M1150.6 1608.6V1590.6M1152.3 1608.6V1592.6M1158.1 1608.6V1598.6M1160.4 1608.6V1590.6M1162.7 1608.6V1594.6M1165.0 1608.6V1592.6M1167.3 1608.6V1596.6M1178.4 1608.6V1591.6M1182.4 1608.6V1570.6M1184.7 1608.6V1578.6M1186.5 1608.6V1583.6M1188.1 1608.6V1580.6M1190.5 1608.6V1586.6M1192.8 1608.6V1588.6M1195.1 1608.6V1584.6M1197.4 1608.6V1578.6M1199.7 1608.6V1573.6M1202.0 1608.6V1588.6M1204.4 1608.6V1598.6M1207.8 1608.6V1586.6M1210.1 1608.6V1581.6M1212.5 1608.6V1583.6M1215.5 1608.6V1586.6M1222.9 1608.6V1575.6M1225.2 1608.6V1575.6M1231.0 1608.6V1578.6M1236.8 1608.6V1583.6M1250.6 1608.6V1568.6M1254.1 1608.6V1574.6M1261.1 1608.6V1570.6M1263.4 1608.6V1570.6M1266.9 1608.6V1574.6M1272.6 1608.6V1576.6M1279.6 1608.6V1570.6M1285.4 1608.6V1570.6M1296.9 1608.6V1574.6M1301.6 1608.6V1583.6M1308.5 1608.6V1580.6M1310.8 1608.6V1575.6M1312.7 1608.6V1570.6M1315.5 1608.6V1570.6M1320.6 1608.6V1583.6M1322.4 1608.6V1575.6M1324.3 1608.6V1578.6M1325.9 1608.6V1582.6M1330.5 1608.6V1572.6M1337.5 1608.6V1600.6M1342.8 1608.6V1588.6M1349.0 1608.6V1586.6M1357.6 1608.6V1605.6M1361.8 1608.6V1603.6M1365.2 1608.6V1600.6M1371.5 1608.6V1602.6M1374.5 1608.6V1600.6M1378.4 1608.6V1603.6M1390.7 1608.6V1596.6M1427.4 1608.6V1606.6M1435.5 1608.6V1605.6M1444.1 1608.6V1604.6M1445.9 1608.6V1604.6M1455.2 1608.6V1603.6M1484.8 1608.6V1603.6M1504.5 1608.6V1582.6M1508.0 1608.6V1585.6M1510.7 1608.6V1570.6M1534.4 1608.6V1581.6M1537.4 1608.6V1575.6M1548.9 1608.6V1574.6M1558.2 1608.6V1574.6M1565.6 1608.6V1573.6M1569.8 1608.6V1568.6M1571.4 1608.6V1571.6M1573.2 1608.6V1572.6M1579.0 1608.6V1573.6M1586.4 1608.6V1569.6M1589.4 1608.6V1575.6M1598.7 1608.6V1572.6M1600.6 1608.6V1572.6M1604.5 1608.6V1574.6M1606.8 1608.6V1571.6M1612.6 1608.6V1598.6M1614.4 1608.6V1588.6M1616.1 1608.6V1573.6M1617.7 1608.6V1580.6M1619.1 1608.6V1593.6M1620.7 1608.6V1598.6M1623.0 1608.6V1600.6M1625.3 1608.6V1598.6M1626.5 1608.6V1586.6M1632.3 1608.6V1596.6M1634.6 1608.6V1592.6M1636.9 1608.6V1596.6M1642.7 1608.6V1592.6M1644.5 1608.6V1592.6M1651.5 1608.6V1582.6M1660.7 1608.6V1583.6M1665.4 1608.6V1586.6M1669.3 1608.6V1588.6M1673.9 1608.6V1580.6M1676.2 1608.6V1580.6M1680.9 1608.6V1590.6M1683.9 1608.6V1588.6M1686.7 1608.6V1589.6M1693.1 1608.6V1573.6M1704.7 1608.6V1598.6M1707.5 1608.6V1586.6M1709.8 1608.6V1578.6M1715.6 1608.6V1586.6M1716.8 1608.6V1586.6M1721.4 1608.6V1605.6M1724.9 1608.6V1606.6M1739.9 1608.6V1602.6" stroke="#c3a535" stroke-width="1.25" fill="none"/><path d="M1043 1608.6H1748.5" stroke="#111" stroke-width="1.5"/><text x="946.0" y="1589.1" font-size="17.5" fill="#111" textLength="56.4" lengthAdjust="spacingAndGlyphs">mCpG %</text><text x="1025.5" y="1566.6" font-size="13.5" fill="#bca43c" textLength="6.0" lengthAdjust="spacingAndGlyphs">1</text><text x="1025.5" y="1609.6" font-size="13.5" fill="#bca43c" textLength="6.0" lengthAdjust="spacingAndGlyphs">0</text><path d="M1043.5 1666.2V1652.1M1044.8 1666.2V1652.9M1046.0 1666.2V1636.5M1047.2 1666.2V1642.4M1048.5 1666.2V1652.0M1049.8 1666.2V1635.8M1051.0 1666.2V1650.1M1052.2 1666.2V1638.0M1053.5 1666.2V1652.5M1054.8 1666.2V1643.1M1057.2 1666.2V1642.1M1059.8 1666.2V1643.0M1061.0 1666.2V1649.0M1062.2 1666.2V1642.2M1063.5 1666.2V1633.2M1064.8 1666.2V1648.3M1066.0 1666.2V1653.3M1067.2 1666.2V1645.4M1068.5 1666.2V1643.4M1069.8 1666.2V1640.5M1071.0 1666.2V1633.2M1072.2 1666.2V1652.5M1073.5 1666.2V1648.5M1076.0 1666.2V1639.5M1077.2 1666.2V1639.4M1078.5 1666.2V1639.8M1079.8 1666.2V1651.5M1081.0 1666.2V1652.8M1082.2 1666.2V1648.9M1083.5 1666.2V1629.0M1084.8 1666.2V1649.7M1086.0 1666.2V1647.0M1087.2 1666.2V1629.0M1088.5 1666.2V1652.6M1091.0 1666.2V1644.9M1092.2 1666.2V1635.7M1093.5 1666.2V1647.3M1096.0 1666.2V1645.5M1097.2 1666.2V1650.7M1098.5 1666.2V1638.0M1099.8 1666.2V1629.0M1102.2 1666.2V1633.7M1103.5 1666.2V1650.9M1106.0 1666.2V1637.0M1107.2 1666.2V1633.1M1108.5 1666.2V1636.3M1109.8 1666.2V1629.6M1111.0 1666.2V1629.5M1112.2 1666.2V1623.7M1113.5 1666.2V1636.8M1114.8 1666.2V1637.6M1116.0 1666.2V1630.3M1117.2 1666.2V1623.7M1118.5 1666.2V1650.4M1119.8 1666.2V1631.6M1121.0 1666.2V1643.3M1122.2 1666.2V1623.7M1123.5 1666.2V1633.2M1124.8 1666.2V1623.7M1126.0 1666.2V1630.6M1127.2 1666.2V1625.6M1128.5 1666.2V1623.7M1129.8 1666.2V1623.7M1131.0 1666.2V1639.9M1132.2 1666.2V1623.7M1134.8 1666.2V1636.1M1137.2 1666.2V1640.2M1138.5 1666.2V1624.6M1139.8 1666.2V1644.1M1141.0 1666.2V1639.1M1142.2 1666.2V1627.4M1143.5 1666.2V1632.6M1144.8 1666.2V1634.5M1146.0 1666.2V1623.7M1147.2 1666.2V1623.7M1148.5 1666.2V1628.0M1151.0 1666.2V1623.7M1152.2 1666.2V1633.6M1153.5 1666.2V1636.3M1154.8 1666.2V1645.7M1157.2 1666.2V1629.1M1158.5 1666.2V1645.4M1159.8 1666.2V1642.5M1161.0 1666.2V1638.4M1162.2 1666.2V1623.7M1164.8 1666.2V1628.9M1166.0 1666.2V1623.7M1167.2 1666.2V1644.6M1168.5 1666.2V1623.7M1172.2 1666.2V1641.8M1174.8 1666.2V1639.2M1176.0 1666.2V1642.6M1177.2 1666.2V1623.7M1178.5 1666.2V1632.9M1179.8 1666.2V1632.7M1182.2 1666.2V1633.3M1183.5 1666.2V1623.7M1184.8 1666.2V1624.8M1186.0 1666.2V1643.9M1187.2 1666.2V1646.1M1189.8 1666.2V1635.6M1191.0 1666.2V1623.7M1193.5 1666.2V1631.3M1196.0 1666.2V1635.5M1197.2 1666.2V1635.4M1198.5 1666.2V1649.4M1199.8 1666.2V1651.5M1201.0 1666.2V1646.9M1202.2 1666.2V1632.0M1203.5 1666.2V1642.8M1206.0 1666.2V1649.4M1207.2 1666.2V1647.5M1208.5 1666.2V1635.5M1209.8 1666.2V1628.6M1211.0 1666.2V1630.1M1212.2 1666.2V1632.7M1216.0 1666.2V1651.0M1217.2 1666.2V1629.0M1218.5 1666.2V1627.9M1221.0 1666.2V1628.3M1222.2 1666.2V1635.8M1223.5 1666.2V1642.5M1224.8 1666.2V1638.6M1226.0 1666.2V1645.3M1229.8 1666.2V1638.3M1231.0 1666.2V1635.3M1232.2 1666.2V1623.7M1233.5 1666.2V1648.1M1234.8 1666.2V1631.9M1236.0 1666.2V1641.6M1238.5 1666.2V1638.2M1239.8 1666.2V1639.7M1241.0 1666.2V1652.1M1242.2 1666.2V1636.8M1243.5 1666.2V1647.4M1244.8 1666.2V1649.1M1246.0 1666.2V1645.3M1248.5 1666.2V1640.3M1249.8 1666.2V1652.2M1251.0 1666.2V1636.8M1252.2 1666.2V1645.5M1254.8 1666.2V1650.7M1256.0 1666.2V1629.0M1258.5 1666.2V1629.0M1259.8 1666.2V1655.0M1261.0 1666.2V1651.4M1267.2 1666.2V1623.7M1268.5 1666.2V1632.4M1269.8 1666.2V1649.8M1271.0 1666.2V1639.9M1272.2 1666.2V1632.5M1273.5 1666.2V1623.7M1274.8 1666.2V1639.1M1276.0 1666.2V1644.7M1277.2 1666.2V1629.9M1278.5 1666.2V1629.0M1279.8 1666.2V1623.7M1281.0 1666.2V1633.4M1282.2 1666.2V1624.9M1283.5 1666.2V1651.3M1284.8 1666.2V1646.4M1286.0 1666.2V1653.7M1287.2 1666.2V1645.0M1289.8 1666.2V1632.6M1291.0 1666.2V1640.6M1292.2 1666.2V1638.2M1293.5 1666.2V1636.5M1294.8 1666.2V1624.9M1296.0 1666.2V1647.4M1297.2 1666.2V1646.7M1299.8 1666.2V1646.9M1301.0 1666.2V1638.2M1302.2 1666.2V1634.9M1304.8 1666.2V1627.4M1306.0 1666.2V1623.7M1307.2 1666.2V1623.7M1308.5 1666.2V1632.6M1309.8 1666.2V1623.7M1311.0 1666.2V1634.8M1313.5 1666.2V1636.6M1314.8 1666.2V1623.7M1316.0 1666.2V1623.7M1317.2 1666.2V1623.7M1318.5 1666.2V1623.7M1321.0 1666.2V1649.3M1322.2 1666.2V1633.4M1323.5 1666.2V1623.7M1324.8 1666.2V1633.7M1326.0 1666.2V1647.7M1327.2 1666.2V1646.4M1328.5 1666.2V1639.0M1329.8 1666.2V1646.0M1331.0 1666.2V1623.7M1332.2 1666.2V1632.6M1333.5 1666.2V1646.3M1334.8 1666.2V1642.4M1336.0 1666.2V1650.6M1337.2 1666.2V1642.2M1341.0 1666.2V1646.9M1342.2 1666.2V1647.7M1343.5 1666.2V1643.5M1344.8 1666.2V1639.5M1346.0 1666.2V1636.5M1347.2 1666.2V1650.4M1348.5 1666.2V1653.7M1349.8 1666.2V1654.3M1351.0 1666.2V1649.4M1352.2 1666.2V1645.6M1353.5 1666.2V1623.9M1354.8 1666.2V1623.7M1357.2 1666.2V1623.7M1358.5 1666.2V1637.0M1359.8 1666.2V1648.5M1361.0 1666.2V1629.2M1362.2 1666.2V1633.9M1363.5 1666.2V1645.6M1364.8 1666.2V1647.6M1366.0 1666.2V1633.1M1367.2 1666.2V1623.7M1368.5 1666.2V1623.7M1371.0 1666.2V1623.7M1372.2 1666.2V1629.6M1373.5 1666.2V1624.2M1374.8 1666.2V1635.3M1376.0 1666.2V1623.7M1377.2 1666.2V1637.1M1378.5 1666.2V1623.7M1379.8 1666.2V1630.2M1381.0 1666.2V1623.7M1382.2 1666.2V1623.7M1383.5 1666.2V1635.4M1384.8 1666.2V1636.0M1388.5 1666.2V1623.7M1389.8 1666.2V1623.7M1391.0 1666.2V1623.7M1392.2 1666.2V1623.7M1393.5 1666.2V1639.4M1394.8 1666.2V1623.7M1396.0 1666.2V1623.7M1397.2 1666.2V1623.7M1398.5 1666.2V1635.7M1399.8 1666.2V1623.7M1401.0 1666.2V1637.6M1402.2 1666.2V1623.7M1403.5 1666.2V1623.7M1404.8 1666.2V1645.6M1406.0 1666.2V1624.3M1407.2 1666.2V1623.7M1408.5 1666.2V1641.6M1409.8 1666.2V1623.7M1411.0 1666.2V1623.7M1412.2 1666.2V1636.7M1413.5 1666.2V1643.5M1414.8 1666.2V1623.7M1416.0 1666.2V1623.7M1418.5 1666.2V1623.7M1419.8 1666.2V1623.7M1421.0 1666.2V1636.2M1422.2 1666.2V1627.0M1423.5 1666.2V1623.7M1426.0 1666.2V1643.2M1427.2 1666.2V1623.7M1428.5 1666.2V1630.2M1431.0 1666.2V1646.1M1432.2 1666.2V1623.7M1433.5 1666.2V1639.1M1434.8 1666.2V1642.2M1437.2 1666.2V1624.9M1439.8 1666.2V1638.5M1441.0 1666.2V1632.8M1442.2 1666.2V1646.9M1443.5 1666.2V1638.1M1444.8 1666.2V1651.5M1446.0 1666.2V1642.9M1448.5 1666.2V1637.5M1449.8 1666.2V1648.6M1452.2 1666.2V1643.1M1453.5 1666.2V1652.5M1454.8 1666.2V1640.9M1456.0 1666.2V1643.0M1457.2 1666.2V1650.4M1458.5 1666.2V1645.5M1459.8 1666.2V1639.4M1461.0 1666.2V1644.6M1462.2 1666.2V1624.9M1463.5 1666.2V1650.1M1464.8 1666.2V1624.9M1466.0 1666.2V1637.1M1467.2 1666.2V1624.9M1468.5 1666.2V1646.6M1469.8 1666.2V1645.7M1471.0 1666.2V1632.2M1472.2 1666.2V1633.6M1473.5 1666.2V1636.6M1474.8 1666.2V1651.1M1476.0 1666.2V1637.1M1477.2 1666.2V1635.9M1478.5 1666.2V1648.1M1479.8 1666.2V1654.3M1482.2 1666.2V1629.0M1483.5 1666.2V1639.6M1484.8 1666.2V1639.0M1486.0 1666.2V1650.3M1487.2 1666.2V1636.9M1488.5 1666.2V1629.0M1489.8 1666.2V1654.4M1491.0 1666.2V1650.2M1492.2 1666.2V1653.6M1493.5 1666.2V1637.5M1494.8 1666.2V1639.9M1496.0 1666.2V1637.8M1497.2 1666.2V1645.2M1498.5 1666.2V1650.0M1499.8 1666.2V1645.1M1501.0 1666.2V1641.5M1503.5 1666.2V1644.8M1504.8 1666.2V1649.0M1506.0 1666.2V1638.5M1507.2 1666.2V1643.3M1508.5 1666.2V1636.6M1509.8 1666.2V1642.4M1511.0 1666.2V1645.4M1512.2 1666.2V1636.7M1514.8 1666.2V1652.1M1516.0 1666.2V1648.7M1517.2 1666.2V1645.5M1518.5 1666.2V1652.6M1519.8 1666.2V1650.8M1521.0 1666.2V1646.4M1522.2 1666.2V1643.9M1523.5 1666.2V1643.5M1524.8 1666.2V1645.2M1526.0 1666.2V1642.2M1527.2 1666.2V1636.1M1528.5 1666.2V1633.5M1529.8 1666.2V1644.6M1531.0 1666.2V1653.7M1532.2 1666.2V1649.0M1534.8 1666.2V1633.7M1536.0 1666.2V1653.5M1537.2 1666.2V1644.6M1538.5 1666.2V1649.8M1539.8 1666.2V1624.9M1541.0 1666.2V1624.9M1542.2 1666.2V1652.8M1543.5 1666.2V1650.6M1544.8 1666.2V1640.0M1546.0 1666.2V1634.3M1548.5 1666.2V1653.1M1549.8 1666.2V1639.5M1551.0 1666.2V1644.3M1552.2 1666.2V1651.7M1553.5 1666.2V1639.5M1554.8 1666.2V1623.7M1556.0 1666.2V1632.4M1557.2 1666.2V1640.4M1558.5 1666.2V1643.5M1559.8 1666.2V1644.5M1561.0 1666.2V1628.9M1562.2 1666.2V1644.1M1563.5 1666.2V1646.7M1564.8 1666.2V1642.2M1566.0 1666.2V1623.7M1567.2 1666.2V1651.3M1568.5 1666.2V1639.2M1569.8 1666.2V1639.4M1571.0 1666.2V1649.1M1572.2 1666.2V1646.7M1573.5 1666.2V1639.3M1574.8 1666.2V1629.5M1576.0 1666.2V1642.0M1578.5 1666.2V1623.7M1581.0 1666.2V1644.4M1582.2 1666.2V1641.2M1583.5 1666.2V1641.2M1584.8 1666.2V1641.1M1586.0 1666.2V1631.2M1587.2 1666.2V1637.6M1588.5 1666.2V1637.9M1589.8 1666.2V1643.4M1591.0 1666.2V1645.6M1592.2 1666.2V1628.8M1593.5 1666.2V1649.2M1594.8 1666.2V1634.0M1597.2 1666.2V1646.4M1598.5 1666.2V1644.7M1601.0 1666.2V1648.4M1602.2 1666.2V1648.8M1603.5 1666.2V1645.0M1604.8 1666.2V1646.8M1606.0 1666.2V1623.7M1608.5 1666.2V1623.7M1609.8 1666.2V1625.8M1611.0 1666.2V1632.3M1612.2 1666.2V1640.4M1613.5 1666.2V1632.3M1614.8 1666.2V1630.7M1616.0 1666.2V1648.6M1617.2 1666.2V1643.2M1618.5 1666.2V1646.1M1619.8 1666.2V1646.4M1621.0 1666.2V1623.7M1622.2 1666.2V1644.9M1623.5 1666.2V1632.1M1624.8 1666.2V1651.8M1626.0 1666.2V1623.7M1627.2 1666.2V1646.4M1628.5 1666.2V1623.7M1629.8 1666.2V1633.4M1631.0 1666.2V1641.8M1632.2 1666.2V1649.5M1633.5 1666.2V1639.0M1634.8 1666.2V1654.1M1636.0 1666.2V1648.3M1637.2 1666.2V1650.5M1638.5 1666.2V1624.9M1639.8 1666.2V1641.5M1641.0 1666.2V1644.8M1642.2 1666.2V1643.8M1643.5 1666.2V1634.7M1644.8 1666.2V1624.9M1646.0 1666.2V1644.4M1647.2 1666.2V1645.6M1648.5 1666.2V1632.7M1649.8 1666.2V1624.9M1651.0 1666.2V1653.1M1652.2 1666.2V1634.3M1653.5 1666.2V1632.6M1656.0 1666.2V1636.9M1658.5 1666.2V1639.3M1661.0 1666.2V1636.5M1662.2 1666.2V1624.9M1663.5 1666.2V1639.0M1664.8 1666.2V1634.4M1666.0 1666.2V1646.3M1667.2 1666.2V1649.9M1668.5 1666.2V1632.1M1669.8 1666.2V1632.1M1671.0 1666.2V1642.6M1672.2 1666.2V1659.2M1673.5 1666.2V1651.2M1674.8 1666.2V1654.9M1677.2 1666.2V1645.5M1678.5 1666.2V1649.3M1679.8 1666.2V1650.7M1681.0 1666.2V1657.9M1682.2 1666.2V1654.0M1683.5 1666.2V1654.7M1684.8 1666.2V1657.8M1686.0 1666.2V1651.8M1687.2 1666.2V1656.0M1688.5 1666.2V1654.8M1689.8 1666.2V1654.7M1691.0 1666.2V1623.7M1693.5 1666.2V1642.4M1694.8 1666.2V1623.7M1696.0 1666.2V1640.6M1697.2 1666.2V1623.7M1698.5 1666.2V1634.3M1699.8 1666.2V1623.7M1701.0 1666.2V1623.7M1702.2 1666.2V1625.0M1703.5 1666.2V1627.2M1704.8 1666.2V1623.7M1706.0 1666.2V1639.7M1707.2 1666.2V1643.6M1708.5 1666.2V1625.8M1709.8 1666.2V1640.9M1711.0 1666.2V1623.7M1712.2 1666.2V1643.7M1713.5 1666.2V1623.7M1714.8 1666.2V1623.7M1716.0 1666.2V1636.1M1717.2 1666.2V1638.2M1718.5 1666.2V1625.2M1719.8 1666.2V1638.2M1721.0 1666.2V1639.8M1722.2 1666.2V1640.4M1723.5 1666.2V1641.8M1724.8 1666.2V1647.0M1726.0 1666.2V1636.1M1727.2 1666.2V1631.4M1728.5 1666.2V1644.1M1729.8 1666.2V1623.7M1731.0 1666.2V1637.4M1732.2 1666.2V1625.6M1733.5 1666.2V1649.3M1734.8 1666.2V1633.0M1737.2 1666.2V1625.0M1738.5 1666.2V1630.3M1739.8 1666.2V1629.0M1741.0 1666.2V1623.7M1742.2 1666.2V1642.1M1743.5 1666.2V1637.6M1744.8 1666.2V1630.4M1746.0 1666.2V1624.0M1747.2 1666.2V1623.7" stroke="#151515" stroke-width="1.25" fill="none"/><path d="M1056.0 1666.2V1652.4M1058.5 1666.2V1641.6M1094.8 1666.2V1650.6M1101.0 1666.2V1643.3M1104.8 1666.2V1631.0M1133.5 1666.2V1623.7M1136.0 1666.2V1647.6M1149.8 1666.2V1632.8M1156.0 1666.2V1642.5M1169.8 1666.2V1638.3M1171.0 1666.2V1633.4M1213.5 1666.2V1623.7M1214.8 1666.2V1637.3M1219.8 1666.2V1629.6M1227.2 1666.2V1623.7M1247.2 1666.2V1649.8M1257.2 1666.2V1642.2M1288.5 1666.2V1641.9M1298.5 1666.2V1632.9M1312.2 1666.2V1623.7M1319.8 1666.2V1623.7M1369.8 1666.2V1645.0M1417.2 1666.2V1623.7M1424.8 1666.2V1638.9M1429.8 1666.2V1642.1M1436.0 1666.2V1639.4M1438.5 1666.2V1643.4M1447.2 1666.2V1647.0M1451.0 1666.2V1637.6M1481.0 1666.2V1635.8M1502.2 1666.2V1641.6M1513.5 1666.2V1648.7M1533.5 1666.2V1639.5M1577.2 1666.2V1643.5M1579.8 1666.2V1641.3M1599.8 1666.2V1629.4M1607.2 1666.2V1635.9M1657.2 1666.2V1633.4M1692.2 1666.2V1638.9" stroke="#7a7a7a" stroke-width="1" fill="none"/><path d="M1043 1665.9H1748.5" stroke="#c0508a" stroke-width="0.9"/><text x="946.0" y="1645.0" font-size="17.5" fill="#111" textLength="37.1" lengthAdjust="spacingAndGlyphs">GC %</text><text x="1019.5" y="1622.7" font-size="13.5" textLength="12.0" lengthAdjust="spacingAndGlyphs">70</text><text x="1019.5" y="1666.7" font-size="13.5" textLength="12.0" lengthAdjust="spacingAndGlyphs">30</text><path d="M1035.5 1222.0H1041.5M1035.5 1266.0H1041.5" stroke="#5d9fd3" stroke-width="1.3"/><path d="M1035.5 1279.6H1041.5M1035.5 1323.6H1041.5" stroke="#8a3d5e" stroke-width="1.3"/><path d="M1035.5 1337.2H1041.5M1035.5 1381.2H1041.5" stroke="#c4477c" stroke-width="1.3"/><path d="M1035.5 1394.8H1041.5M1035.5 1438.8H1041.5" stroke="#7b7b44" stroke-width="1.3"/><path d="M1035.5 1452.4H1041.5M1035.5 1496.4H1041.5" stroke="#7e7ec6" stroke-width="1.3"/><path d="M1035.5 1510.0H1041.5M1035.5 1554.0H1041.5" stroke="#a8c83c" stroke-width="1.3"/><path d="M1035.5 1567.6H1041.5M1035.5 1611.6H1041.5" stroke="#bca43c" stroke-width="1.3"/><path d="M1035.5 1623.7H1041.5M1035.5 1667.7H1041.5" stroke="#111" stroke-width="1.3"/><text x="1064.7" y="1694.5" font-size="15.5" fill="#5a5aa8" font-style="italic" textLength="54.3" lengthAdjust="spacingAndGlyphs">AK035085</text><rect x="1121" y="1685.7" width="110.6" height="6.1" fill="#8585cc"/><text x="1211.0" y="1709.0" font-size="15.5" fill="#262a7c" font-style="italic" textLength="23.5" lengthAdjust="spacingAndGlyphs">Six1</text><rect x="1238" y="1700.3" width="79" height="6.4" fill="#262a7c"/><rect x="1317" y="1696.7" width="14" height="12.9" fill="#262a7c"/><path d="M1331 1703.3H1426.6" stroke="#262a7c" stroke-width="1.2"/><path d="M1336.7 1700.9L1333.7 1703.3L1336.7 1705.7M1344.9 1700.9L1341.9 1703.3L1344.9 1705.7M1353.1 1700.9L1350.1 1703.3L1353.1 1705.7M1361.3 1700.9L1358.3 1703.3L1361.3 1705.7M1369.5 1700.9L1366.5 1703.3L1369.5 1705.7M1377.7 1700.9L1374.7 1703.3L1377.7 1705.7M1385.9 1700.9L1382.9 1703.3L1385.9 1705.7M1394.1 1700.9L1391.1 1703.3L1394.1 1705.7M1402.3 1700.9L1399.3 1703.3L1402.3 1705.7M1410.5 1700.9L1407.5 1703.3L1410.5 1705.7M1418.7 1700.9L1415.7 1703.3L1418.7 1705.7" stroke="#262a7c" stroke-width="1" fill="none"/><rect x="1426" y="1696" width="25.7" height="14" fill="#262a7c"/><rect x="1451.7" y="1699" width="13.9" height="7.6" fill="#262a7c"/><text x="3.5" y="1797.0" font-size="21" font-weight="bold">c)</text><text x="39" y="1812.8" font-size="19.6"><tspan font-style="italic">Airn</tspan> ICR - 7.8 CpG/100bp</text><path d="M48.0 1821.5h2.6V1895.2h-2.6ZM50.4 1821.5h2.6V1895.2h-2.6ZM53.1 1821.5h2.6V1895.2h-2.6ZM56.2 1821.5h2.6V1895.2h-2.6ZM71.7 1821.5h2.6V1895.2h-2.6ZM80.8 1821.5h2.6V1895.2h-2.6ZM82.0 1821.5h2.6V1895.2h-2.6ZM87.5 1821.5h2.6V1895.2h-2.6ZM103.6 1821.5h2.6V1895.2h-2.6ZM113.9 1821.5h2.6V1895.2h-2.6ZM115.8 1821.5h2.6V1895.2h-2.6ZM117.9 1821.5h2.6V1895.2h-2.6ZM121.5 1821.5h2.6V1895.2h-2.6ZM129.1 1821.5h2.6V1895.2h-2.6ZM137.0 1821.5h2.6V1895.2h-2.6ZM138.6 1821.5h2.6V1895.2h-2.6ZM142.5 1821.5h2.6V1895.2h-2.6ZM176.2 1821.5h2.6V1895.2h-2.6ZM178.7 1821.5h2.6V1895.2h-2.6ZM181.7 1821.5h2.6V1895.2h-2.6ZM184.1 1821.5h2.6V1895.2h-2.6ZM188.7 1821.5h2.6V1895.2h-2.6ZM190.8 1821.5h2.6V1895.2h-2.6ZM193.3 1821.5h2.6V1895.2h-2.6ZM195.7 1821.5h2.6V1895.2h-2.6ZM197.8 1821.5h2.6V1895.2h-2.6ZM200.0 1821.5h2.6V1895.2h-2.6ZM211.5 1821.5h2.6V1895.2h-2.6ZM213.6 1821.5h2.6V1895.2h-2.6ZM215.8 1821.5h2.6V1895.2h-2.6ZM218.2 1821.5h2.6V1895.2h-2.6ZM231.3 1821.5h2.6V1895.2h-2.6ZM233.4 1821.5h2.6V1895.2h-2.6ZM238.6 1821.5h2.6V1895.2h-2.6ZM243.1 1821.5h2.6V1895.2h-2.6ZM245.5 1821.5h2.6V1895.2h-2.6ZM254.1 1821.5h2.6V1895.2h-2.6ZM260.1 1821.5h2.6V1895.2h-2.6ZM274.4 1821.5h2.6V1895.2h-2.6ZM281.4 1821.5h2.6V1895.2h-2.6ZM285.7 1821.5h2.6V1895.2h-2.6ZM288.1 1821.5h2.6V1895.2h-2.6ZM289.9 1821.5h2.6V1895.2h-2.6ZM296.6 1821.5h2.6V1895.2h-2.6ZM300.3 1821.5h2.6V1895.2h-2.6ZM302.7 1821.5h2.6V1895.2h-2.6ZM304.8 1821.5h2.6V1895.2h-2.6ZM306.9 1821.5h2.6V1895.2h-2.6ZM314.5 1821.5h2.6V1895.2h-2.6ZM317.0 1821.5h2.6V1895.2h-2.6ZM327.0 1821.5h2.6V1895.2h-2.6ZM342.8 1821.5h2.6V1895.2h-2.6ZM350.1 1821.5h2.6V1895.2h-2.6ZM352.5 1821.5h2.6V1895.2h-2.6ZM370.2 1821.5h2.6V1895.2h-2.6ZM378.7 1821.5h2.6V1895.2h-2.6ZM380.8 1821.5h2.6V1895.2h-2.6ZM384.5 1821.5h2.6V1895.2h-2.6ZM388.4 1821.5h2.6V1895.2h-2.6ZM390.5 1821.5h2.6V1895.2h-2.6ZM393.6 1821.5h2.6V1895.2h-2.6ZM396.9 1821.5h2.6V1895.2h-2.6ZM402.1 1821.5h2.6V1895.2h-2.6ZM413.3 1821.5h2.6V1895.2h-2.6ZM428.8 1821.5h2.6V1895.2h-2.6ZM437.0 1821.5h2.6V1895.2h-2.6ZM447.7 1821.5h2.6V1895.2h-2.6ZM450.1 1821.5h2.6V1895.2h-2.6ZM454.4 1821.5h2.6V1895.2h-2.6ZM456.8 1821.5h2.6V1895.2h-2.6ZM458.9 1821.5h2.6V1895.2h-2.6ZM461.4 1821.5h2.6V1895.2h-2.6ZM463.8 1821.5h2.6V1895.2h-2.6ZM468.9 1821.5h2.6V1895.2h-2.6ZM475.6 1821.5h2.6V1895.2h-2.6ZM478.1 1821.5h2.6V1895.2h-2.6ZM479.6 1821.5h2.6V1895.2h-2.6ZM493.3 1821.5h2.6V1895.2h-2.6ZM501.5 1821.5h2.6V1895.2h-2.6ZM503.9 1821.5h2.6V1895.2h-2.6ZM509.1 1821.5h2.6V1895.2h-2.6Z" fill="#000"/><rect x="31" y="1820.5" width="495.5" height="75.7" fill="none" stroke="#555" stroke-width="1.2"/><path d="M48.7 1896.2v3.5M136.8 1896.2v3.5M225.0 1896.2v3.5M312.8 1896.2v3.5M401.2 1896.2v3.5M489.1 1896.2v3.5" stroke="#555" stroke-width="1"/><text transform="translate(51.4 1915.5) scale(1 1.0)" font-size="16.3" text-anchor="middle">0</text><text transform="translate(146.9 1915.5) scale(1 1.0)" font-size="16.3" text-anchor="middle">200</text><text transform="translate(233.4 1915.5) scale(1 1.0)" font-size="16.3" text-anchor="middle">400</text><text transform="translate(319.7 1915.5) scale(1 1.0)" font-size="16.3" text-anchor="middle">600</text><text transform="translate(406.3 1915.5) scale(1 1.0)" font-size="16.3" text-anchor="middle">800</text><text transform="translate(497.4 1915.5) scale(1 1.0)" font-size="16.3" text-anchor="middle">1000</text><text x="39" y="1948" font-size="19.6">Airn-like 1 - 7.7 CpG/100bp</text><path d="M48.0 1958.4h2.6V2032.0h-2.6ZM51.0 1958.4h2.6V2032.0h-2.6ZM59.2 1958.4h2.6V2032.0h-2.6ZM66.8 1958.4h2.6V2032.0h-2.6ZM69.3 1958.4h2.6V2032.0h-2.6ZM71.1 1958.4h2.6V2032.0h-2.6ZM86.9 1958.4h2.6V2032.0h-2.6ZM93.0 1958.4h2.6V2032.0h-2.6ZM95.1 1958.4h2.6V2032.0h-2.6ZM109.7 1958.4h2.6V2032.0h-2.6ZM123.4 1958.4h2.6V2032.0h-2.6ZM127.9 1958.4h2.6V2032.0h-2.6ZM136.1 1958.4h2.6V2032.0h-2.6ZM141.6 1958.4h2.6V2032.0h-2.6ZM147.7 1958.4h2.6V2032.0h-2.6ZM152.8 1958.4h2.6V2032.0h-2.6ZM172.6 1958.4h2.6V2032.0h-2.6ZM189.3 1958.4h2.6V2032.0h-2.6ZM197.5 1958.4h2.6V2032.0h-2.6ZM200.0 1958.4h2.6V2032.0h-2.6ZM202.4 1958.4h2.6V2032.0h-2.6ZM203.9 1958.4h2.6V2032.0h-2.6ZM207.6 1958.4h2.6V2032.0h-2.6ZM210.0 1958.4h2.6V2032.0h-2.6ZM212.1 1958.4h2.6V2032.0h-2.6ZM214.2 1958.4h2.6V2032.0h-2.6ZM219.1 1958.4h2.6V2032.0h-2.6ZM221.2 1958.4h2.6V2032.0h-2.6ZM223.7 1958.4h2.6V2032.0h-2.6ZM226.1 1958.4h2.6V2032.0h-2.6ZM229.7 1958.4h2.6V2032.0h-2.6ZM233.4 1958.4h2.6V2032.0h-2.6ZM238.9 1958.4h2.6V2032.0h-2.6ZM247.4 1958.4h2.6V2032.0h-2.6ZM249.5 1958.4h2.6V2032.0h-2.6ZM251.6 1958.4h2.6V2032.0h-2.6ZM253.8 1958.4h2.6V2032.0h-2.6ZM256.2 1958.4h2.6V2032.0h-2.6ZM258.3 1958.4h2.6V2032.0h-2.6ZM272.9 1958.4h2.6V2032.0h-2.6ZM279.0 1958.4h2.6V2032.0h-2.6ZM281.4 1958.4h2.6V2032.0h-2.6ZM285.7 1958.4h2.6V2032.0h-2.6ZM291.1 1958.4h2.6V2032.0h-2.6ZM293.3 1958.4h2.6V2032.0h-2.6ZM295.7 1958.4h2.6V2032.0h-2.6ZM297.8 1958.4h2.6V2032.0h-2.6ZM300.3 1958.4h2.6V2032.0h-2.6ZM302.7 1958.4h2.6V2032.0h-2.6ZM310.3 1958.4h2.6V2032.0h-2.6ZM312.4 1958.4h2.6V2032.0h-2.6ZM314.5 1958.4h2.6V2032.0h-2.6ZM316.4 1958.4h2.6V2032.0h-2.6ZM323.1 1958.4h2.6V2032.0h-2.6ZM332.2 1958.4h2.6V2032.0h-2.6ZM341.9 1958.4h2.6V2032.0h-2.6ZM353.4 1958.4h2.6V2032.0h-2.6ZM358.0 1958.4h2.6V2032.0h-2.6ZM370.2 1958.4h2.6V2032.0h-2.6ZM378.4 1958.4h2.6V2032.0h-2.6ZM380.8 1958.4h2.6V2032.0h-2.6ZM385.4 1958.4h2.6V2032.0h-2.6ZM396.9 1958.4h2.6V2032.0h-2.6ZM404.5 1958.4h2.6V2032.0h-2.6ZM406.6 1958.4h2.6V2032.0h-2.6ZM408.5 1958.4h2.6V2032.0h-2.6ZM412.7 1958.4h2.6V2032.0h-2.6ZM415.1 1958.4h2.6V2032.0h-2.6ZM417.3 1958.4h2.6V2032.0h-2.6ZM419.7 1958.4h2.6V2032.0h-2.6ZM421.8 1958.4h2.6V2032.0h-2.6ZM424.3 1958.4h2.6V2032.0h-2.6ZM430.0 1958.4h2.6V2032.0h-2.6ZM440.7 1958.4h2.6V2032.0h-2.6ZM444.6 1958.4h2.6V2032.0h-2.6ZM447.1 1958.4h2.6V2032.0h-2.6ZM463.5 1958.4h2.6V2032.0h-2.6ZM468.9 1958.4h2.6V2032.0h-2.6ZM471.1 1958.4h2.6V2032.0h-2.6ZM473.5 1958.4h2.6V2032.0h-2.6ZM475.3 1958.4h2.6V2032.0h-2.6ZM480.2 1958.4h2.6V2032.0h-2.6ZM482.6 1958.4h2.6V2032.0h-2.6Z" fill="#000"/><rect x="31" y="1957.4" width="495.5" height="75.6" fill="none" stroke="#555" stroke-width="1.2"/><path d="M48.7 2033.0v3.5M136.8 2033.0v3.5M225.0 2033.0v3.5M312.8 2033.0v3.5M401.2 2033.0v3.5M489.1 2033.0v3.5" stroke="#555" stroke-width="1"/><text transform="translate(51.4 2052.3) scale(1 1.0)" font-size="16.3" text-anchor="middle">0</text><text transform="translate(146.9 2052.3) scale(1 1.0)" font-size="16.3" text-anchor="middle">200</text><text transform="translate(233.4 2052.3) scale(1 1.0)" font-size="16.3" text-anchor="middle">400</text><text transform="translate(319.7 2052.3) scale(1 1.0)" font-size="16.3" text-anchor="middle">600</text><text transform="translate(406.3 2052.3) scale(1 1.0)" font-size="16.3" text-anchor="middle">800</text><text transform="translate(497.4 2052.3) scale(1 1.0)" font-size="16.3" text-anchor="middle">1000</text><text x="39" y="2088.5" font-size="19.6">Airn-like 2 - 7.5 CpG/100bp</text><path d="M49.5 2098.5h2.6V2173.0h-2.6ZM51.6 2098.5h2.6V2173.0h-2.6ZM56.2 2098.5h2.6V2173.0h-2.6ZM58.0 2098.5h2.6V2173.0h-2.6ZM61.7 2098.5h2.6V2173.0h-2.6ZM86.9 2098.5h2.6V2173.0h-2.6ZM107.9 2098.5h2.6V2173.0h-2.6ZM109.7 2098.5h2.6V2173.0h-2.6ZM120.9 2098.5h2.6V2173.0h-2.6ZM123.4 2098.5h2.6V2173.0h-2.6ZM127.9 2098.5h2.6V2173.0h-2.6ZM145.8 2098.5h2.6V2173.0h-2.6ZM155.0 2098.5h2.6V2173.0h-2.6ZM157.4 2098.5h2.6V2173.0h-2.6ZM190.2 2098.5h2.6V2173.0h-2.6ZM196.0 2098.5h2.6V2173.0h-2.6ZM200.6 2098.5h2.6V2173.0h-2.6ZM208.2 2098.5h2.6V2173.0h-2.6ZM210.3 2098.5h2.6V2173.0h-2.6ZM212.4 2098.5h2.6V2173.0h-2.6ZM214.5 2098.5h2.6V2173.0h-2.6ZM216.7 2098.5h2.6V2173.0h-2.6ZM225.8 2098.5h2.6V2173.0h-2.6ZM231.0 2098.5h2.6V2173.0h-2.6ZM233.4 2098.5h2.6V2173.0h-2.6ZM237.9 2098.5h2.6V2173.0h-2.6ZM246.2 2098.5h2.6V2173.0h-2.6ZM248.6 2098.5h2.6V2173.0h-2.6ZM250.7 2098.5h2.6V2173.0h-2.6ZM268.3 2098.5h2.6V2173.0h-2.6ZM270.5 2098.5h2.6V2173.0h-2.6ZM272.9 2098.5h2.6V2173.0h-2.6ZM275.3 2098.5h2.6V2173.0h-2.6ZM280.5 2098.5h2.6V2173.0h-2.6ZM282.6 2098.5h2.6V2173.0h-2.6ZM285.1 2098.5h2.6V2173.0h-2.6ZM287.2 2098.5h2.6V2173.0h-2.6ZM289.0 2098.5h2.6V2173.0h-2.6ZM295.7 2098.5h2.6V2173.0h-2.6ZM300.9 2098.5h2.6V2173.0h-2.6ZM303.3 2098.5h2.6V2173.0h-2.6ZM305.4 2098.5h2.6V2173.0h-2.6ZM314.5 2098.5h2.6V2173.0h-2.6ZM317.0 2098.5h2.6V2173.0h-2.6ZM318.5 2098.5h2.6V2173.0h-2.6ZM329.7 2098.5h2.6V2173.0h-2.6ZM333.7 2098.5h2.6V2173.0h-2.6ZM339.8 2098.5h2.6V2173.0h-2.6ZM349.8 2098.5h2.6V2173.0h-2.6ZM364.1 2098.5h2.6V2173.0h-2.6ZM373.2 2098.5h2.6V2173.0h-2.6ZM378.4 2098.5h2.6V2173.0h-2.6ZM380.8 2098.5h2.6V2173.0h-2.6ZM383.2 2098.5h2.6V2173.0h-2.6ZM389.3 2098.5h2.6V2173.0h-2.6ZM398.1 2098.5h2.6V2173.0h-2.6ZM402.1 2098.5h2.6V2173.0h-2.6ZM404.2 2098.5h2.6V2173.0h-2.6ZM408.2 2098.5h2.6V2173.0h-2.6ZM412.7 2098.5h2.6V2173.0h-2.6ZM415.1 2098.5h2.6V2173.0h-2.6ZM416.7 2098.5h2.6V2173.0h-2.6ZM427.9 2098.5h2.6V2173.0h-2.6ZM440.1 2098.5h2.6V2173.0h-2.6ZM447.7 2098.5h2.6V2173.0h-2.6ZM452.8 2098.5h2.6V2173.0h-2.6ZM455.3 2098.5h2.6V2173.0h-2.6ZM457.1 2098.5h2.6V2173.0h-2.6ZM468.0 2098.5h2.6V2173.0h-2.6ZM470.5 2098.5h2.6V2173.0h-2.6ZM479.6 2098.5h2.6V2173.0h-2.6ZM490.8 2098.5h2.6V2173.0h-2.6ZM493.3 2098.5h2.6V2173.0h-2.6ZM495.4 2098.5h2.6V2173.0h-2.6ZM497.8 2098.5h2.6V2173.0h-2.6ZM500.0 2098.5h2.6V2173.0h-2.6ZM502.4 2098.5h2.6V2173.0h-2.6ZM503.9 2098.5h2.6V2173.0h-2.6Z" fill="#000"/><rect x="29.5" y="2097.5" width="493.5" height="76.5" fill="none" stroke="#555" stroke-width="1.2"/><path d="M46.8 2174.0v3.5M135.0 2174.0v3.5M222.5 2174.0v3.5M310.7 2174.0v3.5M398.2 2174.0v3.5M486.4 2174.0v3.5" stroke="#555" stroke-width="1"/><text transform="translate(49.4 2193.3) scale(1 1.0)" font-size="16.3" text-anchor="middle">0</text><text transform="translate(144.7 2193.3) scale(1 1.0)" font-size="16.3" text-anchor="middle">200</text><text transform="translate(231.5 2193.3) scale(1 1.0)" font-size="16.3" text-anchor="middle">400</text><text transform="translate(318.3 2193.3) scale(1 1.0)" font-size="16.3" text-anchor="middle">600</text><text transform="translate(405.0 2193.3) scale(1 1.0)" font-size="16.3" text-anchor="middle">800</text><text transform="translate(496.0 2193.3) scale(1 1.0)" font-size="16.3" text-anchor="middle">1000</text><text x="39" y="2225.7" font-size="19.6">Airn-like 3 - 7.4 CpG/100bp</text><path d="M48.6 2237.8h2.6V2311.8h-2.6ZM54.1 2237.8h2.6V2311.8h-2.6ZM60.7 2237.8h2.6V2311.8h-2.6ZM65.6 2237.8h2.6V2311.8h-2.6ZM85.1 2237.8h2.6V2311.8h-2.6ZM111.8 2237.8h2.6V2311.8h-2.6ZM113.9 2237.8h2.6V2311.8h-2.6ZM116.4 2237.8h2.6V2311.8h-2.6ZM118.5 2237.8h2.6V2311.8h-2.6ZM120.9 2237.8h2.6V2311.8h-2.6ZM123.4 2237.8h2.6V2311.8h-2.6ZM125.5 2237.8h2.6V2311.8h-2.6ZM127.9 2237.8h2.6V2311.8h-2.6ZM130.0 2237.8h2.6V2311.8h-2.6ZM132.5 2237.8h2.6V2311.8h-2.6ZM134.6 2237.8h2.6V2311.8h-2.6ZM136.7 2237.8h2.6V2311.8h-2.6ZM160.4 2237.8h2.6V2311.8h-2.6ZM200.6 2237.8h2.6V2311.8h-2.6ZM206.6 2237.8h2.6V2311.8h-2.6ZM213.6 2237.8h2.6V2311.8h-2.6ZM222.1 2237.8h2.6V2311.8h-2.6ZM224.3 2237.8h2.6V2311.8h-2.6ZM226.4 2237.8h2.6V2311.8h-2.6ZM228.8 2237.8h2.6V2311.8h-2.6ZM231.0 2237.8h2.6V2311.8h-2.6ZM232.8 2237.8h2.6V2311.8h-2.6ZM238.9 2237.8h2.6V2311.8h-2.6ZM250.1 2237.8h2.6V2311.8h-2.6ZM262.9 2237.8h2.6V2311.8h-2.6ZM265.3 2237.8h2.6V2311.8h-2.6ZM267.4 2237.8h2.6V2311.8h-2.6ZM269.9 2237.8h2.6V2311.8h-2.6ZM275.3 2237.8h2.6V2311.8h-2.6ZM282.0 2237.8h2.6V2311.8h-2.6ZM284.5 2237.8h2.6V2311.8h-2.6ZM286.6 2237.8h2.6V2311.8h-2.6ZM288.1 2237.8h2.6V2311.8h-2.6ZM292.7 2237.8h2.6V2311.8h-2.6ZM303.3 2237.8h2.6V2311.8h-2.6ZM305.4 2237.8h2.6V2311.8h-2.6ZM307.9 2237.8h2.6V2311.8h-2.6ZM310.0 2237.8h2.6V2311.8h-2.6ZM312.4 2237.8h2.6V2311.8h-2.6ZM320.0 2237.8h2.6V2311.8h-2.6ZM330.0 2237.8h2.6V2311.8h-2.6ZM336.1 2237.8h2.6V2311.8h-2.6ZM340.7 2237.8h2.6V2311.8h-2.6ZM342.8 2237.8h2.6V2311.8h-2.6ZM344.9 2237.8h2.6V2311.8h-2.6ZM347.4 2237.8h2.6V2311.8h-2.6ZM364.7 2237.8h2.6V2311.8h-2.6ZM383.8 2237.8h2.6V2311.8h-2.6ZM390.5 2237.8h2.6V2311.8h-2.6ZM398.1 2237.8h2.6V2311.8h-2.6ZM407.6 2237.8h2.6V2311.8h-2.6ZM409.7 2237.8h2.6V2311.8h-2.6ZM412.1 2237.8h2.6V2311.8h-2.6ZM414.2 2237.8h2.6V2311.8h-2.6ZM416.4 2237.8h2.6V2311.8h-2.6ZM418.8 2237.8h2.6V2311.8h-2.6ZM424.3 2237.8h2.6V2311.8h-2.6ZM438.6 2237.8h2.6V2311.8h-2.6ZM444.0 2237.8h2.6V2311.8h-2.6ZM449.8 2237.8h2.6V2311.8h-2.6ZM458.9 2237.8h2.6V2311.8h-2.6ZM461.4 2237.8h2.6V2311.8h-2.6ZM463.5 2237.8h2.6V2311.8h-2.6ZM465.9 2237.8h2.6V2311.8h-2.6ZM477.2 2237.8h2.6V2311.8h-2.6ZM479.6 2237.8h2.6V2311.8h-2.6ZM481.7 2237.8h2.6V2311.8h-2.6ZM483.5 2237.8h2.6V2311.8h-2.6ZM495.4 2237.8h2.6V2311.8h-2.6ZM502.4 2237.8h2.6V2311.8h-2.6Z" fill="#000"/><rect x="29.5" y="2236.8" width="493.5" height="76.0" fill="none" stroke="#555" stroke-width="1.2"/><path d="M46.8 2312.8v3.5M135.0 2312.8v3.5M222.5 2312.8v3.5M310.7 2312.8v3.5M398.2 2312.8v3.5M486.4 2312.8v3.5" stroke="#555" stroke-width="1"/><text transform="translate(49.4 2332.1) scale(1 1.0)" font-size="16.3" text-anchor="middle">0</text><text transform="translate(144.7 2332.1) scale(1 1.0)" font-size="16.3" text-anchor="middle">200</text><text transform="translate(231.5 2332.1) scale(1 1.0)" font-size="16.3" text-anchor="middle">400</text><text transform="translate(318.3 2332.1) scale(1 1.0)" font-size="16.3" text-anchor="middle">600</text><text transform="translate(405.0 2332.1) scale(1 1.0)" font-size="16.3" text-anchor="middle">800</text><text transform="translate(496.0 2332.1) scale(1 1.0)" font-size="16.3" text-anchor="middle">1000</text><text x="39" y="2366" font-size="19.6">Airn-like 4 - 7.2 CpG/100bp</text><path d="M56.2 2377.5h2.6V2451.3h-2.6ZM65.3 2377.5h2.6V2451.3h-2.6ZM67.7 2377.5h2.6V2451.3h-2.6ZM71.7 2377.5h2.6V2451.3h-2.6ZM75.9 2377.5h2.6V2451.3h-2.6ZM78.4 2377.5h2.6V2451.3h-2.6ZM80.2 2377.5h2.6V2451.3h-2.6ZM91.1 2377.5h2.6V2451.3h-2.6ZM97.2 2377.5h2.6V2451.3h-2.6ZM105.1 2377.5h2.6V2451.3h-2.6ZM132.5 2377.5h2.6V2451.3h-2.6ZM145.8 2377.5h2.6V2451.3h-2.6ZM149.8 2377.5h2.6V2451.3h-2.6ZM164.1 2377.5h2.6V2451.3h-2.6ZM166.5 2377.5h2.6V2451.3h-2.6ZM171.1 2377.5h2.6V2451.3h-2.6ZM173.5 2377.5h2.6V2451.3h-2.6ZM175.0 2377.5h2.6V2451.3h-2.6ZM180.8 2377.5h2.6V2451.3h-2.6ZM183.2 2377.5h2.6V2451.3h-2.6ZM186.9 2377.5h2.6V2451.3h-2.6ZM189.3 2377.5h2.6V2451.3h-2.6ZM193.0 2377.5h2.6V2451.3h-2.6ZM195.4 2377.5h2.6V2451.3h-2.6ZM197.5 2377.5h2.6V2451.3h-2.6ZM198.7 2377.5h2.6V2451.3h-2.6ZM238.6 2377.5h2.6V2451.3h-2.6ZM242.5 2377.5h2.6V2451.3h-2.6ZM250.1 2377.5h2.6V2451.3h-2.6ZM259.2 2377.5h2.6V2451.3h-2.6ZM261.4 2377.5h2.6V2451.3h-2.6ZM263.8 2377.5h2.6V2451.3h-2.6ZM265.9 2377.5h2.6V2451.3h-2.6ZM267.7 2377.5h2.6V2451.3h-2.6ZM271.4 2377.5h2.6V2451.3h-2.6ZM276.5 2377.5h2.6V2451.3h-2.6ZM285.1 2377.5h2.6V2451.3h-2.6ZM287.5 2377.5h2.6V2451.3h-2.6ZM289.0 2377.5h2.6V2451.3h-2.6ZM295.7 2377.5h2.6V2451.3h-2.6ZM310.3 2377.5h2.6V2451.3h-2.6ZM341.3 2377.5h2.6V2451.3h-2.6ZM357.4 2377.5h2.6V2451.3h-2.6ZM367.1 2377.5h2.6V2451.3h-2.6ZM374.7 2377.5h2.6V2451.3h-2.6ZM376.9 2377.5h2.6V2451.3h-2.6ZM379.3 2377.5h2.6V2451.3h-2.6ZM388.4 2377.5h2.6V2451.3h-2.6ZM390.5 2377.5h2.6V2451.3h-2.6ZM394.5 2377.5h2.6V2451.3h-2.6ZM398.1 2377.5h2.6V2451.3h-2.6ZM402.7 2377.5h2.6V2451.3h-2.6ZM405.1 2377.5h2.6V2451.3h-2.6ZM406.6 2377.5h2.6V2451.3h-2.6ZM413.3 2377.5h2.6V2451.3h-2.6ZM422.4 2377.5h2.6V2451.3h-2.6ZM441.6 2377.5h2.6V2451.3h-2.6ZM448.3 2377.5h2.6V2451.3h-2.6ZM458.9 2377.5h2.6V2451.3h-2.6ZM461.4 2377.5h2.6V2451.3h-2.6ZM462.9 2377.5h2.6V2451.3h-2.6ZM478.1 2377.5h2.6V2451.3h-2.6ZM484.8 2377.5h2.6V2451.3h-2.6ZM487.2 2377.5h2.6V2451.3h-2.6ZM488.7 2377.5h2.6V2451.3h-2.6Z" fill="#000"/><rect x="29.5" y="2376.5" width="493.5" height="75.8" fill="none" stroke="#555" stroke-width="1.2"/><path d="M46.8 2452.3v3.5M139.5 2452.3v3.5M232.3 2452.3v3.5M324.4 2452.3v3.5M416.4 2452.3v3.5M508.8 2452.3v3.5" stroke="#555" stroke-width="1"/><text transform="translate(47.7 2471.6) scale(1 1.0)" font-size="16.3" text-anchor="middle">0</text><text transform="translate(147.4 2471.6) scale(1 1.0)" font-size="16.3" text-anchor="middle">200</text><text transform="translate(239.3 2471.6) scale(1 1.0)" font-size="16.3" text-anchor="middle">400</text><text transform="translate(329.5 2471.6) scale(1 1.0)" font-size="16.3" text-anchor="middle">600</text><text transform="translate(421.0 2471.6) scale(1 1.0)" font-size="16.3" text-anchor="middle">800</text><text transform="translate(516.4 2471.6) scale(1 1.0)" font-size="16.3" text-anchor="middle">1000</text><text x="552.0" y="1797.0" font-size="21" font-weight="bold">d)</text><text x="586" y="1812.8" font-size="19.6"><tspan font-style="italic">Airn</tspan> ICR - 62.9 %GC</text><path d="M596.4 1893.2V1844.1H598.6V1844.1H599.5V1837.0H600.8V1837.0H601.0V1844.1H602.3V1837.0H603.9V1844.1H604.1V1830.0H605.7V1844.1H607.2V1858.1H608.5V1858.1H609.8V1851.1H610.9V1844.1H612.5V1851.1H614.1V1851.1H615.0V1858.1H617.2V1851.1H618.8V1858.1H619.6V1851.1H620.9V1851.1H621.2V1844.1H622.7V1851.1H625.8V1851.1H628.9V1851.1H630.5V1851.1H632.0V1851.1H634.2V1851.1H636.4V1851.1H636.7V1851.1H638.0V1851.1H641.1V1851.1H641.3V1844.1H644.4V1844.1H645.7V1844.1H647.9V1844.1H650.1V1837.0H653.2V1844.1H653.7V1851.1H656.8V1844.1H658.1V1851.1H658.4V1844.1H661.5V1837.0H664.6V1830.0H666.8V1837.0H667.7V1851.1H669.0V1851.1H670.6V1851.1H670.8V1858.1H673.9V1830.0H675.4V1851.1H678.5V1851.1H680.7V1851.1H681.6V1837.0H683.2V1851.1H685.4V1851.1H688.5V1844.1H689.4V1851.1H690.9V1851.1H692.5V1872.1H694.1V1865.1H695.4V1872.1H695.6V1858.1H697.8V1858.1H698.7V1872.1H700.2V1851.1H703.3V1844.1H706.4V1844.1H707.7V1837.0H709.5V1837.0H711.1V1837.0H712.4V1844.1H713.3V1851.1H715.5V1851.1H716.8V1844.1H717.3V1858.1H719.5V1858.1H720.4V1865.1H721.7V1865.1H721.9V1844.1H723.5V1837.0H724.8V1837.0H725.0V1844.1H726.6V1844.1H728.1V1830.0H729.7V1858.1H731.0V1858.1H731.2V1851.1H732.5V1851.1H734.7V1851.1H735.9V1844.1H737.5V1844.1H739.0V1830.0H740.6V1830.0H741.2V1844.1H742.8V1837.0H743.6V1844.1H744.9V1844.1H746.7V1851.1H748.3V1851.1H750.5V1851.1H752.7V1844.1H752.9V1851.1H754.2V1844.1H755.8V1844.1H756.0V1830.0H757.3V1830.0H757.6V1837.0H758.9V1837.0H760.2V1837.0H760.7V1830.0H762.2V1823.0H763.8V1837.0H766.9V1837.0H768.2V1837.0H768.4V1837.0H769.7V1844.1H770.0V1823.0H771.6V1823.0H773.1V1830.0H774.7V1837.0H776.3V1844.1H777.6V1844.1H777.8V1851.1H779.4V1844.1H780.9V1858.1H782.5V1858.1H784.0V1851.1H786.2V1844.1H787.1V1837.0H788.4V1837.0H790.6V1837.0H793.7V1837.0H795.3V1837.0H796.6V1837.0H798.2V1830.0H799.8V1837.0H802.9V1837.0H804.2V1837.0H806.4V1837.0H807.2V1844.1H808.5V1851.1H809.8V1837.0H811.9V1837.0H813.2V1837.0H814.5V1837.0H815.0V1823.0H816.5V1837.0H818.1V1851.1H821.2V1851.1H822.7V1865.1H824.9V1865.1H825.8V1851.1H827.4V1851.1H828.9V1844.1H830.2V1837.0H833.3V1844.1H833.6V1837.0H835.2V1830.0H836.7V1830.0H838.2V1844.1H839.8V1844.1H841.1V1837.0H844.2V1837.0H845.8V1844.1H847.5V1837.0H850.6V1837.0H852.2V1837.0H853.5V1837.0H854.8V1837.0H857.9V1837.0H859.2V1837.0H861.4V1830.0H861.5V1830.0H863.1V1823.0H864.4V1823.0H864.6V1823.0H866.2V1823.0H867.8V1823.0H870.0V1823.0H870.8V1837.0H872.1V1837.0H873.7V1837.0H873.9V1851.1H875.2V1844.1H877.0V1858.1H878.6V1865.1H879.9V1865.1H880.1V1858.1H883.2V1851.1H885.4V1851.1H886.3V1858.1H887.9V1858.1H889.5V1865.1H891.1V1858.1H893.3V1858.1H894.0V1844.1H895.6V1844.1H896.9V1837.0H898.2V1844.1H898.7V1851.1H900.3V1851.1H901.6V1851.1H901.8V1858.1H904.9V1858.1H907.1V1858.1H908.0V1851.1H909.6V1851.1H911.1V1837.0H912.7V1844.1H914.2V1844.1H915.5V1851.1H917.3V1858.1H919.5V1851.1H921.7V1851.1H923.3V1851.1H923.5V1837.0H925.7V1844.1H927.9V1844.1H930.1V1830.0H931.7V1830.0H934.8V1837.0H935.9V1851.1H937.5V1837.0H938.8V1837.0H939.0V1851.1H940.3V1851.1H942.1V1851.1H943.7V1858.1H945.3V1858.1H948.3V1844.1H951.4V1837.0H953.0V1844.1H956.1V1844.1H957.7V1844.1H959.0V1837.0H960.6V1837.0H960.7V1851.1H962.9V1851.1H966.0V1851.1H967.3V1851.1H968.9V1851.1H970.2V1851.1H971.5V1851.1H972.8V1851.1H973.1V1851.1H976.2V1851.1H977.5V1851.1H979.1V1858.1H980.7V1851.1H980.9V1837.0H984.0V1844.1H986.2V1837.0H987.8V1844.1H989.4V1844.1H991.6V1837.0H993.2V1844.1H994.5V1844.1H995.8V1844.1H996.4V1837.0H998.6V1837.0H1001.7V1837.0H1003.3V1837.0H1004.6V1837.0H1005.7V1830.0H1007.0V1830.0H1010.1V1837.0H1010.3V1837.0H1011.9V1837.0H1013.2V1844.1H1013.4V1851.1H1015.0V1851.1H1016.5V1851.1H1018.7V1844.1H1019.6V1865.1H1021.2V1872.1H1022.7V1858.1H1024.3V1844.1H1025.8V1837.0H1027.4V1844.1H1029.6V1851.1H1031.8V1851.1H1032.0V1858.1H1033.6V1865.1H1035.1V1851.1H1036.4V1851.1H1037.7V1851.1H1038.2V1844.1H1039.5V1844.1H1040.8V1844.1H1041.3V1837.0H1042.9V1837.0H1045.1V1844.1H1046.0V1844.1H1048.2V1844.1H1049.1V1837.0H1050.6V1851.1H1052.2V1851.1H1053.5V1851.1H1054.3V1893.2Z" fill="#231f20"/><rect x="578" y="1820.3" width="493.7" height="75.9" fill="none" stroke="#555" stroke-width="1.2"/><path d="M578.0 1893.2h-4.5M578.0 1879.2h-4.5M578.0 1865.1h-4.5M578.0 1851.1h-4.5M578.0 1837.0h-4.5M578.0 1823.0h-4.5" stroke="#555" stroke-width="1"/><path d="M597.9 1896.2v3.5M684.7 1896.2v3.5M771.8 1896.2v3.5M858.9 1896.2v3.5M946.0 1896.2v3.5M1033.0 1896.2v3.5" stroke="#555" stroke-width="1"/><text transform="translate(596.0 1915.5) scale(1 1.0)" font-size="16.3" text-anchor="middle">0</text><text transform="translate(692.0 1915.5) scale(1 1.0)" font-size="16.3" text-anchor="middle">200</text><text transform="translate(778.3 1915.5) scale(1 1.0)" font-size="16.3" text-anchor="middle">400</text><text transform="translate(865.0 1915.5) scale(1 1.0)" font-size="16.3" text-anchor="middle">600</text><text transform="translate(951.0 1915.5) scale(1 1.0)" font-size="16.3" text-anchor="middle">800</text><text transform="translate(1042.0 1915.5) scale(1 1.0)" font-size="16.3" text-anchor="middle">1000</text><text x="586" y="1948" font-size="19.6">Airn-like 1 - 60.1 %GC</text><path d="M596.4 2030.6V1974.2H597.9V1988.3H599.5V1995.3H601.1V2002.4H603.5V2002.4H604.7V2009.5H606.9V2009.5H607.2V1988.3H610.3V1988.3H611.9V1995.3H613.4V1974.2H616.5V1995.3H618.4V2023.5H619.6V2030.6H621.2V2030.6H622.5V2030.6H624.7V2030.6H625.8V2016.5H628.9V2009.5H630.5V2009.5H632.0V1988.3H635.1V1967.2H637.3V1967.2H638.2V1967.2H639.8V1981.2H642.9V2002.4H645.1V1995.3H646.0V1988.3H647.5V2002.4H650.6V1995.3H652.2V1985.5H655.3V1985.5H658.4V1985.5H660.0V1978.4H661.6V1985.5H662.9V1978.4H663.0V1995.3H664.3V2009.5H665.9V2002.4H667.2V2002.4H667.7V1988.3H669.9V1988.3H670.8V1995.3H672.1V2002.4H673.9V1995.3H675.5V1995.3H677.1V1988.3H678.4V1995.3H680.6V1995.3H682.8V1995.3H683.2V2002.4H684.8V2002.4H686.1V1995.3H686.3V1967.2H687.9V1960.1H689.4V1988.3H691.0V1995.3H693.2V1988.3H694.0V1981.2H697.1V1988.3H698.7V2002.4H700.9V2009.5H702.2V2002.4H703.3V2002.4H704.9V1995.3H706.5V1988.3H708.7V1995.3H711.8V1995.3H712.6V1988.3H713.9V1988.3H715.5V1995.3H716.8V1988.3H718.4V1995.3H719.7V1988.3H720.4V1981.2H722.6V1981.2H723.9V1988.3H726.1V1974.2H729.2V1981.2H732.3V1981.2H734.5V1974.2H735.8V1974.2H738.0V1981.2H739.0V1995.3H740.3V1995.3H741.9V1995.3H742.1V1967.2H745.2V1981.2H748.3V1981.2H751.4V1974.2H753.6V1967.2H756.0V1981.2H759.1V1967.2H762.2V1974.2H763.5V1981.2H763.8V1967.2H765.1V1967.2H767.3V1967.2H769.5V1967.2H770.8V1967.2H773.0V1960.1H775.2V1960.1H776.5V1960.1H777.8V1981.2H780.9V1981.2H784.0V1974.2H787.1V1974.2H788.7V1967.2H790.3V1974.2H792.5V1974.2H794.1V1974.2H796.3V1974.2H796.4V1962.9H797.7V1962.9H800.8V1962.9H802.4V1962.9H803.7V1960.1H805.7V1981.2H808.8V1981.2H810.1V1988.3H811.4V1981.2H814.5V1974.2H815.0V1995.3H816.6V1995.3H818.1V1988.3H819.4V1988.3H821.6V1988.3H823.8V1995.3H824.3V1981.2H825.9V1967.2H827.5V1974.2H829.1V1981.2H830.5V1967.2H832.1V1967.2H833.7V1967.2H835.0V1960.1H836.3V1967.2H836.7V1974.2H838.3V1967.2H839.8V1967.2H842.0V1967.2H843.3V1960.1H844.9V1960.1H846.0V1974.2H847.6V1974.2H849.8V1967.2H851.1V1981.2H852.2V1995.3H854.4V2002.4H855.3V1960.1H857.5V1960.1H859.1V1960.1H859.9V1988.3H862.1V1974.2H864.3V1981.2H865.6V1974.2H866.1V2002.4H867.4V2002.4H869.0V2002.4H869.2V1974.2H872.3V1988.3H875.4V2009.5H877.6V2009.5H878.5V1995.3H880.7V1995.3H881.6V1988.3H883.8V1988.3H886.9V1988.3H888.5V1988.3H891.6V1981.2H892.5V2002.4H893.8V2002.4H896.0V1995.3H897.1V1988.3H898.4V1981.2H901.5V1988.3H901.8V1967.2H903.4V1967.2H904.9V1988.3H906.5V1988.3H907.8V1988.3H908.0V1981.2H909.3V1981.2H911.1V1981.2H914.2V1988.3H915.8V1988.3H917.3V1974.2H918.9V1974.2H920.4V1962.9H921.7V1962.9H923.3V1960.1H924.6V1960.1H926.2V1962.9H926.6V1974.2H928.8V1981.2H931.9V1981.2H932.8V1995.3H935.0V1995.3H937.4V2016.5H939.6V2009.5H940.5V1960.1H941.8V1960.1H944.9V1960.1H946.7V1981.2H949.8V1981.2H951.4V1988.3H952.7V1995.3H955.8V1995.3H957.6V1960.1H958.9V1960.1H960.5V1967.2H962.2V1974.2H963.5V1981.2H966.6V1974.2H968.2V1981.2H969.5V1988.3H970.0V1967.2H973.1V1967.2H974.7V1960.1H976.2V1988.3H978.4V1981.2H980.6V1988.3H982.4V1967.2H985.5V1981.2H987.1V1995.3H989.3V1995.3H990.9V2002.4H991.7V1981.2H994.8V1988.3H996.4V1974.2H999.5V1974.2H1001.7V1981.2H1002.6V1995.3H1004.8V1995.3H1007.2V2016.5H1008.5V2009.5H1010.3V1988.3H1012.5V1988.3H1014.7V1988.3H1015.0V1967.2H1016.3V1967.2H1017.9V1967.2H1019.2V1967.2H1021.4V1967.2H1023.6V1974.2H1024.3V1988.3H1026.5V1988.3H1028.9V2002.4H1031.1V2002.4H1032.7V1995.3H1033.6V1995.3H1034.9V1988.3H1037.1V1995.3H1039.3V1995.3H1039.8V2016.5H1041.4V2002.4H1044.4V1988.3H1045.7V1988.3H1047.3V1981.2H1050.4V1988.3H1050.6V2002.4H1052.8V2002.4H1054.3V2030.6Z" fill="#231f20"/><rect x="578" y="1957.4" width="493.7" height="76.2" fill="none" stroke="#555" stroke-width="1.2"/><path d="M578.0 2030.6h-4.5M578.0 2016.5h-4.5M578.0 2002.4h-4.5M578.0 1988.3h-4.5M578.0 1974.2h-4.5M578.0 1960.1h-4.5" stroke="#555" stroke-width="1"/><path d="M597.9 2033.6v3.5M684.7 2033.6v3.5M771.8 2033.6v3.5M858.9 2033.6v3.5M946.0 2033.6v3.5M1033.0 2033.6v3.5" stroke="#555" stroke-width="1"/><text transform="translate(596.0 2052.9) scale(1 1.0)" font-size="16.3" text-anchor="middle">0</text><text transform="translate(692.0 2052.9) scale(1 1.0)" font-size="16.3" text-anchor="middle">200</text><text transform="translate(778.3 2052.9) scale(1 1.0)" font-size="16.3" text-anchor="middle">400</text><text transform="translate(865.0 2052.9) scale(1 1.0)" font-size="16.3" text-anchor="middle">600</text><text transform="translate(951.0 2052.9) scale(1 1.0)" font-size="16.3" text-anchor="middle">800</text><text transform="translate(1042.0 2052.9) scale(1 1.0)" font-size="16.3" text-anchor="middle">1000</text><text x="586" y="2088.5" font-size="19.6">Airn-like 2 - 60.7 %GC</text><path d="M594.2 2171.2V2128.7H595.5V2128.7H596.4V2114.6H599.5V2121.6H602.6V2107.5H603.9V2114.6H604.1V2114.6H605.7V2114.6H607.0V2114.6H608.6V2121.6H608.8V2135.8H611.9V2150.0H613.5V2150.0H614.8V2150.0H616.1V2150.0H616.5V2157.0H617.8V2157.0H619.6V2128.7H622.7V2142.9H625.8V2150.0H627.1V2142.9H627.4V2121.6H629.6V2121.6H631.8V2121.6H632.0V2107.5H634.2V2100.4H635.8V2100.4H637.1V2107.5H638.2V2128.7H639.8V2135.8H642.0V2128.7H642.9V2150.0H644.5V2150.0H646.0V2121.6H647.3V2121.6H649.1V2135.8H650.7V2135.8H652.2V2128.7H655.3V2128.7H656.6V2121.6H658.2V2121.6H659.5V2128.7H659.9V2142.9H661.5V2135.8H662.8V2142.9H664.1V2135.8H664.6V2135.8H666.8V2128.7H668.1V2121.6H669.2V2121.6H670.8V2107.5H672.1V2114.6H673.4V2114.6H675.4V2121.6H677.0V2128.7H678.6V2128.7H680.1V2157.0H681.4V2150.0H683.2V2135.8H685.4V2135.8H688.5V2135.8H689.4V2142.9H690.7V2142.9H692.0V2142.9H693.3V2142.9H694.0V2150.0H695.3V2142.9H697.1V2135.8H698.4V2135.8H700.6V2128.7H701.8V2107.5H704.9V2114.6H706.4V2121.6H708.6V2121.6H710.8V2121.6H712.4V2121.6H714.0V2121.6H715.6V2121.6H716.9V2121.6H717.3V2135.8H718.6V2128.7H720.8V2135.8H721.9V2150.0H723.2V2150.0H724.5V2150.0H725.0V2157.0H726.6V2157.0H728.2V2157.0H729.7V2150.0H731.0V2150.0H731.2V2135.8H734.3V2128.7H736.5V2135.8H739.6V2135.8H740.5V2128.7H742.1V2128.7H743.7V2128.7H745.9V2128.7H747.5V2128.7H749.1V2121.6H749.8V2135.8H752.0V2135.8H754.2V2128.7H754.5V2128.7H755.8V2121.6H757.4V2121.6H759.1V2114.6H762.2V2114.6H763.5V2114.6H763.8V2128.7H766.9V2128.7H768.2V2128.7H771.3V2128.7H773.1V2128.7H774.7V2114.6H777.8V2121.6H779.4V2121.6H780.9V2128.7H784.0V2128.7H785.6V2128.7H786.9V2135.8H787.1V2121.6H788.4V2121.6H790.0V2128.7H791.6V2121.6H793.3V2114.6H794.6V2114.6H797.7V2114.6H799.3V2114.6H801.5V2114.6H804.6V2107.5H805.9V2107.5H807.2V2128.7H808.8V2128.7H810.1V2128.7H813.2V2128.7H813.4V2114.6H815.6V2114.6H818.1V2135.8H821.2V2128.7H822.8V2128.7H824.1V2128.7H825.8V2100.4H828.0V2100.4H828.9V2107.5H830.2V2107.5H833.3V2107.5H835.1V2128.7H836.4V2121.6H839.5V2121.6H841.1V2121.6H841.3V2107.5H842.9V2114.6H844.2V2114.6H845.8V2114.6H846.0V2100.4H847.6V2100.4H850.7V2100.4H852.2V2128.7H853.8V2128.7H855.3V2142.9H856.9V2142.9H858.4V2121.6H861.5V2114.6H864.6V2121.6H866.8V2121.6H869.0V2121.6H872.1V2121.6H873.4V2114.6H873.9V2107.5H876.1V2100.4H877.4V2107.5H879.6V2107.5H880.1V2128.7H882.3V2128.7H883.2V2114.6H884.8V2121.6H887.0V2114.6H887.8V2142.9H889.4V2135.8H892.5V2128.7H894.1V2121.6H897.1V2135.8H898.7V2135.8H900.0V2142.9H902.2V2135.8H903.3V2114.6H906.4V2128.7H907.7V2128.7H909.9V2128.7H911.1V2121.6H912.4V2121.6H914.0V2121.6H914.2V2121.6H915.5V2128.7H917.7V2128.7H920.8V2128.7H923.5V2107.5H926.6V2128.7H927.9V2121.6H930.1V2114.6H931.2V2142.9H932.5V2142.9H934.3V2107.5H935.6V2107.5H938.7V2100.4H939.0V2128.7H942.1V2121.6H943.6V2114.6H945.8V2114.6H946.7V2100.4H948.9V2100.4H950.2V2100.4H952.4V2100.4H952.9V2114.6H955.1V2114.6H957.3V2114.6H957.6V2135.8H959.8V2121.6H962.0V2128.7H962.2V2135.8H963.5V2135.8H966.6V2135.8H966.9V2121.6H968.2V2128.7H969.8V2128.7H972.9V2128.7H973.1V2114.6H976.2V2121.6H977.5V2114.6H977.8V2121.6H979.4V2128.7H981.0V2128.7H982.4V2135.8H983.7V2135.8H985.3V2135.8H987.1V2121.6H988.7V2114.6H990.9V2121.6H992.2V2121.6H993.5V2121.6H994.8V2114.6H997.9V2114.6H999.2V2114.6H999.5V2128.7H1002.6V2128.7H1003.9V2128.7H1005.5V2128.7H1005.7V2142.9H1007.0V2142.9H1008.3V2150.0H1009.6V2135.8H1010.3V2135.8H1011.6V2135.8H1013.2V2135.8H1014.8V2135.8H1015.0V2121.6H1016.6V2121.6H1017.9V2121.6H1019.6V2114.6H1021.8V2114.6H1023.1V2107.5H1024.3V2121.6H1025.6V2121.6H1027.8V2121.6H1029.4V2121.6H1032.5V2121.6H1034.7V2121.6H1037.8V2114.6H1039.4V2121.6H1039.8V2114.6H1041.4V2114.6H1042.9V2107.5H1046.0V2107.5H1047.5V2114.6H1048.8V2114.6H1051.0V2114.6H1052.2V2171.2Z" fill="#231f20"/><rect x="576.6" y="2097.7" width="493.4" height="76.5" fill="none" stroke="#555" stroke-width="1.2"/><path d="M576.6 2171.2h-4.5M576.6 2157.0h-4.5M576.6 2142.9h-4.5M576.6 2128.7h-4.5M576.6 2114.6h-4.5M576.6 2100.4h-4.5" stroke="#555" stroke-width="1"/><path d="M597.9 2174.2v3.5M684.7 2174.2v3.5M771.8 2174.2v3.5M858.9 2174.2v3.5M946.0 2174.2v3.5M1033.0 2174.2v3.5" stroke="#555" stroke-width="1"/><text transform="translate(596.0 2193.5) scale(1 1.0)" font-size="16.3" text-anchor="middle">0</text><text transform="translate(692.0 2193.5) scale(1 1.0)" font-size="16.3" text-anchor="middle">200</text><text transform="translate(778.3 2193.5) scale(1 1.0)" font-size="16.3" text-anchor="middle">400</text><text transform="translate(865.0 2193.5) scale(1 1.0)" font-size="16.3" text-anchor="middle">600</text><text transform="translate(951.0 2193.5) scale(1 1.0)" font-size="16.3" text-anchor="middle">800</text><text transform="translate(1042.0 2193.5) scale(1 1.0)" font-size="16.3" text-anchor="middle">1000</text><text x="586" y="2225.7" font-size="19.6">Airn-like 3 - 63.8 %GC</text><path d="M594.2 2310.0V2260.7H596.4V2260.7H597.9V2274.8H601.0V2274.8H602.6V2274.8H604.1V2260.7H606.3V2253.6H606.6V2246.6H607.9V2246.6H608.8V2260.7H610.4V2260.7H613.4V2274.8H614.7V2274.8H617.8V2274.8H618.1V2260.7H619.7V2260.7H621.0V2260.7H621.2V2267.7H623.4V2267.7H624.7V2267.7H627.8V2267.7H630.0V2267.7H630.5V2260.7H632.7V2260.7H633.6V2281.8H635.2V2267.7H635.7V2295.9H637.6V2281.8H639.8V2267.7H641.4V2260.7H644.4V2253.6H645.7V2253.6H647.5V2246.6H649.1V2246.6H650.0V2274.8H651.3V2281.8H652.9V2281.8H653.1V2260.7H654.7V2260.7H656.8V2246.6H659.9V2253.6H661.5V2260.7H662.8V2260.7H664.4V2253.6H664.6V2253.6H666.8V2253.6H669.9V2253.6H671.2V2253.6H674.3V2260.7H675.6V2253.6H677.2V2260.7H680.1V2260.7H681.7V2260.7H683.3V2253.6H684.7V2267.7H686.9V2267.7H688.2V2267.7H689.4V2288.8H690.7V2274.8H692.5V2267.7H694.1V2267.7H695.4V2267.7H697.1V2274.8H700.2V2267.7H701.5V2274.8H703.7V2267.7H704.9V2246.6H708.0V2253.6H709.5V2274.8H710.8V2274.8H712.4V2274.8H712.6V2288.8H714.2V2295.9H715.7V2288.8H717.3V2288.8H718.6V2288.8H720.4V2281.8H721.7V2281.8H723.5V2288.8H725.1V2281.8H726.6V2267.7H728.2V2267.7H729.7V2260.7H731.3V2260.7H732.9V2267.7H735.9V2246.6H737.2V2246.6H739.4V2246.6H740.5V2260.7H741.8V2253.6H743.6V2267.7H744.9V2267.7H746.5V2260.7H748.3V2260.7H749.9V2260.7H753.0V2260.7H754.6V2260.7H755.9V2260.7H759.0V2260.7H759.1V2239.5H761.3V2246.6H762.2V2260.7H764.4V2253.6H766.9V2260.7H769.1V2246.6H772.2V2260.7H774.7V2239.5H776.3V2246.6H777.9V2246.6H779.3V2274.8H780.9V2274.8H782.2V2274.8H782.4V2260.7H784.0V2253.6H785.6V2246.6H787.1V2267.7H790.2V2267.7H791.5V2267.7H793.3V2253.6H796.4V2260.7H799.5V2253.6H802.6V2267.7H804.8V2253.6H805.7V2239.5H807.9V2239.5H809.2V2239.5H809.4V2253.6H810.7V2260.7H812.3V2260.7H814.5V2260.7H815.0V2253.6H816.3V2253.6H817.6V2253.6H818.1V2267.7H819.4V2260.7H821.0V2274.8H821.2V2253.6H822.8V2267.7H825.0V2253.6H826.3V2260.7H827.4V2267.7H830.5V2239.5H833.6V2253.6H834.9V2253.6H836.2V2253.6H839.3V2246.6H839.8V2246.6H841.1V2246.6H842.7V2246.6H844.3V2246.6H844.4V2260.7H847.5V2260.7H849.1V2246.6H850.4V2246.6H853.5V2246.6H853.7V2239.5H855.0V2239.5H855.3V2260.7H857.5V2260.7H859.7V2260.7H859.9V2253.6H861.5V2260.7H863.7V2253.6H866.1V2260.7H867.4V2253.6H869.0V2267.7H870.8V2274.8H872.1V2267.7H875.2V2267.7H875.4V2246.6H876.7V2253.6H878.5V2260.7H880.7V2260.7H882.0V2253.6H883.2V2267.7H884.5V2267.7H885.8V2267.7H886.3V2246.6H887.9V2246.6H889.4V2274.8H891.0V2274.8H892.6V2274.8H894.0V2302.9H896.2V2295.9H897.5V2295.9H898.7V2274.8H900.3V2274.8H901.9V2274.8H903.3V2253.6H905.5V2253.6H908.0V2267.7H909.3V2267.7H910.9V2260.7H914.0V2253.6H917.1V2253.6H919.3V2260.7H920.9V2260.7H923.1V2260.7H923.5V2274.8H925.1V2267.7H926.4V2274.8H927.7V2274.8H928.1V2253.6H929.4V2253.6H932.5V2253.6H933.8V2253.6H934.3V2239.5H936.5V2246.6H937.4V2267.7H939.6V2267.7H940.5V2253.6H943.6V2253.6H945.2V2267.7H946.5V2274.8H947.8V2274.8H948.3V2281.8H950.5V2281.8H951.8V2281.8H952.9V2260.7H955.1V2260.7H957.3V2260.7H957.6V2253.6H958.9V2253.6H960.7V2246.6H962.9V2239.5H965.1V2239.5H965.3V2246.6H966.9V2253.6H969.1V2253.6H970.0V2260.7H971.6V2253.6H972.9V2260.7H973.1V2274.8H976.2V2274.8H977.8V2260.7H980.9V2267.7H984.0V2239.5H986.2V2246.6H987.1V2267.7H988.4V2260.7H990.0V2267.7H992.2V2267.7H993.3V2260.7H996.4V2260.7H999.5V2260.7H1001.0V2246.6H1002.3V2253.6H1004.5V2253.6H1005.8V2246.6H1007.4V2253.6H1009.6V2253.6H1012.7V2253.6H1013.4V2260.7H1015.0V2260.7H1016.5V2267.7H1017.8V2267.7H1019.1V2267.7H1020.4V2267.7H1021.2V2253.6H1023.4V2253.6H1024.3V2239.5H1027.4V2260.7H1028.7V2253.6H1030.3V2260.7H1032.0V2267.7H1033.6V2267.7H1035.1V2267.7H1036.7V2267.7H1038.0V2267.7H1039.3V2274.8H1039.8V2267.7H1042.9V2260.7H1044.2V2253.6H1046.4V2260.7H1047.5V2246.6H1049.1V2253.6H1050.0V2267.7H1051.3V2267.7H1052.2V2310.0Z" fill="#231f20"/><rect x="576.6" y="2236.8" width="493.4" height="76.2" fill="none" stroke="#555" stroke-width="1.2"/><path d="M576.6 2310.0h-4.5M576.6 2295.9h-4.5M576.6 2281.8h-4.5M576.6 2267.7h-4.5M576.6 2253.6h-4.5M576.6 2239.5h-4.5" stroke="#555" stroke-width="1"/><path d="M597.9 2313.0v3.5M684.7 2313.0v3.5M771.8 2313.0v3.5M858.9 2313.0v3.5M946.0 2313.0v3.5M1033.0 2313.0v3.5" stroke="#555" stroke-width="1"/><text transform="translate(596.0 2332.3) scale(1 1.0)" font-size="16.3" text-anchor="middle">0</text><text transform="translate(692.0 2332.3) scale(1 1.0)" font-size="16.3" text-anchor="middle">200</text><text transform="translate(778.3 2332.3) scale(1 1.0)" font-size="16.3" text-anchor="middle">400</text><text transform="translate(865.0 2332.3) scale(1 1.0)" font-size="16.3" text-anchor="middle">600</text><text transform="translate(951.0 2332.3) scale(1 1.0)" font-size="16.3" text-anchor="middle">800</text><text transform="translate(1042.0 2332.3) scale(1 1.0)" font-size="16.3" text-anchor="middle">1000</text><text x="586" y="2366" font-size="19.6">Airn-like 4 - 60.6 %GC</text><path d="M594.2 2450.0V2407.1H595.5V2414.2H597.9V2407.1H599.2V2414.2H600.8V2399.9H601.0V2399.9H602.6V2399.9H604.1V2414.2H606.3V2414.2H607.2V2414.2H608.5V2407.1H610.3V2392.8H611.9V2378.5H613.4V2378.5H616.5V2378.5H618.1V2385.7H619.6V2392.8H621.2V2399.9H622.7V2378.5H624.9V2385.7H627.4V2399.9H628.7V2399.9H631.8V2399.9H632.0V2414.2H635.1V2392.8H636.7V2392.8H639.8V2421.4H641.1V2428.6H642.7V2414.2H642.9V2392.8H645.1V2392.8H646.7V2392.8H647.5V2392.8H649.1V2407.1H651.3V2399.9H652.2V2421.4H653.8V2421.4H655.3V2407.1H656.9V2407.1H658.4V2399.9H660.6V2399.9H663.7V2399.9H664.6V2392.8H667.7V2385.7H669.2V2407.1H670.5V2407.1H671.8V2407.1H673.9V2407.1H677.0V2392.8H678.6V2392.8H681.0V2385.7H682.6V2385.7H683.2V2407.1H684.5V2414.2H686.7V2421.4H687.8V2414.2H690.0V2414.2H690.9V2407.1H694.0V2392.8H697.1V2392.8H698.7V2399.9H700.3V2392.8H701.8V2392.8H704.0V2392.8H704.9V2421.4H708.0V2421.4H711.1V2385.7H712.4V2378.5H713.7V2378.5H714.2V2392.8H715.5V2392.8H717.1V2385.7H717.3V2399.9H718.6V2399.9H720.2V2399.9H721.8V2399.9H724.0V2399.9H726.2V2399.9H726.6V2407.1H728.8V2407.1H729.7V2392.8H731.0V2407.1H732.8V2385.7H735.0V2385.7H735.9V2399.9H739.0V2385.7H740.6V2385.7H741.9V2385.7H742.1V2399.9H744.3V2399.9H745.2V2407.1H746.8V2407.1H748.4V2399.9H750.0V2399.9H752.2V2407.1H752.9V2414.2H754.5V2414.2H756.0V2421.4H757.6V2414.2H760.7V2414.2H762.2V2435.7H765.3V2435.7H766.9V2428.6H768.2V2421.4H771.3V2428.6H771.6V2435.7H773.2V2435.7H774.7V2442.8H776.3V2442.8H777.6V2442.8H777.8V2435.7H779.4V2435.7H780.9V2414.2H784.0V2399.9H785.3V2399.9H786.6V2392.8H787.1V2385.7H789.3V2385.7H790.2V2392.8H793.3V2399.9H794.9V2399.9H798.0V2392.8H800.2V2392.8H801.5V2399.9H802.6V2385.7H805.7V2385.7H807.9V2378.5H810.1V2385.7H810.3V2385.7H813.4V2378.5H815.0V2385.7H816.3V2385.7H818.1V2399.9H819.4V2399.9H820.7V2407.1H821.2V2392.8H823.4V2385.7H825.0V2392.8H825.8V2414.2H828.0V2414.2H830.2V2407.1H830.5V2385.7H832.7V2392.8H834.9V2378.5H835.1V2399.9H838.2V2399.9H839.8V2414.2H842.9V2392.8H845.1V2385.7H846.0V2399.9H847.6V2407.1H850.6V2385.7H853.7V2392.8H855.0V2399.9H855.3V2392.8H857.5V2392.8H860.6V2399.9H861.9V2399.9H865.0V2399.9H866.1V2414.2H867.7V2414.2H869.3V2414.2H870.6V2414.2H870.8V2428.6H873.9V2421.4H876.1V2421.4H877.0V2399.9H878.6V2399.9H879.9V2399.9H880.1V2414.2H882.3V2414.2H883.2V2407.1H886.3V2407.1H889.4V2421.4H891.0V2421.4H892.5V2414.2H893.8V2414.2H895.4V2414.2H898.5V2414.2H898.7V2407.1H900.9V2407.1H901.8V2399.9H903.4V2399.9H906.4V2421.4H908.0V2414.2H909.6V2421.4H910.9V2414.2H911.1V2392.8H912.7V2392.8H914.9V2392.8H915.7V2407.1H917.3V2407.1H918.6V2407.1H918.8V2385.7H920.1V2385.7H921.7V2385.7H921.9V2399.9H923.2V2399.9H925.0V2407.1H926.6V2399.9H927.9V2407.1H929.2V2407.1H930.5V2407.1H931.2V2414.2H932.8V2414.2H934.1V2414.2H935.9V2407.1H937.2V2407.1H938.8V2399.9H941.0V2407.1H943.2V2407.1H944.5V2414.2H945.8V2407.1H948.0V2407.1H948.3V2385.7H950.5V2392.8H951.4V2399.9H952.7V2414.2H954.3V2407.1H955.9V2407.1H956.0V2392.8H959.1V2399.9H960.4V2399.9H960.7V2407.1H962.3V2414.2H964.5V2414.2H966.9V2399.9H969.1V2399.9H970.0V2414.2H971.3V2421.4H972.9V2421.4H974.7V2399.9H976.0V2407.1H979.1V2407.1H979.3V2392.8H982.4V2407.1H983.7V2407.1H985.3V2407.1H986.9V2414.2H987.1V2385.7H989.3V2385.7H991.5V2385.7H993.3V2385.7H995.5V2392.8H997.9V2428.6H999.2V2421.4H1000.5V2421.4H1002.1V2414.2H1002.6V2392.8H1004.8V2392.8H1006.4V2392.8H1007.2V2399.9H1008.5V2399.9H1011.6V2399.9H1011.9V2407.1H1014.1V2407.1H1015.7V2407.1H1016.5V2421.4H1018.7V2421.4H1019.6V2407.1H1021.2V2407.1H1022.7V2385.7H1024.9V2385.7H1025.8V2399.9H1027.4V2392.8H1029.6V2392.8H1030.5V2392.8H1033.6V2392.8H1035.1V2407.1H1037.3V2399.9H1038.6V2414.2H1040.8V2399.9H1043.0V2407.1H1044.4V2414.2H1045.7V2414.2H1047.5V2421.4H1050.6V2421.4H1052.2V2450.0Z" fill="#231f20"/><rect x="576.6" y="2375.8" width="493.4" height="77.2" fill="none" stroke="#555" stroke-width="1.2"/><path d="M576.6 2450.0h-4.5M576.6 2435.7h-4.5M576.6 2421.4h-4.5M576.6 2407.1h-4.5M576.6 2392.8h-4.5M576.6 2378.5h-4.5" stroke="#555" stroke-width="1"/><path d="M595.0 2453.0v3.5M687.5 2453.0v3.5M780.0 2453.0v3.5M872.5 2453.0v3.5M965.0 2453.0v3.5M1057.5 2453.0v3.5" stroke="#555" stroke-width="1"/><text transform="translate(594.5 2472.3) scale(1 1.0)" font-size="16.3" text-anchor="middle">0</text><text transform="translate(695.0 2472.3) scale(1 1.0)" font-size="16.3" text-anchor="middle">200</text><text transform="translate(785.8 2472.3) scale(1 1.0)" font-size="16.3" text-anchor="middle">400</text><text transform="translate(877.0 2472.3) scale(1 1.0)" font-size="16.3" text-anchor="middle">600</text><text transform="translate(968.0 2472.3) scale(1 1.0)" font-size="16.3" text-anchor="middle">800</text><text transform="translate(1064.3 2472.3) scale(1 1.0)" font-size="16.3" text-anchor="middle">1000</text><text x="1124.0" y="1798.0" font-size="21" font-weight="bold">e)</text><text x="1374.3" y="1801" font-size="17.5" text-anchor="middle"><tspan font-style="italic">Airn</tspan>-like 1</text><text x="1610.9" y="1801" font-size="17.5" text-anchor="middle"><tspan font-style="italic">Airn</tspan>-like 2</text><text x="1373.7" y="2043.7" font-size="17.5" text-anchor="middle"><tspan font-style="italic">Airn</tspan>-like 3</text><text x="1609.0" y="2043.7" font-size="17.5" text-anchor="middle"><tspan font-style="italic">Airn</tspan>-like 4</text><g fill="#fff" stroke="#222" stroke-width="0.85"><circle cx="1283.6" cy="1815.0" r="4.75"/><circle cx="1293.9" cy="1815.0" r="4.75"/><circle cx="1304.2" cy="1815.0" r="4.75"/><circle cx="1314.4" cy="1815.0" r="4.75"/><circle cx="1324.7" cy="1815.0" r="4.75"/><circle cx="1335.0" cy="1815.0" r="4.75"/><circle cx="1345.3" cy="1815.0" r="4.75"/><circle cx="1355.6" cy="1815.0" r="4.75"/><circle cx="1365.8" cy="1815.0" r="4.75"/><circle cx="1283.6" cy="1825.2" r="4.75"/><circle cx="1293.9" cy="1825.2" r="4.75"/><circle cx="1304.2" cy="1825.2" r="4.75"/><circle cx="1314.4" cy="1825.2" r="4.75"/><circle cx="1324.7" cy="1825.2" r="4.75"/><circle cx="1335.0" cy="1825.2" r="4.75"/><circle cx="1345.3" cy="1825.2" r="4.75"/><circle cx="1355.6" cy="1825.2" r="4.75"/><circle cx="1365.8" cy="1825.2" r="4.75"/><circle cx="1283.6" cy="1835.5" r="4.75"/><circle cx="1293.9" cy="1835.5" r="4.75"/><circle cx="1304.2" cy="1835.5" r="4.75"/><circle cx="1314.4" cy="1835.5" r="4.75"/><circle cx="1324.7" cy="1835.5" r="4.75"/><circle cx="1335.0" cy="1835.5" r="4.75"/><circle cx="1345.3" cy="1835.5" r="4.75"/><circle cx="1355.6" cy="1835.5" r="4.75"/><circle cx="1365.8" cy="1835.5" r="4.75"/><circle cx="1283.6" cy="1845.7" r="4.75"/><circle cx="1293.9" cy="1845.7" r="4.75"/><circle cx="1304.2" cy="1845.7" r="4.75"/><circle cx="1314.4" cy="1845.7" r="4.75"/><circle cx="1324.7" cy="1845.7" r="4.75"/><circle cx="1335.0" cy="1845.7" r="4.75"/><circle cx="1345.3" cy="1845.7" r="4.75"/><circle cx="1355.6" cy="1845.7" r="4.75"/><circle cx="1365.8" cy="1845.7" r="4.75"/><circle cx="1283.6" cy="1855.9" r="4.75"/><circle cx="1293.9" cy="1855.9" r="4.75"/><circle cx="1304.2" cy="1855.9" r="4.75"/><circle cx="1314.4" cy="1855.9" r="4.75"/><circle cx="1324.7" cy="1855.9" r="4.75"/><circle cx="1335.0" cy="1855.9" r="4.75"/><circle cx="1355.6" cy="1855.9" r="4.75"/><circle cx="1365.8" cy="1855.9" r="4.75"/><circle cx="1335.0" cy="1866.2" r="4.75"/><circle cx="1345.3" cy="1866.2" r="4.75"/><circle cx="1355.6" cy="1866.2" r="4.75"/><circle cx="1365.8" cy="1866.2" r="4.75"/><circle cx="1324.7" cy="1876.4" r="4.75"/><circle cx="1335.0" cy="1876.4" r="4.75"/><circle cx="1345.3" cy="1876.4" r="4.75"/><circle cx="1355.6" cy="1876.4" r="4.75"/><circle cx="1365.8" cy="1876.4" r="4.75"/></g><g fill="#000"></g><path d="M1342.1 1852.7L1348.5 1859.1M1348.5 1852.7L1342.1 1859.1M1280.4 1863.0L1286.8 1869.4M1286.8 1863.0L1280.4 1869.4M1290.7 1863.0L1297.1 1869.4M1297.1 1863.0L1290.7 1869.4M1301.0 1863.0L1307.4 1869.4M1307.4 1863.0L1301.0 1869.4M1311.2 1863.0L1317.6 1869.4M1317.6 1863.0L1311.2 1869.4M1321.5 1863.0L1327.9 1869.4M1327.9 1863.0L1321.5 1869.4M1280.4 1873.2L1286.8 1879.6M1286.8 1873.2L1280.4 1879.6M1290.7 1873.2L1297.1 1879.6M1297.1 1873.2L1290.7 1879.6M1301.0 1873.2L1307.4 1879.6M1307.4 1873.2L1301.0 1879.6M1311.2 1873.2L1317.6 1879.6M1317.6 1873.2L1311.2 1879.6" stroke="#000" stroke-width="1.7"/><g fill="#fff" stroke="#222" stroke-width="0.85"><circle cx="1398.7" cy="1815.0" r="4.75"/><circle cx="1409.0" cy="1815.0" r="4.75"/><circle cx="1419.4" cy="1815.0" r="4.75"/><circle cx="1429.7" cy="1815.0" r="4.75"/><circle cx="1440.0" cy="1815.0" r="4.75"/><circle cx="1450.4" cy="1815.0" r="4.75"/><circle cx="1460.7" cy="1815.0" r="4.75"/><circle cx="1471.0" cy="1815.0" r="4.75"/><circle cx="1481.3" cy="1815.0" r="4.75"/><circle cx="1398.7" cy="1825.2" r="4.75"/><circle cx="1409.0" cy="1825.2" r="4.75"/><circle cx="1419.4" cy="1825.2" r="4.75"/><circle cx="1429.7" cy="1825.2" r="4.75"/><circle cx="1440.0" cy="1825.2" r="4.75"/><circle cx="1450.4" cy="1825.2" r="4.75"/><circle cx="1460.7" cy="1825.2" r="4.75"/><circle cx="1471.0" cy="1825.2" r="4.75"/><circle cx="1481.3" cy="1825.2" r="4.75"/><circle cx="1398.7" cy="1835.5" r="4.75"/><circle cx="1409.0" cy="1835.5" r="4.75"/><circle cx="1419.4" cy="1835.5" r="4.75"/><circle cx="1429.7" cy="1835.5" r="4.75"/><circle cx="1440.0" cy="1835.5" r="4.75"/><circle cx="1450.4" cy="1835.5" r="4.75"/><circle cx="1460.7" cy="1835.5" r="4.75"/><circle cx="1471.0" cy="1835.5" r="4.75"/><circle cx="1481.3" cy="1835.5" r="4.75"/><circle cx="1398.7" cy="1845.8" r="4.75"/><circle cx="1409.0" cy="1845.8" r="4.75"/><circle cx="1419.4" cy="1845.8" r="4.75"/><circle cx="1429.7" cy="1845.8" r="4.75"/><circle cx="1440.0" cy="1845.8" r="4.75"/><circle cx="1450.4" cy="1845.8" r="4.75"/><circle cx="1460.7" cy="1845.8" r="4.75"/><circle cx="1471.0" cy="1845.8" r="4.75"/><circle cx="1481.3" cy="1845.8" r="4.75"/><circle cx="1398.7" cy="1856.0" r="4.75"/><circle cx="1409.0" cy="1856.0" r="4.75"/><circle cx="1419.4" cy="1856.0" r="4.75"/><circle cx="1429.7" cy="1856.0" r="4.75"/><circle cx="1440.0" cy="1856.0" r="4.75"/><circle cx="1450.4" cy="1856.0" r="4.75"/><circle cx="1460.7" cy="1856.0" r="4.75"/><circle cx="1471.0" cy="1856.0" r="4.75"/><circle cx="1481.3" cy="1856.0" r="4.75"/><circle cx="1398.7" cy="1866.2" r="4.75"/><circle cx="1409.0" cy="1866.2" r="4.75"/><circle cx="1419.4" cy="1866.2" r="4.75"/><circle cx="1429.7" cy="1866.2" r="4.75"/><circle cx="1440.0" cy="1866.2" r="4.75"/><circle cx="1450.4" cy="1866.2" r="4.75"/><circle cx="1460.7" cy="1866.2" r="4.75"/><circle cx="1471.0" cy="1866.2" r="4.75"/><circle cx="1481.3" cy="1866.2" r="4.75"/><circle cx="1398.7" cy="1876.5" r="4.75"/><circle cx="1409.0" cy="1876.5" r="4.75"/><circle cx="1419.4" cy="1876.5" r="4.75"/><circle cx="1429.7" cy="1876.5" r="4.75"/><circle cx="1440.0" cy="1876.5" r="4.75"/><circle cx="1450.4" cy="1876.5" r="4.75"/><circle cx="1460.7" cy="1876.5" r="4.75"/><circle cx="1471.0" cy="1876.5" r="4.75"/><circle cx="1481.3" cy="1876.5" r="4.75"/><circle cx="1398.7" cy="1886.8" r="4.75"/><circle cx="1409.0" cy="1886.8" r="4.75"/><circle cx="1419.4" cy="1886.8" r="4.75"/><circle cx="1429.7" cy="1886.8" r="4.75"/><circle cx="1440.0" cy="1886.8" r="4.75"/><circle cx="1450.4" cy="1886.8" r="4.75"/><circle cx="1460.7" cy="1886.8" r="4.75"/><circle cx="1471.0" cy="1886.8" r="4.75"/><circle cx="1481.3" cy="1886.8" r="4.75"/><circle cx="1398.7" cy="1897.0" r="4.75"/><circle cx="1409.0" cy="1897.0" r="4.75"/><circle cx="1419.4" cy="1897.0" r="4.75"/><circle cx="1429.7" cy="1897.0" r="4.75"/><circle cx="1440.0" cy="1897.0" r="4.75"/><circle cx="1450.4" cy="1897.0" r="4.75"/><circle cx="1460.7" cy="1897.0" r="4.75"/><circle cx="1471.0" cy="1897.0" r="4.75"/><circle cx="1481.3" cy="1897.0" r="4.75"/></g><g fill="#000"></g><g fill="#fff" stroke="#222" stroke-width="0.85"><circle cx="1283.6" cy="1923.1" r="4.75"/><circle cx="1293.9" cy="1923.1" r="4.75"/><circle cx="1304.2" cy="1923.1" r="4.75"/><circle cx="1314.4" cy="1923.1" r="4.75"/><circle cx="1324.7" cy="1923.1" r="4.75"/><circle cx="1335.0" cy="1923.1" r="4.75"/><circle cx="1345.3" cy="1923.1" r="4.75"/><circle cx="1355.6" cy="1923.1" r="4.75"/><circle cx="1365.8" cy="1923.1" r="4.75"/><circle cx="1283.6" cy="1933.3" r="4.75"/><circle cx="1293.9" cy="1933.3" r="4.75"/><circle cx="1304.2" cy="1933.3" r="4.75"/><circle cx="1314.4" cy="1933.3" r="4.75"/><circle cx="1324.7" cy="1933.3" r="4.75"/><circle cx="1335.0" cy="1933.3" r="4.75"/><circle cx="1345.3" cy="1933.3" r="4.75"/><circle cx="1355.6" cy="1933.3" r="4.75"/><circle cx="1365.8" cy="1933.3" r="4.75"/><circle cx="1283.6" cy="1943.5" r="4.75"/><circle cx="1293.9" cy="1943.5" r="4.75"/><circle cx="1304.2" cy="1943.5" r="4.75"/><circle cx="1314.4" cy="1943.5" r="4.75"/><circle cx="1335.0" cy="1943.5" r="4.75"/><circle cx="1345.3" cy="1943.5" r="4.75"/><circle cx="1355.6" cy="1943.5" r="4.75"/><circle cx="1365.8" cy="1943.5" r="4.75"/><circle cx="1283.6" cy="1953.8" r="4.75"/><circle cx="1293.9" cy="1953.8" r="4.75"/><circle cx="1304.2" cy="1953.8" r="4.75"/><circle cx="1314.4" cy="1953.8" r="4.75"/><circle cx="1335.0" cy="1953.8" r="4.75"/><circle cx="1345.3" cy="1953.8" r="4.75"/><circle cx="1355.6" cy="1953.8" r="4.75"/><circle cx="1365.8" cy="1953.8" r="4.75"/><circle cx="1283.6" cy="1964.0" r="4.75"/><circle cx="1293.9" cy="1964.0" r="4.75"/><circle cx="1304.2" cy="1964.0" r="4.75"/><circle cx="1314.4" cy="1964.0" r="4.75"/><circle cx="1335.0" cy="1964.0" r="4.75"/><circle cx="1345.3" cy="1964.0" r="4.75"/><circle cx="1355.6" cy="1964.0" r="4.75"/><circle cx="1365.8" cy="1964.0" r="4.75"/><circle cx="1283.6" cy="1974.2" r="4.75"/><circle cx="1293.9" cy="1974.2" r="4.75"/><circle cx="1304.2" cy="1974.2" r="4.75"/><circle cx="1314.4" cy="1974.2" r="4.75"/><circle cx="1335.0" cy="1974.2" r="4.75"/><circle cx="1345.3" cy="1974.2" r="4.75"/><circle cx="1355.6" cy="1974.2" r="4.75"/><circle cx="1365.8" cy="1974.2" r="4.75"/><circle cx="1283.6" cy="1984.4" r="4.75"/><circle cx="1293.9" cy="1984.4" r="4.75"/><circle cx="1304.2" cy="1984.4" r="4.75"/><circle cx="1314.4" cy="1984.4" r="4.75"/><circle cx="1335.0" cy="1984.4" r="4.75"/><circle cx="1355.6" cy="1984.4" r="4.75"/><circle cx="1365.8" cy="1984.4" r="4.75"/><circle cx="1283.6" cy="1994.6" r="4.75"/><circle cx="1293.9" cy="1994.6" r="4.75"/><circle cx="1304.2" cy="1994.6" r="4.75"/><circle cx="1314.4" cy="1994.6" r="4.75"/><circle cx="1324.7" cy="1994.6" r="4.75"/><circle cx="1283.6" cy="2004.9" r="4.75"/><circle cx="1293.9" cy="2004.9" r="4.75"/><circle cx="1304.2" cy="2004.9" r="4.75"/><circle cx="1314.4" cy="2004.9" r="4.75"/></g><g fill="#000"><circle cx="1324.7" cy="1943.5" r="4.75"/><circle cx="1324.7" cy="1953.8" r="4.75"/><circle cx="1324.7" cy="1964.0" r="4.75"/><circle cx="1324.7" cy="1974.2" r="4.75"/><circle cx="1324.7" cy="1984.4" r="4.75"/><circle cx="1324.7" cy="2004.9" r="4.75"/></g><path d="M1342.1 1981.2L1348.5 1987.6M1348.5 1981.2L1342.1 1987.6M1331.8 1991.4L1338.2 1997.8M1338.2 1991.4L1331.8 1997.8M1342.1 1991.4L1348.5 1997.8M1348.5 1991.4L1342.1 1997.8M1352.4 1991.4L1358.8 1997.8M1358.8 1991.4L1352.4 1997.8M1362.6 1991.4L1369.0 1997.8M1369.0 1991.4L1362.6 1997.8M1331.8 2001.7L1338.2 2008.1M1338.2 2001.7L1331.8 2008.1M1342.1 2001.7L1348.5 2008.1M1348.5 2001.7L1342.1 2008.1M1352.4 2001.7L1358.8 2008.1M1358.8 2001.7L1352.4 2008.1M1362.6 2001.7L1369.0 2008.1M1369.0 2001.7L1362.6 2008.1" stroke="#000" stroke-width="1.7"/><g fill="#fff" stroke="#222" stroke-width="0.85"><circle cx="1398.7" cy="1923.1" r="4.75"/><circle cx="1409.0" cy="1923.1" r="4.75"/><circle cx="1419.4" cy="1923.1" r="4.75"/><circle cx="1429.7" cy="1923.1" r="4.75"/><circle cx="1440.0" cy="1923.1" r="4.75"/><circle cx="1450.4" cy="1923.1" r="4.75"/><circle cx="1460.7" cy="1923.1" r="4.75"/><circle cx="1471.0" cy="1923.1" r="4.75"/><circle cx="1481.3" cy="1923.1" r="4.75"/><circle cx="1398.7" cy="1933.3" r="4.75"/><circle cx="1409.0" cy="1933.3" r="4.75"/><circle cx="1419.4" cy="1933.3" r="4.75"/><circle cx="1429.7" cy="1933.3" r="4.75"/><circle cx="1440.0" cy="1933.3" r="4.75"/><circle cx="1450.4" cy="1933.3" r="4.75"/><circle cx="1460.7" cy="1933.3" r="4.75"/><circle cx="1471.0" cy="1933.3" r="4.75"/><circle cx="1481.3" cy="1933.3" r="4.75"/><circle cx="1398.7" cy="1943.5" r="4.75"/><circle cx="1409.0" cy="1943.5" r="4.75"/><circle cx="1419.4" cy="1943.5" r="4.75"/><circle cx="1429.7" cy="1943.5" r="4.75"/><circle cx="1440.0" cy="1943.5" r="4.75"/><circle cx="1450.4" cy="1943.5" r="4.75"/><circle cx="1460.7" cy="1943.5" r="4.75"/><circle cx="1471.0" cy="1943.5" r="4.75"/><circle cx="1481.3" cy="1943.5" r="4.75"/><circle cx="1398.7" cy="1953.8" r="4.75"/><circle cx="1409.0" cy="1953.8" r="4.75"/><circle cx="1419.4" cy="1953.8" r="4.75"/><circle cx="1429.7" cy="1953.8" r="4.75"/><circle cx="1440.0" cy="1953.8" r="4.75"/><circle cx="1450.4" cy="1953.8" r="4.75"/><circle cx="1460.7" cy="1953.8" r="4.75"/><circle cx="1471.0" cy="1953.8" r="4.75"/><circle cx="1481.3" cy="1953.8" r="4.75"/><circle cx="1398.7" cy="1964.0" r="4.75"/><circle cx="1409.0" cy="1964.0" r="4.75"/><circle cx="1419.4" cy="1964.0" r="4.75"/><circle cx="1429.7" cy="1964.0" r="4.75"/><circle cx="1440.0" cy="1964.0" r="4.75"/><circle cx="1450.4" cy="1964.0" r="4.75"/><circle cx="1460.7" cy="1964.0" r="4.75"/><circle cx="1471.0" cy="1964.0" r="4.75"/><circle cx="1481.3" cy="1964.0" r="4.75"/><circle cx="1398.7" cy="1974.2" r="4.75"/><circle cx="1409.0" cy="1974.2" r="4.75"/><circle cx="1419.4" cy="1974.2" r="4.75"/><circle cx="1429.7" cy="1974.2" r="4.75"/><circle cx="1440.0" cy="1974.2" r="4.75"/><circle cx="1450.4" cy="1974.2" r="4.75"/><circle cx="1460.7" cy="1974.2" r="4.75"/><circle cx="1471.0" cy="1974.2" r="4.75"/><circle cx="1481.3" cy="1974.2" r="4.75"/><circle cx="1398.7" cy="1984.4" r="4.75"/><circle cx="1409.0" cy="1984.4" r="4.75"/><circle cx="1419.4" cy="1984.4" r="4.75"/><circle cx="1429.7" cy="1984.4" r="4.75"/><circle cx="1440.0" cy="1984.4" r="4.75"/><circle cx="1450.4" cy="1984.4" r="4.75"/><circle cx="1460.7" cy="1984.4" r="4.75"/><circle cx="1471.0" cy="1984.4" r="4.75"/><circle cx="1481.3" cy="1984.4" r="4.75"/><circle cx="1429.7" cy="1994.6" r="4.75"/><circle cx="1440.0" cy="1994.6" r="4.75"/><circle cx="1450.4" cy="1994.6" r="4.75"/><circle cx="1460.7" cy="1994.6" r="4.75"/><circle cx="1471.0" cy="1994.6" r="4.75"/><circle cx="1481.3" cy="1994.6" r="4.75"/><circle cx="1429.7" cy="2004.9" r="4.75"/><circle cx="1440.0" cy="2004.9" r="4.75"/><circle cx="1450.4" cy="2004.9" r="4.75"/><circle cx="1460.7" cy="2004.9" r="4.75"/><circle cx="1471.0" cy="2004.9" r="4.75"/><circle cx="1481.3" cy="2004.9" r="4.75"/></g><g fill="#000"></g><path d="M1395.5 1991.4L1401.9 1997.8M1401.9 1991.4L1395.5 1997.8M1405.8 1991.4L1412.2 1997.8M1412.2 1991.4L1405.8 1997.8M1416.2 1991.4L1422.6 1997.8M1422.6 1991.4L1416.2 1997.8M1395.5 2001.7L1401.9 2008.1M1401.9 2001.7L1395.5 2008.1M1405.8 2001.7L1412.2 2008.1M1412.2 2001.7L1405.8 2008.1M1416.2 2001.7L1422.6 2008.1M1422.6 2001.7L1416.2 2008.1" stroke="#000" stroke-width="1.7"/><g fill="#fff" stroke="#222" stroke-width="0.85"><circle cx="1551.9" cy="1815.1" r="5"/><circle cx="1562.5" cy="1815.1" r="5"/><circle cx="1573.0" cy="1815.1" r="5"/><circle cx="1583.6" cy="1815.1" r="5"/><circle cx="1594.2" cy="1815.1" r="5"/><circle cx="1604.8" cy="1815.1" r="5"/><circle cx="1615.4" cy="1815.1" r="5"/><circle cx="1625.9" cy="1815.1" r="5"/><circle cx="1636.5" cy="1815.1" r="5"/><circle cx="1647.1" cy="1815.1" r="5"/><circle cx="1657.7" cy="1815.1" r="5"/><circle cx="1668.3" cy="1815.1" r="5"/><circle cx="1678.8" cy="1815.1" r="5"/><circle cx="1689.4" cy="1815.1" r="5"/><circle cx="1700.0" cy="1815.1" r="5"/><circle cx="1541.3" cy="1825.8" r="5"/><circle cx="1551.9" cy="1825.8" r="5"/><circle cx="1562.5" cy="1825.8" r="5"/><circle cx="1573.0" cy="1825.8" r="5"/><circle cx="1583.6" cy="1825.8" r="5"/><circle cx="1594.2" cy="1825.8" r="5"/><circle cx="1604.8" cy="1825.8" r="5"/><circle cx="1615.4" cy="1825.8" r="5"/><circle cx="1625.9" cy="1825.8" r="5"/><circle cx="1636.5" cy="1825.8" r="5"/><circle cx="1647.1" cy="1825.8" r="5"/><circle cx="1657.7" cy="1825.8" r="5"/><circle cx="1668.3" cy="1825.8" r="5"/><circle cx="1678.8" cy="1825.8" r="5"/><circle cx="1689.4" cy="1825.8" r="5"/><circle cx="1700.0" cy="1825.8" r="5"/><circle cx="1541.3" cy="1836.4" r="5"/><circle cx="1551.9" cy="1836.4" r="5"/><circle cx="1562.5" cy="1836.4" r="5"/><circle cx="1573.0" cy="1836.4" r="5"/><circle cx="1583.6" cy="1836.4" r="5"/><circle cx="1594.2" cy="1836.4" r="5"/><circle cx="1604.8" cy="1836.4" r="5"/><circle cx="1615.4" cy="1836.4" r="5"/><circle cx="1625.9" cy="1836.4" r="5"/><circle cx="1636.5" cy="1836.4" r="5"/><circle cx="1647.1" cy="1836.4" r="5"/><circle cx="1657.7" cy="1836.4" r="5"/><circle cx="1668.3" cy="1836.4" r="5"/><circle cx="1678.8" cy="1836.4" r="5"/><circle cx="1689.4" cy="1836.4" r="5"/><circle cx="1700.0" cy="1836.4" r="5"/><circle cx="1551.9" cy="1847.1" r="5"/><circle cx="1562.5" cy="1847.1" r="5"/><circle cx="1573.0" cy="1847.1" r="5"/><circle cx="1583.6" cy="1847.1" r="5"/><circle cx="1594.2" cy="1847.1" r="5"/><circle cx="1604.8" cy="1847.1" r="5"/><circle cx="1615.4" cy="1847.1" r="5"/><circle cx="1625.9" cy="1847.1" r="5"/><circle cx="1636.5" cy="1847.1" r="5"/><circle cx="1647.1" cy="1847.1" r="5"/><circle cx="1657.7" cy="1847.1" r="5"/><circle cx="1668.3" cy="1847.1" r="5"/><circle cx="1678.8" cy="1847.1" r="5"/><circle cx="1689.4" cy="1847.1" r="5"/><circle cx="1700.0" cy="1847.1" r="5"/><circle cx="1551.9" cy="1857.8" r="5"/><circle cx="1562.5" cy="1857.8" r="5"/><circle cx="1573.0" cy="1857.8" r="5"/><circle cx="1583.6" cy="1857.8" r="5"/><circle cx="1594.2" cy="1857.8" r="5"/><circle cx="1604.8" cy="1857.8" r="5"/><circle cx="1615.4" cy="1857.8" r="5"/><circle cx="1625.9" cy="1857.8" r="5"/><circle cx="1636.5" cy="1857.8" r="5"/><circle cx="1647.1" cy="1857.8" r="5"/><circle cx="1657.7" cy="1857.8" r="5"/><circle cx="1668.3" cy="1857.8" r="5"/><circle cx="1678.8" cy="1857.8" r="5"/><circle cx="1689.4" cy="1857.8" r="5"/><circle cx="1700.0" cy="1857.8" r="5"/><circle cx="1551.9" cy="1868.4" r="5"/><circle cx="1562.5" cy="1868.4" r="5"/><circle cx="1573.0" cy="1868.4" r="5"/><circle cx="1583.6" cy="1868.4" r="5"/><circle cx="1594.2" cy="1868.4" r="5"/><circle cx="1604.8" cy="1868.4" r="5"/><circle cx="1615.4" cy="1868.4" r="5"/><circle cx="1625.9" cy="1868.4" r="5"/><circle cx="1636.5" cy="1868.4" r="5"/><circle cx="1647.1" cy="1868.4" r="5"/><circle cx="1657.7" cy="1868.4" r="5"/><circle cx="1668.3" cy="1868.4" r="5"/><circle cx="1678.8" cy="1868.4" r="5"/><circle cx="1689.4" cy="1868.4" r="5"/><circle cx="1700.0" cy="1868.4" r="5"/><circle cx="1551.9" cy="1879.1" r="5"/><circle cx="1562.5" cy="1879.1" r="5"/><circle cx="1573.0" cy="1879.1" r="5"/><circle cx="1583.6" cy="1879.1" r="5"/><circle cx="1594.2" cy="1879.1" r="5"/><circle cx="1604.8" cy="1879.1" r="5"/><circle cx="1615.4" cy="1879.1" r="5"/><circle cx="1625.9" cy="1879.1" r="5"/><circle cx="1636.5" cy="1879.1" r="5"/><circle cx="1647.1" cy="1879.1" r="5"/><circle cx="1657.7" cy="1879.1" r="5"/><circle cx="1668.3" cy="1879.1" r="5"/><circle cx="1678.8" cy="1879.1" r="5"/><circle cx="1689.4" cy="1879.1" r="5"/><circle cx="1700.0" cy="1879.1" r="5"/></g><g fill="#000"><circle cx="1541.3" cy="1847.1" r="5"/><circle cx="1541.3" cy="1857.8" r="5"/><circle cx="1541.3" cy="1868.4" r="5"/><circle cx="1541.3" cy="1879.1" r="5"/></g><path d="M1538.1 1811.9L1544.5 1818.3M1544.5 1811.9L1538.1 1818.3" stroke="#000" stroke-width="1.7"/><g fill="#fff" stroke="#222" stroke-width="0.85"><circle cx="1551.9" cy="1923.1" r="5"/><circle cx="1562.5" cy="1923.1" r="5"/><circle cx="1573.0" cy="1923.1" r="5"/><circle cx="1583.6" cy="1923.1" r="5"/><circle cx="1594.2" cy="1923.1" r="5"/><circle cx="1604.8" cy="1923.1" r="5"/><circle cx="1615.4" cy="1923.1" r="5"/><circle cx="1625.9" cy="1923.1" r="5"/><circle cx="1636.5" cy="1923.1" r="5"/><circle cx="1647.1" cy="1923.1" r="5"/><circle cx="1657.7" cy="1923.1" r="5"/><circle cx="1668.3" cy="1923.1" r="5"/><circle cx="1678.8" cy="1923.1" r="5"/><circle cx="1689.4" cy="1923.1" r="5"/><circle cx="1700.0" cy="1923.1" r="5"/><circle cx="1551.9" cy="1933.7" r="5"/><circle cx="1562.5" cy="1933.7" r="5"/><circle cx="1573.0" cy="1933.7" r="5"/><circle cx="1583.6" cy="1933.7" r="5"/><circle cx="1594.2" cy="1933.7" r="5"/><circle cx="1604.8" cy="1933.7" r="5"/><circle cx="1615.4" cy="1933.7" r="5"/><circle cx="1625.9" cy="1933.7" r="5"/><circle cx="1636.5" cy="1933.7" r="5"/><circle cx="1647.1" cy="1933.7" r="5"/><circle cx="1657.7" cy="1933.7" r="5"/><circle cx="1668.3" cy="1933.7" r="5"/><circle cx="1678.8" cy="1933.7" r="5"/><circle cx="1689.4" cy="1933.7" r="5"/><circle cx="1700.0" cy="1933.7" r="5"/><circle cx="1551.9" cy="1944.2" r="5"/><circle cx="1562.5" cy="1944.2" r="5"/><circle cx="1573.0" cy="1944.2" r="5"/><circle cx="1583.6" cy="1944.2" r="5"/><circle cx="1594.2" cy="1944.2" r="5"/><circle cx="1604.8" cy="1944.2" r="5"/><circle cx="1615.4" cy="1944.2" r="5"/><circle cx="1625.9" cy="1944.2" r="5"/><circle cx="1636.5" cy="1944.2" r="5"/><circle cx="1647.1" cy="1944.2" r="5"/><circle cx="1657.7" cy="1944.2" r="5"/><circle cx="1668.3" cy="1944.2" r="5"/><circle cx="1689.4" cy="1944.2" r="5"/><circle cx="1700.0" cy="1944.2" r="5"/><circle cx="1551.9" cy="1954.8" r="5"/><circle cx="1562.5" cy="1954.8" r="5"/><circle cx="1573.0" cy="1954.8" r="5"/><circle cx="1583.6" cy="1954.8" r="5"/><circle cx="1594.2" cy="1954.8" r="5"/><circle cx="1604.8" cy="1954.8" r="5"/><circle cx="1615.4" cy="1954.8" r="5"/><circle cx="1625.9" cy="1954.8" r="5"/><circle cx="1647.1" cy="1954.8" r="5"/><circle cx="1657.7" cy="1954.8" r="5"/><circle cx="1668.3" cy="1954.8" r="5"/><circle cx="1678.8" cy="1954.8" r="5"/><circle cx="1689.4" cy="1954.8" r="5"/><circle cx="1700.0" cy="1954.8" r="5"/><circle cx="1551.9" cy="1965.3" r="5"/><circle cx="1562.5" cy="1965.3" r="5"/><circle cx="1573.0" cy="1965.3" r="5"/><circle cx="1583.6" cy="1965.3" r="5"/><circle cx="1594.2" cy="1965.3" r="5"/><circle cx="1604.8" cy="1965.3" r="5"/><circle cx="1615.4" cy="1965.3" r="5"/><circle cx="1625.9" cy="1965.3" r="5"/><circle cx="1636.5" cy="1965.3" r="5"/><circle cx="1647.1" cy="1965.3" r="5"/><circle cx="1668.3" cy="1965.3" r="5"/><circle cx="1678.8" cy="1965.3" r="5"/><circle cx="1689.4" cy="1965.3" r="5"/><circle cx="1700.0" cy="1965.3" r="5"/><circle cx="1551.9" cy="1975.9" r="5"/><circle cx="1562.5" cy="1975.9" r="5"/><circle cx="1573.0" cy="1975.9" r="5"/><circle cx="1583.6" cy="1975.9" r="5"/><circle cx="1594.2" cy="1975.9" r="5"/><circle cx="1604.8" cy="1975.9" r="5"/><circle cx="1615.4" cy="1975.9" r="5"/><circle cx="1625.9" cy="1975.9" r="5"/><circle cx="1636.5" cy="1975.9" r="5"/><circle cx="1647.1" cy="1975.9" r="5"/><circle cx="1657.7" cy="1975.9" r="5"/><circle cx="1678.8" cy="1975.9" r="5"/><circle cx="1689.4" cy="1975.9" r="5"/><circle cx="1700.0" cy="1975.9" r="5"/><circle cx="1551.9" cy="1986.5" r="5"/><circle cx="1562.5" cy="1986.5" r="5"/><circle cx="1573.0" cy="1986.5" r="5"/><circle cx="1583.6" cy="1986.5" r="5"/><circle cx="1594.2" cy="1986.5" r="5"/><circle cx="1604.8" cy="1986.5" r="5"/><circle cx="1615.4" cy="1986.5" r="5"/><circle cx="1625.9" cy="1986.5" r="5"/><circle cx="1636.5" cy="1986.5" r="5"/><circle cx="1647.1" cy="1986.5" r="5"/><circle cx="1657.7" cy="1986.5" r="5"/><circle cx="1678.8" cy="1986.5" r="5"/><circle cx="1689.4" cy="1986.5" r="5"/><circle cx="1700.0" cy="1986.5" r="5"/><circle cx="1551.9" cy="1997.0" r="5"/><circle cx="1562.5" cy="1997.0" r="5"/><circle cx="1573.0" cy="1997.0" r="5"/><circle cx="1583.6" cy="1997.0" r="5"/><circle cx="1594.2" cy="1997.0" r="5"/><circle cx="1604.8" cy="1997.0" r="5"/><circle cx="1615.4" cy="1997.0" r="5"/><circle cx="1625.9" cy="1997.0" r="5"/><circle cx="1636.5" cy="1997.0" r="5"/><circle cx="1647.1" cy="1997.0" r="5"/><circle cx="1657.7" cy="1997.0" r="5"/><circle cx="1678.8" cy="1997.0" r="5"/><circle cx="1689.4" cy="1997.0" r="5"/><circle cx="1700.0" cy="1997.0" r="5"/><circle cx="1551.9" cy="2007.6" r="5"/><circle cx="1562.5" cy="2007.6" r="5"/><circle cx="1573.0" cy="2007.6" r="5"/><circle cx="1583.6" cy="2007.6" r="5"/><circle cx="1594.2" cy="2007.6" r="5"/><circle cx="1604.8" cy="2007.6" r="5"/><circle cx="1615.4" cy="2007.6" r="5"/><circle cx="1625.9" cy="2007.6" r="5"/><circle cx="1636.5" cy="2007.6" r="5"/><circle cx="1647.1" cy="2007.6" r="5"/><circle cx="1668.3" cy="2007.6" r="5"/><circle cx="1678.8" cy="2007.6" r="5"/><circle cx="1689.4" cy="2007.6" r="5"/><circle cx="1700.0" cy="2007.6" r="5"/></g><g fill="#000"><circle cx="1541.3" cy="1923.1" r="5"/><circle cx="1541.3" cy="1933.7" r="5"/><circle cx="1541.3" cy="1944.2" r="5"/><circle cx="1541.3" cy="1954.8" r="5"/><circle cx="1636.5" cy="1954.8" r="5"/><circle cx="1541.3" cy="1965.3" r="5"/><circle cx="1657.7" cy="1965.3" r="5"/><circle cx="1541.3" cy="1975.9" r="5"/><circle cx="1668.3" cy="1975.9" r="5"/><circle cx="1541.3" cy="1986.5" r="5"/><circle cx="1668.3" cy="1986.5" r="5"/><circle cx="1541.3" cy="1997.0" r="5"/><circle cx="1668.3" cy="1997.0" r="5"/><circle cx="1657.7" cy="2007.6" r="5"/></g><path d="M1675.6 1941.0L1682.0 1947.4M1682.0 1941.0L1675.6 1947.4M1538.1 2004.4L1544.5 2010.8M1544.5 2004.4L1538.1 2010.8" stroke="#000" stroke-width="1.7"/><g fill="#fff" stroke="#222" stroke-width="0.85"><circle cx="1306.6" cy="2058.3" r="5"/><circle cx="1317.2" cy="2058.3" r="5"/><circle cx="1327.8" cy="2058.3" r="5"/><circle cx="1338.4" cy="2058.3" r="5"/><circle cx="1349.0" cy="2058.3" r="5"/><circle cx="1370.2" cy="2058.3" r="5"/><circle cx="1380.8" cy="2058.3" r="5"/><circle cx="1391.4" cy="2058.3" r="5"/><circle cx="1402.0" cy="2058.3" r="5"/><circle cx="1412.6" cy="2058.3" r="5"/><circle cx="1423.2" cy="2058.3" r="5"/><circle cx="1433.8" cy="2058.3" r="5"/><circle cx="1444.4" cy="2058.3" r="5"/><circle cx="1455.0" cy="2058.3" r="5"/><circle cx="1296.0" cy="2068.9" r="5"/><circle cx="1317.2" cy="2068.9" r="5"/><circle cx="1349.0" cy="2068.9" r="5"/><circle cx="1359.6" cy="2068.9" r="5"/><circle cx="1370.2" cy="2068.9" r="5"/><circle cx="1380.8" cy="2068.9" r="5"/><circle cx="1391.4" cy="2068.9" r="5"/><circle cx="1402.0" cy="2068.9" r="5"/><circle cx="1412.6" cy="2068.9" r="5"/><circle cx="1423.2" cy="2068.9" r="5"/><circle cx="1433.8" cy="2068.9" r="5"/><circle cx="1444.4" cy="2068.9" r="5"/><circle cx="1455.0" cy="2068.9" r="5"/><circle cx="1306.6" cy="2079.5" r="5"/><circle cx="1317.2" cy="2079.5" r="5"/><circle cx="1349.0" cy="2079.5" r="5"/><circle cx="1359.6" cy="2079.5" r="5"/><circle cx="1380.8" cy="2079.5" r="5"/><circle cx="1391.4" cy="2079.5" r="5"/><circle cx="1402.0" cy="2079.5" r="5"/><circle cx="1412.6" cy="2079.5" r="5"/><circle cx="1423.2" cy="2079.5" r="5"/><circle cx="1433.8" cy="2079.5" r="5"/><circle cx="1455.0" cy="2079.5" r="5"/><circle cx="1306.6" cy="2090.0" r="5"/><circle cx="1317.2" cy="2090.0" r="5"/><circle cx="1349.0" cy="2090.0" r="5"/><circle cx="1359.6" cy="2090.0" r="5"/><circle cx="1380.8" cy="2090.0" r="5"/><circle cx="1391.4" cy="2090.0" r="5"/><circle cx="1402.0" cy="2090.0" r="5"/><circle cx="1412.6" cy="2090.0" r="5"/><circle cx="1423.2" cy="2090.0" r="5"/><circle cx="1433.8" cy="2090.0" r="5"/><circle cx="1455.0" cy="2090.0" r="5"/><circle cx="1317.2" cy="2100.6" r="5"/><circle cx="1349.0" cy="2100.6" r="5"/><circle cx="1359.6" cy="2100.6" r="5"/><circle cx="1380.8" cy="2100.6" r="5"/><circle cx="1391.4" cy="2100.6" r="5"/><circle cx="1402.0" cy="2100.6" r="5"/><circle cx="1412.6" cy="2100.6" r="5"/><circle cx="1423.2" cy="2100.6" r="5"/><circle cx="1433.8" cy="2100.6" r="5"/><circle cx="1444.4" cy="2100.6" r="5"/><circle cx="1455.0" cy="2100.6" r="5"/><circle cx="1306.6" cy="2111.2" r="5"/><circle cx="1317.2" cy="2111.2" r="5"/><circle cx="1327.8" cy="2111.2" r="5"/><circle cx="1338.4" cy="2111.2" r="5"/><circle cx="1349.0" cy="2111.2" r="5"/><circle cx="1370.2" cy="2111.2" r="5"/><circle cx="1380.8" cy="2111.2" r="5"/><circle cx="1391.4" cy="2111.2" r="5"/><circle cx="1402.0" cy="2111.2" r="5"/><circle cx="1412.6" cy="2111.2" r="5"/><circle cx="1423.2" cy="2111.2" r="5"/><circle cx="1433.8" cy="2111.2" r="5"/><circle cx="1444.4" cy="2111.2" r="5"/><circle cx="1455.0" cy="2111.2" r="5"/></g><g fill="#000"><circle cx="1296.0" cy="2058.3" r="5"/><circle cx="1359.6" cy="2058.3" r="5"/><circle cx="1306.6" cy="2068.9" r="5"/><circle cx="1327.8" cy="2068.9" r="5"/><circle cx="1338.4" cy="2068.9" r="5"/><circle cx="1296.0" cy="2079.5" r="5"/><circle cx="1327.8" cy="2079.5" r="5"/><circle cx="1338.4" cy="2079.5" r="5"/><circle cx="1370.2" cy="2079.5" r="5"/><circle cx="1444.4" cy="2079.5" r="5"/><circle cx="1296.0" cy="2090.0" r="5"/><circle cx="1327.8" cy="2090.0" r="5"/><circle cx="1338.4" cy="2090.0" r="5"/><circle cx="1370.2" cy="2090.0" r="5"/><circle cx="1444.4" cy="2090.0" r="5"/><circle cx="1296.0" cy="2100.6" r="5"/><circle cx="1306.6" cy="2100.6" r="5"/><circle cx="1327.8" cy="2100.6" r="5"/><circle cx="1338.4" cy="2100.6" r="5"/><circle cx="1370.2" cy="2100.6" r="5"/><circle cx="1296.0" cy="2111.2" r="5"/><circle cx="1359.6" cy="2111.2" r="5"/></g><g fill="#fff" stroke="#222" stroke-width="0.85"><circle cx="1306.6" cy="2134.9" r="5"/><circle cx="1317.2" cy="2134.9" r="5"/><circle cx="1327.8" cy="2134.9" r="5"/><circle cx="1338.4" cy="2134.9" r="5"/><circle cx="1349.0" cy="2134.9" r="5"/><circle cx="1370.2" cy="2134.9" r="5"/><circle cx="1391.4" cy="2134.9" r="5"/><circle cx="1402.0" cy="2134.9" r="5"/><circle cx="1412.6" cy="2134.9" r="5"/><circle cx="1423.2" cy="2134.9" r="5"/><circle cx="1433.8" cy="2134.9" r="5"/><circle cx="1444.4" cy="2134.9" r="5"/><circle cx="1455.0" cy="2134.9" r="5"/><circle cx="1317.2" cy="2145.4" r="5"/><circle cx="1327.8" cy="2145.4" r="5"/><circle cx="1359.6" cy="2145.4" r="5"/><circle cx="1380.8" cy="2145.4" r="5"/><circle cx="1391.4" cy="2145.4" r="5"/><circle cx="1402.0" cy="2145.4" r="5"/><circle cx="1412.6" cy="2145.4" r="5"/><circle cx="1423.2" cy="2145.4" r="5"/><circle cx="1433.8" cy="2145.4" r="5"/><circle cx="1444.4" cy="2145.4" r="5"/><circle cx="1455.0" cy="2145.4" r="5"/><circle cx="1317.2" cy="2155.9" r="5"/><circle cx="1338.4" cy="2155.9" r="5"/><circle cx="1359.6" cy="2155.9" r="5"/><circle cx="1380.8" cy="2155.9" r="5"/><circle cx="1391.4" cy="2155.9" r="5"/><circle cx="1402.0" cy="2155.9" r="5"/><circle cx="1412.6" cy="2155.9" r="5"/><circle cx="1423.2" cy="2155.9" r="5"/><circle cx="1433.8" cy="2155.9" r="5"/><circle cx="1444.4" cy="2155.9" r="5"/><circle cx="1455.0" cy="2155.9" r="5"/><circle cx="1317.2" cy="2166.4" r="5"/><circle cx="1327.8" cy="2166.4" r="5"/><circle cx="1370.2" cy="2166.4" r="5"/><circle cx="1391.4" cy="2166.4" r="5"/><circle cx="1402.0" cy="2166.4" r="5"/><circle cx="1412.6" cy="2166.4" r="5"/><circle cx="1423.2" cy="2166.4" r="5"/><circle cx="1433.8" cy="2166.4" r="5"/><circle cx="1444.4" cy="2166.4" r="5"/><circle cx="1455.0" cy="2166.4" r="5"/><circle cx="1306.6" cy="2176.9" r="5"/><circle cx="1349.0" cy="2176.9" r="5"/><circle cx="1370.2" cy="2176.9" r="5"/><circle cx="1380.8" cy="2176.9" r="5"/><circle cx="1391.4" cy="2176.9" r="5"/><circle cx="1412.6" cy="2176.9" r="5"/><circle cx="1433.8" cy="2176.9" r="5"/><circle cx="1444.4" cy="2176.9" r="5"/><circle cx="1306.6" cy="2187.5" r="5"/><circle cx="1349.0" cy="2187.5" r="5"/><circle cx="1370.2" cy="2187.5" r="5"/><circle cx="1380.8" cy="2187.5" r="5"/><circle cx="1391.4" cy="2187.5" r="5"/><circle cx="1412.6" cy="2187.5" r="5"/><circle cx="1433.8" cy="2187.5" r="5"/><circle cx="1444.4" cy="2187.5" r="5"/><circle cx="1306.6" cy="2198.0" r="5"/><circle cx="1349.0" cy="2198.0" r="5"/><circle cx="1370.2" cy="2198.0" r="5"/><circle cx="1380.8" cy="2198.0" r="5"/><circle cx="1391.4" cy="2198.0" r="5"/><circle cx="1412.6" cy="2198.0" r="5"/><circle cx="1433.8" cy="2198.0" r="5"/><circle cx="1444.4" cy="2198.0" r="5"/><circle cx="1317.2" cy="2208.5" r="5"/><circle cx="1349.0" cy="2208.5" r="5"/><circle cx="1370.2" cy="2208.5" r="5"/><circle cx="1380.8" cy="2208.5" r="5"/><circle cx="1391.4" cy="2208.5" r="5"/><circle cx="1412.6" cy="2208.5" r="5"/><circle cx="1433.8" cy="2208.5" r="5"/><circle cx="1444.4" cy="2208.5" r="5"/><circle cx="1306.6" cy="2219.0" r="5"/><circle cx="1349.0" cy="2219.0" r="5"/><circle cx="1380.8" cy="2219.0" r="5"/><circle cx="1391.4" cy="2219.0" r="5"/><circle cx="1412.6" cy="2219.0" r="5"/><circle cx="1423.2" cy="2219.0" r="5"/><circle cx="1433.8" cy="2219.0" r="5"/><circle cx="1444.4" cy="2219.0" r="5"/></g><g fill="#000"><circle cx="1296.0" cy="2134.9" r="5"/><circle cx="1359.6" cy="2134.9" r="5"/><circle cx="1380.8" cy="2134.9" r="5"/><circle cx="1296.0" cy="2145.4" r="5"/><circle cx="1306.6" cy="2145.4" r="5"/><circle cx="1338.4" cy="2145.4" r="5"/><circle cx="1349.0" cy="2145.4" r="5"/><circle cx="1370.2" cy="2145.4" r="5"/><circle cx="1296.0" cy="2155.9" r="5"/><circle cx="1306.6" cy="2155.9" r="5"/><circle cx="1327.8" cy="2155.9" r="5"/><circle cx="1349.0" cy="2155.9" r="5"/><circle cx="1370.2" cy="2155.9" r="5"/><circle cx="1296.0" cy="2166.4" r="5"/><circle cx="1306.6" cy="2166.4" r="5"/><circle cx="1338.4" cy="2166.4" r="5"/><circle cx="1349.0" cy="2166.4" r="5"/><circle cx="1359.6" cy="2166.4" r="5"/><circle cx="1380.8" cy="2166.4" r="5"/><circle cx="1296.0" cy="2176.9" r="5"/><circle cx="1317.2" cy="2176.9" r="5"/><circle cx="1327.8" cy="2176.9" r="5"/><circle cx="1338.4" cy="2176.9" r="5"/><circle cx="1359.6" cy="2176.9" r="5"/><circle cx="1402.0" cy="2176.9" r="5"/><circle cx="1423.2" cy="2176.9" r="5"/><circle cx="1455.0" cy="2176.9" r="5"/><circle cx="1296.0" cy="2187.5" r="5"/><circle cx="1317.2" cy="2187.5" r="5"/><circle cx="1327.8" cy="2187.5" r="5"/><circle cx="1338.4" cy="2187.5" r="5"/><circle cx="1359.6" cy="2187.5" r="5"/><circle cx="1402.0" cy="2187.5" r="5"/><circle cx="1423.2" cy="2187.5" r="5"/><circle cx="1455.0" cy="2187.5" r="5"/><circle cx="1296.0" cy="2198.0" r="5"/><circle cx="1317.2" cy="2198.0" r="5"/><circle cx="1327.8" cy="2198.0" r="5"/><circle cx="1338.4" cy="2198.0" r="5"/><circle cx="1359.6" cy="2198.0" r="5"/><circle cx="1402.0" cy="2198.0" r="5"/><circle cx="1423.2" cy="2198.0" r="5"/><circle cx="1455.0" cy="2198.0" r="5"/><circle cx="1296.0" cy="2208.5" r="5"/><circle cx="1306.6" cy="2208.5" r="5"/><circle cx="1327.8" cy="2208.5" r="5"/><circle cx="1338.4" cy="2208.5" r="5"/><circle cx="1359.6" cy="2208.5" r="5"/><circle cx="1402.0" cy="2208.5" r="5"/><circle cx="1423.2" cy="2208.5" r="5"/><circle cx="1455.0" cy="2208.5" r="5"/><circle cx="1296.0" cy="2219.0" r="5"/><circle cx="1317.2" cy="2219.0" r="5"/><circle cx="1327.8" cy="2219.0" r="5"/><circle cx="1338.4" cy="2219.0" r="5"/><circle cx="1359.6" cy="2219.0" r="5"/><circle cx="1370.2" cy="2219.0" r="5"/><circle cx="1402.0" cy="2219.0" r="5"/><circle cx="1455.0" cy="2219.0" r="5"/></g><g fill="#fff" stroke="#222" stroke-width="0.85"><circle cx="1558.3" cy="2058.3" r="5"/><circle cx="1568.9" cy="2058.3" r="5"/><circle cx="1579.6" cy="2058.3" r="5"/><circle cx="1590.2" cy="2058.3" r="5"/><circle cx="1600.8" cy="2058.3" r="5"/><circle cx="1611.5" cy="2058.3" r="5"/><circle cx="1622.1" cy="2058.3" r="5"/><circle cx="1632.7" cy="2058.3" r="5"/><circle cx="1643.3" cy="2058.3" r="5"/><circle cx="1654.0" cy="2058.3" r="5"/><circle cx="1664.6" cy="2058.3" r="5"/><circle cx="1558.3" cy="2068.9" r="5"/><circle cx="1568.9" cy="2068.9" r="5"/><circle cx="1579.6" cy="2068.9" r="5"/><circle cx="1590.2" cy="2068.9" r="5"/><circle cx="1600.8" cy="2068.9" r="5"/><circle cx="1611.5" cy="2068.9" r="5"/><circle cx="1622.1" cy="2068.9" r="5"/><circle cx="1632.7" cy="2068.9" r="5"/><circle cx="1643.3" cy="2068.9" r="5"/><circle cx="1654.0" cy="2068.9" r="5"/><circle cx="1664.6" cy="2068.9" r="5"/><circle cx="1558.3" cy="2079.5" r="5"/><circle cx="1568.9" cy="2079.5" r="5"/><circle cx="1579.6" cy="2079.5" r="5"/><circle cx="1590.2" cy="2079.5" r="5"/><circle cx="1600.8" cy="2079.5" r="5"/><circle cx="1611.5" cy="2079.5" r="5"/><circle cx="1622.1" cy="2079.5" r="5"/><circle cx="1632.7" cy="2079.5" r="5"/><circle cx="1654.0" cy="2079.5" r="5"/><circle cx="1664.6" cy="2079.5" r="5"/><circle cx="1568.9" cy="2090.0" r="5"/><circle cx="1579.6" cy="2090.0" r="5"/><circle cx="1590.2" cy="2090.0" r="5"/><circle cx="1600.8" cy="2090.0" r="5"/><circle cx="1611.5" cy="2090.0" r="5"/><circle cx="1622.1" cy="2090.0" r="5"/><circle cx="1632.7" cy="2090.0" r="5"/><circle cx="1643.3" cy="2090.0" r="5"/><circle cx="1654.0" cy="2090.0" r="5"/><circle cx="1664.6" cy="2090.0" r="5"/><circle cx="1568.9" cy="2100.6" r="5"/><circle cx="1579.6" cy="2100.6" r="5"/><circle cx="1590.2" cy="2100.6" r="5"/><circle cx="1600.8" cy="2100.6" r="5"/><circle cx="1611.5" cy="2100.6" r="5"/><circle cx="1622.1" cy="2100.6" r="5"/><circle cx="1632.7" cy="2100.6" r="5"/><circle cx="1643.3" cy="2100.6" r="5"/><circle cx="1654.0" cy="2100.6" r="5"/><circle cx="1664.6" cy="2100.6" r="5"/><circle cx="1558.3" cy="2111.2" r="5"/><circle cx="1579.6" cy="2111.2" r="5"/><circle cx="1590.2" cy="2111.2" r="5"/><circle cx="1600.8" cy="2111.2" r="5"/><circle cx="1611.5" cy="2111.2" r="5"/><circle cx="1622.1" cy="2111.2" r="5"/><circle cx="1632.7" cy="2111.2" r="5"/><circle cx="1643.3" cy="2111.2" r="5"/><circle cx="1654.0" cy="2111.2" r="5"/></g><g fill="#000"><circle cx="1643.3" cy="2079.5" r="5"/><circle cx="1558.3" cy="2090.0" r="5"/><circle cx="1558.3" cy="2100.6" r="5"/><circle cx="1568.9" cy="2111.2" r="5"/></g><path d="M1661.4 2108.0L1667.8 2114.4M1667.8 2108.0L1661.4 2114.4" stroke="#000" stroke-width="1.7"/><g fill="#fff" stroke="#222" stroke-width="0.85"><circle cx="1558.3" cy="2134.9" r="5"/><circle cx="1568.9" cy="2134.9" r="5"/><circle cx="1579.6" cy="2134.9" r="5"/><circle cx="1590.2" cy="2134.9" r="5"/><circle cx="1600.8" cy="2134.9" r="5"/><circle cx="1611.5" cy="2134.9" r="5"/><circle cx="1622.1" cy="2134.9" r="5"/><circle cx="1632.7" cy="2134.9" r="5"/><circle cx="1643.3" cy="2134.9" r="5"/><circle cx="1654.0" cy="2134.9" r="5"/><circle cx="1664.6" cy="2134.9" r="5"/><circle cx="1558.3" cy="2145.5" r="5"/><circle cx="1568.9" cy="2145.5" r="5"/><circle cx="1579.6" cy="2145.5" r="5"/><circle cx="1590.2" cy="2145.5" r="5"/><circle cx="1600.8" cy="2145.5" r="5"/><circle cx="1611.5" cy="2145.5" r="5"/><circle cx="1622.1" cy="2145.5" r="5"/><circle cx="1632.7" cy="2145.5" r="5"/><circle cx="1643.3" cy="2145.5" r="5"/><circle cx="1654.0" cy="2145.5" r="5"/><circle cx="1664.6" cy="2145.5" r="5"/><circle cx="1558.3" cy="2156.1" r="5"/><circle cx="1568.9" cy="2156.1" r="5"/><circle cx="1579.6" cy="2156.1" r="5"/><circle cx="1590.2" cy="2156.1" r="5"/><circle cx="1600.8" cy="2156.1" r="5"/><circle cx="1611.5" cy="2156.1" r="5"/><circle cx="1622.1" cy="2156.1" r="5"/><circle cx="1632.7" cy="2156.1" r="5"/><circle cx="1643.3" cy="2156.1" r="5"/><circle cx="1654.0" cy="2156.1" r="5"/><circle cx="1664.6" cy="2156.1" r="5"/><circle cx="1558.3" cy="2166.6" r="5"/><circle cx="1568.9" cy="2166.6" r="5"/><circle cx="1579.6" cy="2166.6" r="5"/><circle cx="1590.2" cy="2166.6" r="5"/><circle cx="1600.8" cy="2166.6" r="5"/><circle cx="1611.5" cy="2166.6" r="5"/><circle cx="1622.1" cy="2166.6" r="5"/><circle cx="1632.7" cy="2166.6" r="5"/><circle cx="1643.3" cy="2166.6" r="5"/><circle cx="1654.0" cy="2166.6" r="5"/><circle cx="1664.6" cy="2166.6" r="5"/><circle cx="1558.3" cy="2177.2" r="5"/><circle cx="1568.9" cy="2177.2" r="5"/><circle cx="1579.6" cy="2177.2" r="5"/><circle cx="1590.2" cy="2177.2" r="5"/><circle cx="1600.8" cy="2177.2" r="5"/><circle cx="1611.5" cy="2177.2" r="5"/><circle cx="1622.1" cy="2177.2" r="5"/><circle cx="1632.7" cy="2177.2" r="5"/><circle cx="1643.3" cy="2177.2" r="5"/><circle cx="1654.0" cy="2177.2" r="5"/><circle cx="1664.6" cy="2177.2" r="5"/><circle cx="1558.3" cy="2187.8" r="5"/><circle cx="1568.9" cy="2187.8" r="5"/><circle cx="1579.6" cy="2187.8" r="5"/><circle cx="1590.2" cy="2187.8" r="5"/><circle cx="1600.8" cy="2187.8" r="5"/><circle cx="1611.5" cy="2187.8" r="5"/><circle cx="1622.1" cy="2187.8" r="5"/><circle cx="1632.7" cy="2187.8" r="5"/><circle cx="1643.3" cy="2187.8" r="5"/><circle cx="1654.0" cy="2187.8" r="5"/><circle cx="1664.6" cy="2187.8" r="5"/></g><g fill="#000"></g><text x="1272.5" y="1850.0" font-size="16" text-anchor="middle" transform="rotate(-90 1272.5 1850.0)">- M.SssI</text><text x="1272.5" y="1969.0" font-size="16" text-anchor="middle" transform="rotate(-90 1272.5 1969.0)">+ M.SssI</text><text x="1530.5" y="1847.0" font-size="16" text-anchor="middle" transform="rotate(-90 1530.5 1847.0)">- M.SssI</text><text x="1530.5" y="1965.0" font-size="16" text-anchor="middle" transform="rotate(-90 1530.5 1965.0)">+ M.SssI</text><text x="1271.0" y="2091.0" font-size="16" text-anchor="middle" transform="rotate(-90 1271.0 2091.0)">- M.SssI</text><text x="1271.0" y="2180.0" font-size="16" text-anchor="middle" transform="rotate(-90 1271.0 2180.0)">+ M.SssI</text><text x="1529.0" y="2085.0" font-size="16" text-anchor="middle" transform="rotate(-90 1529.0 2085.0)">- M.SssI</text><text x="1529.0" y="2163.0" font-size="16" text-anchor="middle" transform="rotate(-90 1529.0 2163.0)">+ M.SssI</text><text x="1123.5" y="2259.0" font-size="21" font-weight="bold">f)</text><text x="1144.9" y="2297.4" font-size="16.3">Name</text><text x="1215.7" y="2297.4" font-size="16.3">position</text><text x="1514.3" y="2290.4" font-size="16.3" text-anchor="middle">size</text><text x="1514.3" y="2305.5" font-size="16.3" text-anchor="middle">(bp)</text><text x="1566.5" y="2290.4" font-size="16.3" text-anchor="middle">CpG/</text><text x="1566.5" y="2305.5" font-size="16.3" text-anchor="middle">100bp</text><text x="1674.2" y="2290.4" font-size="16.3" text-anchor="middle">endog.</text><text x="1674.2" y="2305.5" font-size="16.3" text-anchor="middle">meth.</text><text x="1737.8" y="2290.4" font-size="16.3" text-anchor="middle">M.SssI</text><text x="1737.8" y="2305.5" font-size="16.3" text-anchor="middle">-</text><text x="1800.5" y="2290.4" font-size="16.3" text-anchor="middle">M.SssI</text><text x="1800.5" y="2305.5" font-size="16.3" text-anchor="middle">+</text><text x="1617.0" y="2297.4" font-size="16.3" text-anchor="middle">GC%</text><path d="M1143.7 2315.6H1828.5" stroke="#222" stroke-width="1.6"/><rect x="1646.4" y="2318.7" width="58" height="31.9" fill="#e0914b"/><rect x="1646.4" y="2350.6" width="58" height="125.4" fill="#ede5a9"/><rect x="1709.4" y="2318.7" width="56" height="157.3" fill="#ede5a9"/><rect x="1769.8" y="2318.2" width="57.7" height="32.4" fill="#dc5b3d"/><rect x="1769.8" y="2350.6" width="57.7" height="62.7" fill="#ede5a9"/><rect x="1769.8" y="2413.3" width="57.7" height="31.4" fill="#e7b35b"/><rect x="1769.8" y="2444.7" width="57.7" height="31.3" fill="#ede5a9"/><text x="1162" y="2340.8" font-size="16.3" text-anchor="middle"><tspan font-style="italic">Airn</tspan></text><text x="1220.2" y="2340.8" font-size="16.3">intron</text><text x="1278.0" y="2340.8" font-size="16.3">chr17:12934307-12935355</text><text x="1513.2" y="2340.8" font-size="16.3" text-anchor="middle">1051</text><text x="1566.0" y="2340.8" font-size="16.3" text-anchor="middle">7.8</text><text x="1617.0" y="2340.8" font-size="16.3" text-anchor="middle">62.9</text><text x="1738.4" y="2340.8" font-size="16.3" text-anchor="middle">2.8%</text><text x="1800.2" y="2340.8" font-size="16.3" text-anchor="middle">96.1%</text><text x="1162" y="2372.1" font-size="16.3" text-anchor="middle"><tspan font-style="italic">Airn</tspan>-like 1</text><text x="1220.2" y="2372.1" font-size="16.3">5’UTR</text><text x="1278.0" y="2372.1" font-size="16.3">chr3:90312598-90313653</text><text x="1513.2" y="2372.1" font-size="16.3" text-anchor="middle">1056</text><text x="1566.0" y="2372.1" font-size="16.3" text-anchor="middle">7.7</text><text x="1617.0" y="2372.1" font-size="16.3" text-anchor="middle">60.1</text><text x="1738.4" y="2372.1" font-size="16.3" text-anchor="middle">0.0%</text><text x="1800.2" y="2372.1" font-size="16.3" text-anchor="middle">4.8%</text><text x="1162" y="2403.5" font-size="16.3" text-anchor="middle"><tspan font-style="italic">Airn</tspan>-like 2</text><text x="1220.2" y="2403.5" font-size="16.3">5’UTR</text><text x="1278.0" y="2403.5" font-size="16.3">chr3:130813600-130814651</text><text x="1513.2" y="2403.5" font-size="16.3" text-anchor="middle">1051</text><text x="1566.0" y="2403.5" font-size="16.3" text-anchor="middle">7.5</text><text x="1617.0" y="2403.5" font-size="16.3" text-anchor="middle">60.7</text><text x="1738.4" y="2403.5" font-size="16.3" text-anchor="middle">3.6%</text><text x="1800.2" y="2403.5" font-size="16.3" text-anchor="middle">9.9%</text><text x="1162" y="2435" font-size="16.3" text-anchor="middle"><tspan font-style="italic">Airn</tspan>-like 3</text><text x="1220.2" y="2435.0" font-size="16.3">intron</text><text x="1278.0" y="2435.0" font-size="16.3">chr11:120094748-120095803</text><text x="1513.2" y="2435.0" font-size="16.3" text-anchor="middle">1055</text><text x="1566.0" y="2435.0" font-size="16.3" text-anchor="middle">7.4</text><text x="1617.0" y="2435.0" font-size="16.3" text-anchor="middle">63.8</text><text x="1738.4" y="2435.0" font-size="16.3" text-anchor="middle">22.9%</text><text x="1800.2" y="2435.0" font-size="16.3" text-anchor="middle">41.0%</text><text x="1162" y="2466.2" font-size="16.3" text-anchor="middle"><tspan font-style="italic">Airn</tspan>-like 4</text><text x="1220.2" y="2466.2" font-size="16.3">intron</text><text x="1278.0" y="2466.2" font-size="16.3">chr12:74145698-74146703</text><text x="1513.2" y="2466.2" font-size="16.3" text-anchor="middle">1006</text><text x="1566.0" y="2466.2" font-size="16.3" text-anchor="middle">7.2</text><text x="1617.0" y="2466.2" font-size="16.3" text-anchor="middle">60.6</text><text x="1738.4" y="2466.2" font-size="16.3" text-anchor="middle">6.2%</text><text x="1800.2" y="2466.2" font-size="16.3" text-anchor="middle">0.0%</text><text x="1679.0" y="2502.0" font-size="16.3" text-anchor="end">% DNA methylation:</text><rect x="1684.5" y="2491.4" width="31.5" height="11.3" fill="#f4dfa4"/><rect x="1716" y="2491.4" width="30.2" height="11.3" fill="#edb35e"/><rect x="1746.2" y="2491.4" width="32.5" height="11.3" fill="#e5904a"/><rect x="1778.7" y="2491.4" width="32.6" height="11.3" fill="#df6a46"/><path d="M1684.5 2491.4H1811.3V2502.7H1684.5ZM1716 2491.4V2502.7M1746.2 2491.4V2502.7M1778.7 2491.4V2502.7M1684.5 2502.7v3.5M1746.2 2502.7v3.5M1811.3 2502.7v3.5" stroke="#111" stroke-width="1.4" fill="none"/><text x="1684.3" y="2518.4" font-size="16.3" text-anchor="middle">0</text><text x="1746.2" y="2518.4" font-size="16.3" text-anchor="middle">50</text><text x="1799.5" y="2518.4" font-size="16.3" text-anchor="middle">100</text>
</svg>
</body></html>
